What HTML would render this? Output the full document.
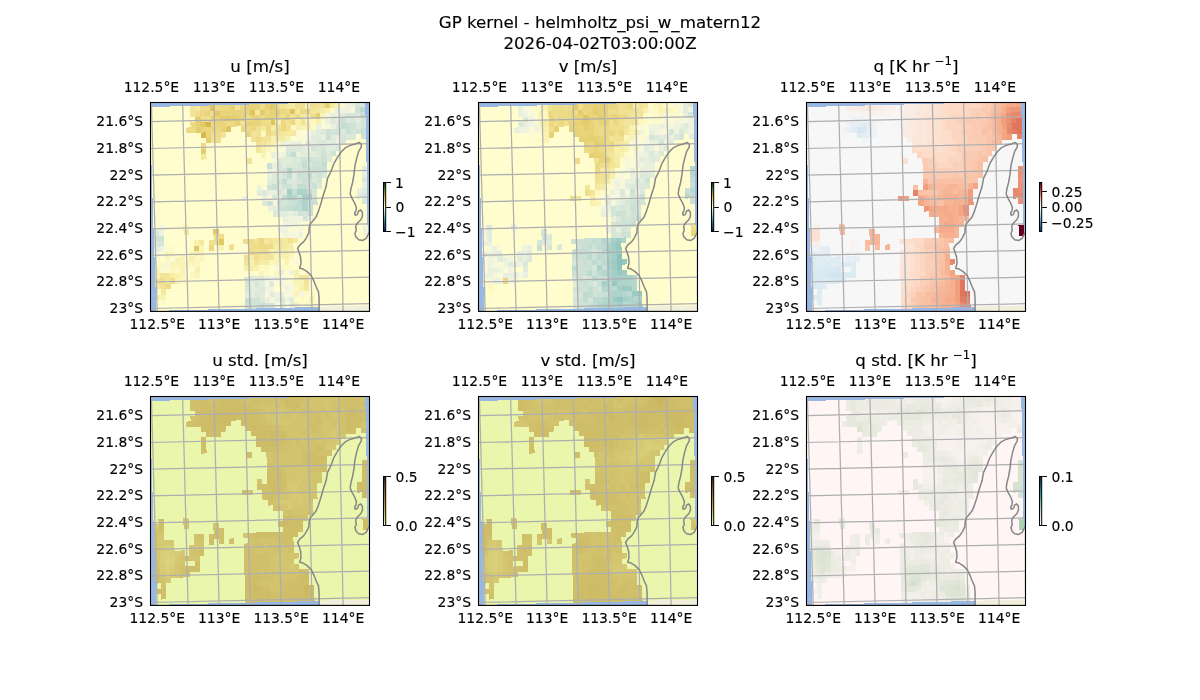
<!DOCTYPE html>
<html><head><meta charset="utf-8"><title>GP kernel</title>
<style>
html,body{margin:0;padding:0;background:#fff}
svg{display:block;will-change:transform}
text{font-family:"DejaVu Sans","Liberation Sans",sans-serif;font-size:13.89px;fill:#000;stroke:#000;stroke-width:0.14px}
</style></head><body>

<svg width="1200" height="700" viewBox="0 0 1200 700">
<rect width="1200" height="700" fill="#fff"/>
<text x="600" y="27.6" style="font-size:16.67px" text-anchor="middle">GP kernel - helmholtz_psi_w_matern12</text>
<text x="600" y="48.6" style="font-size:16.67px" text-anchor="middle">2026-04-02T03:00:00Z</text>
<g transform="translate(150.5 102.5)">
<clipPath id="c0"><rect x="0" y="0" width="219.0" height="208.9"/></clipPath>
<g clip-path="url(#c0)">
<rect x="0" y="0" width="219.0" height="208.9" fill="#98b7e2"/>
<path d="M168.6 209 L168.6 196.2 L168 189.4 L165.5 184 L163.4 178.6 L160.7 173.1 L156.6 169.1 L152.6 166.6 L149.2 165.7 L150.5 160.9 L150.1 154.8 L148.5 149.4 L147.1 146 L149.2 142.6 L153.3 139.2 L156 135.1 L158.3 130.4 L158.7 124.9 L160 120.9 L161.4 119.4 L165.5 114.6 L167.5 109.9 L170.2 101.7 L172.9 92.2 L175.6 84.1 L177 75.9 L180.4 69.1 L183.1 61.7 L186.5 55.6 L190.6 49.5 L194.6 45.4 L200.1 42.7 L205.5 41.3 L208.9 40 L210.9 42 L210.7 44.7 L208.2 48.8 L206.2 55.6 L204.4 63.7 L203.5 71.9 L202.1 80 L200.3 86.8 L199.7 91.5 L201.4 95.6 L204.1 100.4 L205.9 105.1 L205.5 108.5 L204.1 110.5 L204.8 112.8 L206.9 111.9 L208.2 108.5 L210.3 107.5 L211.9 109.9 L211.9 113.9 L210.3 117.3 L207.5 120 L205.5 122.8 L205.2 125 L205.8 127.7 L204.4 131.1 L205.5 134.5 L208.2 137.2 L212.3 137.9 L215.7 135.8 L217.7 131.8 L220 128.5 L221.0 210.9 L168.6 210.9 Z" fill="#efefdb"/>
<g transform="rotate(-1.45 109.5 104.15)" shape-rendering="crispEdges">
<polygon points="2.1,1.75 217.1,1.75 217.1,70.85 215.61,205.66 3.22,205.66 2.1,70.85" fill="rgb(255,253,205)"/>
<path fill="rgb(242,229,153)" d="M42.1 1.75h5.2v5.57h-5.2zM87.1 1.75h5.2v5.57h-5.2zM132.1 1.75h5.2v5.57h-5.2zM172.1 1.75h5.2v5.57h-5.2zM42.1 7.12h5.2v5.57h-5.2zM162.1 7.12h10.2v5.57h-10.2zM72.1 28.58h5.2v5.57h-5.2zM102.1 28.58h5.2v5.57h-5.2zM127.1 28.58h5.2v5.57h-5.2zM117.1 33.95h5.2v5.57h-5.2zM112.1 39.31h5.2v5.57h-5.2zM107.1 44.68h5.2v5.57h-5.2zM116.96 135.9h5.17v5.57h-5.17zM126.9 135.9h5.17v5.57h-5.17zM126.89 141.27h5.17v5.57h-5.17zM111.97 152h10.12v5.57h-10.12zM92.12 157.36h5.16v5.57h-5.16zM102.04 157.36h5.16v5.57h-5.16zM7.89 168.1h10.11v5.57h-10.11zM146.6 173.46h10.11v5.57h-10.11zM151.53 178.83h5.15v5.57h-5.15z"/>
<path fill="rgb(244,233,159)" d="M47.1 1.75h5.2v5.57h-5.2zM137.1 1.75h5.2v5.57h-5.2zM107.1 7.12h5.2v5.57h-5.2zM147.1 7.12h5.2v5.57h-5.2zM152.1 12.48h5.2v5.57h-5.2zM112.1 23.21h5.2v5.57h-5.2zM132.1 28.58h15.2v5.57h-15.2zM127.1 33.95h5.2v5.57h-5.2zM52.1 50.04h5.2v5.57h-5.2zM32.42 125.17h5.17v5.57h-5.17zM47.39 135.9h5.17v5.57h-5.17zM111.99 135.9h5.17v5.57h-5.17zM121.93 135.9h5.17v5.57h-5.17zM131.87 135.9h5.17v5.57h-5.17zM141.81 135.9h5.17v5.57h-5.17zM131.85 141.27h5.17v5.57h-5.17zM107 152h5.16v5.57h-5.16zM12.88 173.46h5.15v5.57h-5.15zM3.02 178.83h5.15v5.57h-5.15zM8.01 184.19h5.15v5.57h-5.15zM151.5 184.19h5.15v5.57h-5.15z"/>
<path fill="rgb(237,219,135)" d="M52.1 1.75h10.2v5.57h-10.2zM67.1 1.75h5.2v5.57h-5.2zM137.1 7.12h5.2v5.57h-5.2zM112.1 12.48h5.2v5.57h-5.2zM147.1 12.48h5.2v5.57h-5.2zM62.1 17.85h5.2v5.57h-5.2zM77.1 17.85h5.2v5.57h-5.2zM112.1 17.85h5.2v5.57h-5.2zM37.1 23.21h10.2v5.57h-10.2zM97.1 23.21h5.2v5.57h-5.2zM67.1 28.58h5.2v5.57h-5.2zM117.1 28.58h5.2v5.57h-5.2zM107.1 33.95h5.2v5.57h-5.2zM52.1 39.31h5.2v5.57h-5.2zM92.11 135.9h10.14v5.57h-10.14zM102.05 141.27h20.07v5.57h-20.07zM97.08 146.63h5.16v5.57h-5.16zM12.92 178.83h5.15v5.57h-5.15z"/>
<path fill="rgb(221,196,93)" d="M62.1 1.75h5.2v5.57h-5.2zM102.1 7.12h5.2v5.57h-5.2zM142.1 7.12h5.2v5.57h-5.2zM122.1 17.85h5.2v5.57h-5.2zM77.1 23.21h5.2v5.57h-5.2z"/>
<path fill="rgb(235,216,129)" d="M72.1 1.75h10.2v5.57h-10.2zM92.1 1.75h5.2v5.57h-5.2zM52.1 7.12h5.2v5.57h-5.2zM117.1 7.12h5.2v5.57h-5.2zM132.1 7.12h5.2v5.57h-5.2zM152.1 7.12h10.2v5.57h-10.2zM127.1 12.48h5.2v5.57h-5.2zM42.1 17.85h5.2v5.57h-5.2zM82.1 17.85h5.2v5.57h-5.2zM132.1 17.85h5.2v5.57h-5.2zM142.1 17.85h5.2v5.57h-5.2zM57.1 23.21h5.2v5.57h-5.2zM67.1 23.21h5.2v5.57h-5.2zM92.1 23.21h5.2v5.57h-5.2zM102.1 23.21h5.2v5.57h-5.2zM117.1 23.21h5.2v5.57h-5.2zM132.1 23.21h5.2v5.57h-5.2zM107.02 135.9h5.17v5.57h-5.17zM57.35 141.27h5.17v5.57h-5.17z"/>
<path fill="rgb(230,209,117)" d="M82.1 1.75h5.2v5.57h-5.2zM97.1 1.75h10.2v5.57h-10.2zM117.1 1.75h5.2v5.57h-5.2zM177.1 1.75h5.2v5.57h-5.2zM122.1 7.12h10.2v5.57h-10.2zM62.1 12.48h5.2v5.57h-5.2zM87.1 12.48h5.2v5.57h-5.2zM167.1 12.48h5.2v5.57h-5.2zM47.1 17.85h5.2v5.57h-5.2zM87.1 17.85h5.2v5.57h-5.2zM97.1 17.85h5.2v5.57h-5.2zM72.1 23.21h5.2v5.57h-5.2z"/>
<path fill="rgb(233,212,123)" d="M107.1 1.75h5.2v5.57h-5.2zM57.1 7.12h5.2v5.57h-5.2zM72.1 7.12h30.2v5.57h-30.2zM67.1 12.48h5.2v5.57h-5.2zM92.1 12.48h5.2v5.57h-5.2zM102.1 12.48h10.2v5.57h-10.2zM117.1 12.48h10.2v5.57h-10.2zM137.1 12.48h5.2v5.57h-5.2zM67.1 17.85h10.2v5.57h-10.2zM102.1 17.85h10.2v5.57h-10.2zM52.1 23.21h5.2v5.57h-5.2zM62.1 23.21h5.2v5.57h-5.2zM57.1 28.58h5.2v5.57h-5.2zM97.1 28.58h5.2v5.57h-5.2z"/>
<path fill="rgb(239,222,141)" d="M112.1 1.75h5.2v5.57h-5.2zM127.1 1.75h5.2v5.57h-5.2zM162.1 1.75h5.2v5.57h-5.2zM47.1 7.12h5.2v5.57h-5.2zM62.1 7.12h5.2v5.57h-5.2zM52.1 12.48h10.2v5.57h-10.2zM97.1 12.48h5.2v5.57h-5.2zM132.1 12.48h5.2v5.57h-5.2zM162.1 12.48h5.2v5.57h-5.2zM117.1 17.85h5.2v5.57h-5.2zM62.1 28.58h5.2v5.57h-5.2zM67.1 33.95h5.2v5.57h-5.2zM62.28 130.53h10.14v5.57h-10.14zM57.33 135.9h10.14v5.57h-10.14zM77.21 141.27h5.17v5.57h-5.17zM97.08 141.27h5.17v5.57h-5.17zM107.01 146.63h10.13v5.57h-10.13zM92.12 152h5.16v5.57h-5.16zM102.04 152h5.16v5.57h-5.16zM7.93 173.46h5.15v5.57h-5.15zM17.83 173.46h5.15v5.57h-5.15z"/>
<path fill="rgb(226,202,105)" d="M122.1 1.75h5.2v5.57h-5.2zM77.1 12.48h5.2v5.57h-5.2zM52.1 17.85h5.2v5.57h-5.2zM62.27 125.17h5.17v5.57h-5.17zM67.27 135.9h5.17v5.57h-5.17zM42.44 141.27h5.17v5.57h-5.17z"/>
<path fill="rgb(246,236,165)" d="M142.1 1.75h5.2v5.57h-5.2zM182.1 1.75h5.2v5.57h-5.2zM172.1 7.12h5.2v5.57h-5.2zM157.1 12.48h5.2v5.57h-5.2zM122.1 23.21h5.2v5.57h-5.2zM132.1 33.95h5.2v5.57h-5.2zM117.1 39.31h5.2v5.57h-5.2zM121.92 141.27h5.17v5.57h-5.17zM136.82 141.27h5.17v5.57h-5.17zM126.87 146.63h10.13v5.57h-10.13zM97.08 152h5.16v5.57h-5.16zM107 157.36h10.12v5.57h-10.12zM97.08 162.73h5.16v5.57h-5.16zM17.8 168.1h5.16v5.57h-5.16z"/>
<path fill="rgb(241,226,147)" d="M147.1 1.75h10.2v5.57h-10.2zM167.1 1.75h5.2v5.57h-5.2zM142.1 12.48h5.2v5.57h-5.2zM92.1 17.85h5.2v5.57h-5.2zM137.1 17.85h5.2v5.57h-5.2zM152.1 17.85h5.2v5.57h-5.2zM107.1 23.21h5.2v5.57h-5.2zM127.1 23.21h5.2v5.57h-5.2zM137.1 23.21h5.2v5.57h-5.2zM107.1 28.58h5.2v5.57h-5.2zM122.1 28.58h5.2v5.57h-5.2zM62.1 33.95h5.2v5.57h-5.2zM102.1 33.95h5.2v5.57h-5.2zM112.1 33.95h5.2v5.57h-5.2zM107.1 39.31h5.2v5.57h-5.2zM97.1 55.41h5.2v5.57h-5.2zM102.05 135.9h5.17v5.57h-5.17zM136.84 135.9h5.17v5.57h-5.17zM102.05 146.63h5.16v5.57h-5.16zM2.98 173.46h5.15v5.57h-5.15zM7.97 178.83h5.15v5.57h-5.15z"/>
<path fill="rgb(250,243,182)" d="M157.1 1.75h5.2v5.57h-5.2zM187.1 1.75h5.2v5.57h-5.2zM172.1 12.48h5.2v5.57h-5.2zM157.1 17.85h5.2v5.57h-5.2zM152.1 23.21h5.2v5.57h-5.2zM137.1 33.95h5.2v5.57h-5.2zM112.1 50.04h5.2v5.57h-5.2zM47.41 141.27h5.17v5.57h-5.17zM12.68 146.63h5.16v5.57h-5.16zM47.43 146.63h5.16v5.57h-5.16zM22.65 152h10.12v5.57h-10.12zM121.89 152h10.12v5.57h-10.12zM17.72 157.36h15.08v5.57h-15.08zM121.88 157.36h5.16v5.57h-5.16zM131.8 157.36h5.16v5.57h-5.16zM2.89 162.73h5.16v5.57h-5.16zM27.67 162.73h5.16v5.57h-5.16zM27.71 168.1h5.16v5.57h-5.16zM42.57 168.1h5.16v5.57h-5.16zM106.99 168.1h5.16v5.57h-5.16zM22.79 173.46h5.15v5.57h-5.15zM141.63 178.83h10.1v5.57h-10.1zM8.06 189.56h5.15v5.57h-5.15zM141.58 189.56h5.15v5.57h-5.15zM141.53 200.29h5.14v5.57h-5.14z"/>
<path fill="rgb(251,250,214)" d="M192.1 1.75h5.2v5.57h-5.2zM172.1 17.85h5.2v5.57h-5.2zM172.1 23.21h5.2v5.57h-5.2zM147.1 28.58h5.2v5.57h-5.2zM147.1 33.95h10.2v5.57h-10.2zM152.1 39.31h5.2v5.57h-5.2zM127.1 44.68h10.2v5.57h-10.2zM146.86 119.8h10.15v5.57h-10.15zM136.88 125.17h10.15v5.57h-10.15zM12.64 141.27h5.17v5.57h-5.17zM17.68 152h5.16v5.57h-5.16zM141.72 157.36h5.16v5.57h-5.16zM7.84 162.73h5.16v5.57h-5.16zM131.74 173.46h5.15v5.57h-5.15zM121.83 178.83h5.15v5.57h-5.15zM131.73 178.83h5.15v5.57h-5.15zM131.65 200.29h5.14v5.57h-5.14z"/>
<path fill="rgb(240,244,223)" d="M197.1 1.75h5.2v5.57h-5.2zM192.1 7.12h10.2v5.57h-10.2zM187.1 12.48h5.2v5.57h-5.2zM157.1 33.95h5.2v5.57h-5.2zM137.1 39.31h5.2v5.57h-5.2zM187.1 39.31h5.2v5.57h-5.2zM132.1 50.04h5.2v5.57h-5.2zM122.1 66.14h5.2v5.57h-5.2zM107.08 82.24h5.19v5.57h-5.19zM136.92 114.44h15.14v5.57h-15.14zM156.84 114.44h5.18v5.57h-5.18zM131.93 119.8h15.13v5.57h-15.13zM7.55 125.17h5.17v5.57h-5.17zM126.93 125.17h10.15v5.57h-10.15zM211.5 125.17h5.17v5.57h-5.17zM131.89 130.53h5.17v5.57h-5.17zM146.8 130.53h5.17v5.57h-5.17zM211.44 130.53h5.17v5.57h-5.17zM7.68 141.27h5.17v5.57h-5.17zM136.72 168.1h5.16v5.57h-5.16zM116.89 173.46h10.11v5.57h-10.11zM126.78 178.83h5.15v5.57h-5.15zM111.92 184.19h10.1v5.57h-10.1zM131.71 184.19h5.15v5.57h-5.15zM121.8 189.56h5.15v5.57h-5.15zM131.67 194.93h5.14v5.57h-5.14z"/>
<path fill="rgb(233,240,222)" d="M202.1 1.75h5.2v5.57h-5.2zM187.1 7.12h5.2v5.57h-5.2zM182.1 12.48h5.2v5.57h-5.2zM177.1 17.85h5.2v5.57h-5.2zM167.1 23.21h5.2v5.57h-5.2zM182.1 23.21h5.2v5.57h-5.2zM162.1 28.58h5.2v5.57h-5.2zM172.1 33.95h5.2v5.57h-5.2zM187.1 33.95h5.2v5.57h-5.2zM132.1 39.31h5.2v5.57h-5.2zM142.1 39.31h10.2v5.57h-10.2zM162.1 39.31h5.2v5.57h-5.2zM157.1 44.68h5.2v5.57h-5.2zM122.1 50.04h5.2v5.57h-5.2zM147.1 50.04h5.2v5.57h-5.2zM122.1 60.78h5.2v5.57h-5.2zM117.1 66.14h5.2v5.57h-5.2zM117.09 71.51h5.2v5.57h-5.2zM212.06 71.51h5.2v5.57h-5.2zM211.95 82.24h5.19v5.57h-5.19zM117.06 87.61h10.18v5.57h-10.18zM206.9 87.61h5.19v5.57h-5.19zM92.11 92.97h5.19v5.57h-5.19zM112.06 92.97h5.19v5.57h-5.19zM127.03 92.97h5.19v5.57h-5.19zM117.03 103.7h5.18v5.57h-5.18zM136.94 109.07h5.18v5.57h-5.18zM131.94 114.44h5.18v5.57h-5.18zM2.71 141.27h5.17v5.57h-5.17zM126.81 168.1h5.16v5.57h-5.16zM111.93 173.46h5.15v5.57h-5.15zM126.74 189.56h5.15v5.57h-5.15zM111.9 194.93h5.14v5.57h-5.14zM121.79 194.93h5.14v5.57h-5.14z"/>
<path fill="rgb(213,229,216)" d="M207.1 1.75h5.2v5.57h-5.2zM197.1 12.48h10.2v5.57h-10.2zM202.1 17.85h5.2v5.57h-5.2zM212.1 17.85h5.2v5.57h-5.2zM212.1 23.21h5.2v5.57h-5.2zM182.1 28.58h5.2v5.57h-5.2zM202.1 28.58h5.2v5.57h-5.2zM192.1 33.95h5.2v5.57h-5.2zM192.1 39.31h5.2v5.57h-5.2zM162.1 44.68h5.2v5.57h-5.2zM172.1 44.68h5.2v5.57h-5.2zM187.1 44.68h5.2v5.57h-5.2zM137.1 50.04h5.2v5.57h-5.2zM162.1 55.41h10.2v5.57h-10.2zM127.1 60.78h5.2v5.57h-5.2zM147.1 60.78h5.2v5.57h-5.2zM127.1 66.14h10.2v5.57h-10.2zM142.1 66.14h10.2v5.57h-10.2zM132.09 71.51h5.2v5.57h-5.2zM127.07 76.87h5.2v5.57h-5.2zM147.06 76.87h5.2v5.57h-5.2zM167.04 76.87h5.2v5.57h-5.2zM157.02 82.24h5.19v5.57h-5.19zM127.04 87.61h5.19v5.57h-5.19zM161.98 87.61h5.19v5.57h-5.19zM122.04 92.97h5.19v5.57h-5.19zM161.95 92.97h5.19v5.57h-5.19zM132 98.34h5.19v5.57h-5.19zM151.89 109.07h5.18v5.57h-5.18zM151.86 114.44h5.18v5.57h-5.18zM7.63 135.9h5.17v5.57h-5.17zM92.12 173.46h5.15v5.57h-5.15zM92.12 178.83h5.15v5.57h-5.15zM102.02 178.83h5.15v5.57h-5.15zM102.01 200.29h5.14v5.57h-5.14zM111.89 200.29h10.08v5.57h-10.08z"/>
<path fill="rgb(220,232,218)" d="M212.1 1.75h5.2v5.57h-5.2zM207.1 12.48h5.2v5.57h-5.2zM182.1 17.85h5.2v5.57h-5.2zM197.1 17.85h5.2v5.57h-5.2zM187.1 23.21h5.2v5.57h-5.2zM207.1 23.21h5.2v5.57h-5.2zM172.1 28.58h5.2v5.57h-5.2zM192.1 28.58h5.2v5.57h-5.2zM197.1 33.95h10.2v5.57h-10.2zM157.1 39.31h5.2v5.57h-5.2zM167.1 39.31h10.2v5.57h-10.2zM137.1 44.68h15.2v5.57h-15.2zM167.1 44.68h5.2v5.57h-5.2zM167.1 50.04h5.2v5.57h-5.2zM177.1 50.04h5.2v5.57h-5.2zM127.1 55.41h5.2v5.57h-5.2zM142.1 55.41h10.2v5.57h-10.2zM177.1 55.41h5.2v5.57h-5.2zM137.1 60.78h10.2v5.57h-10.2zM157.1 60.78h5.2v5.57h-5.2zM122.09 71.51h5.2v5.57h-5.2zM162.08 71.51h5.2v5.57h-5.2zM172.08 71.51h5.2v5.57h-5.2zM122.08 76.87h5.2v5.57h-5.2zM137.07 76.87h10.19v5.57h-10.19zM162.05 76.87h5.2v5.57h-5.2zM212.01 76.87h5.2v5.57h-5.2zM127.06 82.24h5.19v5.57h-5.19zM142.04 82.24h5.19v5.57h-5.19zM167.01 82.24h5.19v5.57h-5.19zM112.07 87.61h5.19v5.57h-5.19zM211.84 92.97h5.19v5.57h-5.19zM112.05 98.34h5.19v5.57h-5.19zM211.78 98.34h5.19v5.57h-5.19zM122 109.07h5.18v5.57h-5.18zM2.57 125.17h5.17v5.57h-5.17zM2.66 135.9h5.17v5.57h-5.17zM97.08 173.46h15.06v5.57h-15.06zM92.13 184.19h5.15v5.57h-5.15zM106.97 184.19h5.15v5.57h-5.15zM102.02 189.56h5.15v5.57h-5.15zM106.96 194.93h5.14v5.57h-5.14zM126.73 194.93h5.14v5.57h-5.14z"/>
<path fill="rgb(223,199,99)" d="M67.1 7.12h5.2v5.57h-5.2z"/>
<path fill="rgb(228,205,111)" d="M112.1 7.12h5.2v5.57h-5.2zM47.1 12.48h5.2v5.57h-5.2zM72.1 12.48h5.2v5.57h-5.2zM82.1 12.48h5.2v5.57h-5.2zM47.1 23.21h5.2v5.57h-5.2zM57.1 33.95h5.2v5.57h-5.2zM52.1 44.68h5.2v5.57h-5.2z"/>
<path fill="rgb(248,240,173)" d="M177.1 7.12h5.2v5.57h-5.2zM127.1 17.85h5.2v5.57h-5.2zM147.1 17.85h5.2v5.57h-5.2zM167.1 17.85h5.2v5.57h-5.2zM147.1 23.21h5.2v5.57h-5.2zM157.1 23.21h5.2v5.57h-5.2zM122.1 33.95h5.2v5.57h-5.2zM122.1 39.31h5.2v5.57h-5.2zM112.1 44.68h5.2v5.57h-5.2zM42.42 135.9h5.17v5.57h-5.17zM67.28 141.27h5.17v5.57h-5.17zM42.47 146.63h5.16v5.57h-5.16zM116.94 146.63h10.13v5.57h-10.13zM136.8 146.63h5.16v5.57h-5.16zM37.53 152h5.16v5.57h-5.16zM131.82 152h5.16v5.57h-5.16zM97.08 157.36h5.16v5.57h-5.16zM42.55 162.73h5.16v5.57h-5.16zM92.12 162.73h5.16v5.57h-5.16zM102.04 162.73h5.16v5.57h-5.16zM2.93 168.1h5.16v5.57h-5.16zM22.75 168.1h5.16v5.57h-5.16zM141.67 168.1h5.16v5.57h-5.16zM141.65 173.46h5.15v5.57h-5.15zM146.55 184.19h5.15v5.57h-5.15zM3.11 189.56h5.15v5.57h-5.15zM156.39 194.93h5.14v5.57h-5.14z"/>
<path fill="rgb(253,250,197)" d="M182.1 7.12h5.2v5.57h-5.2zM142.1 23.21h5.2v5.57h-5.2zM162.1 23.21h5.2v5.57h-5.2zM122.1 44.68h5.2v5.57h-5.2zM17.61 141.27h5.17v5.57h-5.17zM92.12 146.63h5.16v5.57h-5.16zM2.8 152h5.16v5.57h-5.16zM2.84 157.36h5.16v5.57h-5.16zM12.8 162.73h5.16v5.57h-5.16zM22.72 162.73h5.16v5.57h-5.16zM106.99 162.73h5.16v5.57h-5.16zM126.82 162.73h15.07v5.57h-15.07zM97.08 168.1h5.16v5.57h-5.16zM111.94 168.1h5.16v5.57h-5.16zM32.69 173.46h5.15v5.57h-5.15zM151.47 189.56h10.09v5.57h-10.09zM8.1 194.93h5.14v5.57h-5.14zM146.5 194.93h5.14v5.57h-5.14z"/>
<path fill="rgb(246,247,220)" d="M202.1 7.12h5.2v5.57h-5.2zM177.1 12.48h5.2v5.57h-5.2zM177.1 23.21h5.2v5.57h-5.2zM157.1 28.58h5.2v5.57h-5.2zM127.1 50.04h5.2v5.57h-5.2zM122.1 55.41h5.2v5.57h-5.2zM117.05 92.97h5.19v5.57h-5.19zM122.02 98.34h5.19v5.57h-5.19zM7.51 119.8h5.18v5.57h-5.18zM146.83 125.17h5.17v5.57h-5.17zM136.86 130.53h10.14v5.57h-10.14zM2.75 146.63h5.16v5.57h-5.16zM12.76 157.36h5.16v5.57h-5.16zM121.87 162.73h5.16v5.57h-5.16zM126.79 173.46h5.15v5.57h-5.15zM111.92 178.83h5.15v5.57h-5.15zM136.68 178.83h5.15v5.57h-5.15zM136.66 184.19h5.15v5.57h-5.15zM111.91 189.56h5.15v5.57h-5.15zM131.69 189.56h10.09v5.57h-10.09zM146.53 189.56h5.15v5.57h-5.15zM116.84 194.93h5.14v5.57h-5.14zM121.77 200.29h5.14v5.57h-5.14z"/>
<path fill="rgb(207,226,214)" d="M207.1 7.12h5.2v5.57h-5.2zM202.1 23.21h5.2v5.57h-5.2zM177.1 28.58h5.2v5.57h-5.2zM187.1 28.58h5.2v5.57h-5.2zM207.1 28.58h5.2v5.57h-5.2zM212.1 33.95h5.2v5.57h-5.2zM172.1 50.04h5.2v5.57h-5.2zM182.1 50.04h5.2v5.57h-5.2zM152.1 55.41h10.2v5.57h-10.2zM172.1 55.41h5.2v5.57h-5.2zM162.1 60.78h10.2v5.57h-10.2zM152.1 66.14h10.2v5.57h-10.2zM152.08 71.51h5.2v5.57h-5.2zM167.08 71.51h5.2v5.57h-5.2zM157.05 76.87h5.2v5.57h-5.2zM117.07 82.24h5.19v5.57h-5.19zM132.05 82.24h10.19v5.57h-10.19zM146.98 92.97h5.19v5.57h-5.19zM117.04 98.34h5.19v5.57h-5.19zM127.01 98.34h5.19v5.57h-5.19zM136.98 98.34h5.19v5.57h-5.19zM127 103.7h5.18v5.57h-5.18zM146.91 109.07h5.18v5.57h-5.18zM2.62 130.53h10.14v5.57h-10.14zM97.07 194.93h10.09v5.57h-10.09zM97.07 200.29h5.14v5.57h-5.14z"/>
<path fill="rgb(188,218,208)" d="M212.1 7.12h5.2v5.57h-5.2zM146.96 98.34h5.19v5.57h-5.19zM141.95 103.7h5.18v5.57h-5.18z"/>
<path fill="rgb(226,236,220)" d="M192.1 12.48h5.2v5.57h-5.2zM187.1 17.85h5.2v5.57h-5.2zM207.1 17.85h5.2v5.57h-5.2zM167.1 28.58h5.2v5.57h-5.2zM162.1 33.95h10.2v5.57h-10.2zM182.1 33.95h5.2v5.57h-5.2zM177.1 39.31h10.2v5.57h-10.2zM152.1 44.68h5.2v5.57h-5.2zM177.1 44.68h10.2v5.57h-10.2zM152.1 50.04h15.2v5.57h-15.2zM132.1 55.41h10.2v5.57h-10.2zM132.1 60.78h5.2v5.57h-5.2zM212.1 66.14h5.2v5.57h-5.2zM127.09 71.51h5.2v5.57h-5.2zM142.09 71.51h5.2v5.57h-5.2zM117.08 76.87h5.2v5.57h-5.2zM107.08 87.61h5.19v5.57h-5.19zM132.03 87.61h5.19v5.57h-5.19zM211.89 87.61h5.19v5.57h-5.19zM206.85 92.97h5.19v5.57h-5.19zM122.01 103.7h5.18v5.57h-5.18zM126.98 109.07h10.16v5.57h-10.16zM141.92 109.07h5.18v5.57h-5.18zM97.07 178.83h5.15v5.57h-5.15zM106.97 178.83h5.15v5.57h-5.15zM116.87 178.83h5.15v5.57h-5.15zM97.07 184.19h10.1v5.57h-10.1zM92.13 189.56h10.09v5.57h-10.09zM106.96 189.56h5.15v5.57h-5.15zM116.85 189.56h5.15v5.57h-5.15zM136.61 194.93h5.14v5.57h-5.14zM126.71 200.29h5.14v5.57h-5.14zM136.59 200.29h5.14v5.57h-5.14z"/>
<path fill="rgb(202,223,213)" d="M212.1 12.48h5.2v5.57h-5.2zM192.1 17.85h5.2v5.57h-5.2zM197.1 23.21h5.2v5.57h-5.2zM197.1 28.58h5.2v5.57h-5.2zM212.1 28.58h5.2v5.57h-5.2zM177.1 33.95h5.2v5.57h-5.2zM117.1 60.78h5.2v5.57h-5.2zM162.1 66.14h15.2v5.57h-15.2zM147.08 71.51h5.2v5.57h-5.2zM152.05 76.87h5.2v5.57h-5.2zM122.06 82.24h5.19v5.57h-5.19zM162.01 82.24h5.19v5.57h-5.19zM142.02 87.61h5.19v5.57h-5.19zM141.97 98.34h5.19v5.57h-5.19zM161.92 98.34h5.19v5.57h-5.19zM131.98 103.7h10.17v5.57h-10.17zM156.9 103.7h5.18v5.57h-5.18zM156.87 109.07h5.18v5.57h-5.18zM92.13 200.29h5.14v5.57h-5.14zM106.95 200.29h5.14v5.57h-5.14z"/>
<path fill="rgb(213,186,75)" d="M57.1 17.85h5.2v5.57h-5.2zM52.1 28.58h5.2v5.57h-5.2z"/>
<path fill="rgb(252,247,190)" d="M162.1 17.85h5.2v5.57h-5.2zM112.1 28.58h5.2v5.57h-5.2zM127.1 39.31h5.2v5.57h-5.2zM117.1 44.68h5.2v5.57h-5.2zM32.39 119.8h5.18v5.57h-5.18zM17.65 146.63h5.16v5.57h-5.16zM37.51 146.63h5.16v5.57h-5.16zM12.72 152h5.16v5.57h-5.16zM42.5 152h10.12v5.57h-10.12zM136.78 152h5.16v5.57h-5.16zM7.8 157.36h5.16v5.57h-5.16zM32.6 157.36h15.08v5.57h-15.08zM116.92 157.36h5.16v5.57h-5.16zM17.76 162.73h5.16v5.57h-5.16zM111.95 162.73h5.16v5.57h-5.16zM37.62 168.1h5.16v5.57h-5.16zM121.85 168.1h5.16v5.57h-5.16zM27.74 173.46h5.15v5.57h-5.15zM141.6 184.19h5.15v5.57h-5.15zM151.41 200.29h10.08v5.57h-10.08z"/>
<path fill="rgb(196,221,211)" d="M192.1 23.21h5.2v5.57h-5.2zM142.1 50.04h5.2v5.57h-5.2zM152.1 60.78h5.2v5.57h-5.2zM172.1 60.78h5.2v5.57h-5.2zM137.09 71.51h5.2v5.57h-5.2zM157.08 71.51h5.2v5.57h-5.2zM132.07 76.87h5.2v5.57h-5.2zM147.03 82.24h10.19v5.57h-10.19zM156.99 87.61h5.19v5.57h-5.19zM132.02 92.97h5.19v5.57h-5.19zM156.93 98.34h5.19v5.57h-5.19zM146.93 103.7h5.18v5.57h-5.18zM92.13 194.93h5.14v5.57h-5.14z"/>
<path fill="rgb(255,253,205)" d="M152.1 28.58h5.2v5.57h-5.2zM142.1 33.95h5.2v5.57h-5.2zM117.1 50.04h5.2v5.57h-5.2zM117.1 55.41h5.2v5.57h-5.2zM97.09 92.97h5.19v5.57h-5.19zM7.72 146.63h5.16v5.57h-5.16zM7.76 152h5.16v5.57h-5.16zM126.84 157.36h5.16v5.57h-5.16zM136.76 157.36h5.16v5.57h-5.16zM116.91 162.73h5.16v5.57h-5.16zM32.66 168.1h5.16v5.57h-5.16zM92.12 168.1h5.16v5.57h-5.16zM102.03 168.1h5.16v5.57h-5.16zM116.9 168.1h5.16v5.57h-5.16zM131.76 168.1h5.16v5.57h-5.16zM136.7 173.46h5.15v5.57h-5.15zM121.81 184.19h10.1v5.57h-10.1zM141.56 194.93h5.14v5.57h-5.14zM151.44 194.93h5.14v5.57h-5.14zM146.47 200.29h5.14v5.57h-5.14z"/>
<path fill="rgb(181,214,205)" d="M137.1 66.14h5.2v5.57h-5.2zM141.99 92.97h5.19v5.57h-5.19z"/>
<path fill="rgb(166,207,200)" d="M137.03 87.61h5.19v5.57h-5.19zM151.97 92.97h10.18v5.57h-10.18z"/>
<path fill="rgb(173,211,203)" d="M147.01 87.61h10.18v5.57h-10.18zM137 92.97h5.19v5.57h-5.19zM151.94 98.34h5.19v5.57h-5.19zM151.92 103.7h5.18v5.57h-5.18z"/>
</g>
<path d="M0.9 0L6.7 208.9M32.1 0L37.6 208.9M63.4 0L68.6 208.9M94.6 0L99.6 208.9M125.9 0L130.6 208.9M157.1 0L161.5 208.9M188.4 0L192.6 208.9M0 19.1L219 14.2M0 46L219 41.1M0 72.7L219 67.8M0 99.4L219 94.5M0 126.3L219 121.4M0 152.8L219 147.9M0 179.5L219 174.6M0 206L219 201.1" stroke="#aeaeb0" stroke-width="1.25" fill="none"/>
<path d="M168.6 209 L168.6 196.2 L168 189.4 L165.5 184 L163.4 178.6 L160.7 173.1 L156.6 169.1 L152.6 166.6 L149.2 165.7 L150.5 160.9 L150.1 154.8 L148.5 149.4 L147.1 146 L149.2 142.6 L153.3 139.2 L156 135.1 L158.3 130.4 L158.7 124.9 L160 120.9 L161.4 119.4 L165.5 114.6 L167.5 109.9 L170.2 101.7 L172.9 92.2 L175.6 84.1 L177 75.9 L180.4 69.1 L183.1 61.7 L186.5 55.6 L190.6 49.5 L194.6 45.4 L200.1 42.7 L205.5 41.3 L208.9 40 L210.9 42 L210.7 44.7 L208.2 48.8 L206.2 55.6 L204.4 63.7 L203.5 71.9 L202.1 80 L200.3 86.8 L199.7 91.5 L201.4 95.6 L204.1 100.4 L205.9 105.1 L205.5 108.5 L204.1 110.5 L204.8 112.8 L206.9 111.9 L208.2 108.5 L210.3 107.5 L211.9 109.9 L211.9 113.9 L210.3 117.3 L207.5 120 L205.5 122.8 L205.2 125 L205.8 127.7 L204.4 131.1 L205.5 134.5 L208.2 137.2 L212.3 137.9 L215.7 135.8 L217.7 131.8 L220 128.5" stroke="#878787" stroke-width="1.5" fill="none" stroke-linejoin="round"/>
</g>
<rect x="0" y="0" width="219.0" height="208.9" fill="none" stroke="#000" stroke-width="1.1"/>
<text x="109.5" y="-30.3" style="font-size:16.67px" text-anchor="middle">u [m/s]</text>
<text x="0.9" y="-10.9" text-anchor="middle">112.5°E</text>
<text x="6.7" y="226.8" text-anchor="middle">112.5°E</text>
<text x="63.4" y="-10.9" text-anchor="middle">113°E</text>
<text x="68.6" y="226.8" text-anchor="middle">113°E</text>
<text x="125.9" y="-10.9" text-anchor="middle">113.5°E</text>
<text x="130.6" y="226.8" text-anchor="middle">113.5°E</text>
<text x="188.4" y="-10.9" text-anchor="middle">114°E</text>
<text x="192.6" y="226.8" text-anchor="middle">114°E</text>
<text x="-7.5" y="23.5" text-anchor="end">21.6°S</text>
<text x="-7.5" y="50.4" text-anchor="end">21.8°S</text>
<text x="-7.5" y="77.1" text-anchor="end">22°S</text>
<text x="-7.5" y="103.8" text-anchor="end">22.2°S</text>
<text x="-7.5" y="130.7" text-anchor="end">22.4°S</text>
<text x="-7.5" y="157.2" text-anchor="end">22.6°S</text>
<text x="-7.5" y="183.9" text-anchor="end">22.8°S</text>
<text x="-7.5" y="210.4" text-anchor="end">23°S</text>
<linearGradient id="g0" x1="0" y1="0" x2="0" y2="1"><stop offset="0%" stop-color="rgb(23,35,19)"/><stop offset="8.3%" stop-color="rgb(35,107,47)"/><stop offset="16.7%" stop-color="rgb(92,145,41)"/><stop offset="25%" stop-color="rgb(180,170,45)"/><stop offset="33.3%" stop-color="rgb(222,197,95)"/><stop offset="41.7%" stop-color="rgb(240,225,145)"/><stop offset="50%" stop-color="rgb(255,253,205)"/><stop offset="58.3%" stop-color="rgb(205,225,214)"/><stop offset="66.7%" stop-color="rgb(144,197,192)"/><stop offset="75%" stop-color="rgb(75,155,172)"/><stop offset="83.3%" stop-color="rgb(32,104,157)"/><stop offset="91.7%" stop-color="rgb(26,65,129)"/><stop offset="100%" stop-color="rgb(17,32,64)"/></linearGradient>
<rect x="233.0" y="80.0" width="2.2" height="49" fill="url(#g0)" stroke="#000" stroke-width="1"/>
<path d="M235.7 80h4.7" stroke="#000" stroke-width="1"/>
<text x="244.5" y="85.3">1</text>
<path d="M235.7 105h4.7" stroke="#000" stroke-width="1"/>
<text x="245.1" y="109.8">0</text>
<path d="M235.7 129h4.7" stroke="#000" stroke-width="1"/>
<text x="244.5" y="134.3">−1</text>
</g>
<g transform="translate(478.5 102.5)">
<clipPath id="c1"><rect x="0" y="0" width="219.0" height="208.9"/></clipPath>
<g clip-path="url(#c1)">
<rect x="0" y="0" width="219.0" height="208.9" fill="#98b7e2"/>
<path d="M168.6 209 L168.6 196.2 L168 189.4 L165.5 184 L163.4 178.6 L160.7 173.1 L156.6 169.1 L152.6 166.6 L149.2 165.7 L150.5 160.9 L150.1 154.8 L148.5 149.4 L147.1 146 L149.2 142.6 L153.3 139.2 L156 135.1 L158.3 130.4 L158.7 124.9 L160 120.9 L161.4 119.4 L165.5 114.6 L167.5 109.9 L170.2 101.7 L172.9 92.2 L175.6 84.1 L177 75.9 L180.4 69.1 L183.1 61.7 L186.5 55.6 L190.6 49.5 L194.6 45.4 L200.1 42.7 L205.5 41.3 L208.9 40 L210.9 42 L210.7 44.7 L208.2 48.8 L206.2 55.6 L204.4 63.7 L203.5 71.9 L202.1 80 L200.3 86.8 L199.7 91.5 L201.4 95.6 L204.1 100.4 L205.9 105.1 L205.5 108.5 L204.1 110.5 L204.8 112.8 L206.9 111.9 L208.2 108.5 L210.3 107.5 L211.9 109.9 L211.9 113.9 L210.3 117.3 L207.5 120 L205.5 122.8 L205.2 125 L205.8 127.7 L204.4 131.1 L205.5 134.5 L208.2 137.2 L212.3 137.9 L215.7 135.8 L217.7 131.8 L220 128.5 L221.0 210.9 L168.6 210.9 Z" fill="#efefdb"/>
<g transform="rotate(-1.45 109.5 104.15)" shape-rendering="crispEdges">
<polygon points="2.1,1.75 217.1,1.75 217.1,70.85 215.61,205.66 3.22,205.66 2.1,70.85" fill="rgb(255,253,205)"/>
<path fill="rgb(233,240,222)" d="M42.1 1.75h5.2v5.57h-5.2zM42.1 7.12h5.2v5.57h-5.2zM207.1 12.48h5.2v5.57h-5.2zM47.1 17.85h5.2v5.57h-5.2zM37.1 23.21h5.2v5.57h-5.2zM182.1 23.21h5.2v5.57h-5.2zM202.1 23.21h5.2v5.57h-5.2zM172.1 28.58h5.2v5.57h-5.2zM207.1 28.58h5.2v5.57h-5.2zM192.1 33.95h5.2v5.57h-5.2zM172.1 39.31h10.2v5.57h-10.2zM172.1 44.68h5.2v5.57h-5.2zM182.1 44.68h5.2v5.57h-5.2zM167.1 50.04h5.2v5.57h-5.2zM177.1 50.04h5.2v5.57h-5.2zM167.1 55.41h5.2v5.57h-5.2zM167.1 60.78h10.2v5.57h-10.2zM152.1 66.14h5.2v5.57h-5.2zM162.1 66.14h15.2v5.57h-15.2zM152.08 71.51h5.2v5.57h-5.2zM147.06 76.87h10.19v5.57h-10.19zM132.03 87.61h5.19v5.57h-5.19zM156.99 87.61h5.19v5.57h-5.19zM127.03 92.97h5.19v5.57h-5.19zM146.98 92.97h5.19v5.57h-5.19zM136.98 98.34h5.19v5.57h-5.19zM127 103.7h5.18v5.57h-5.18zM122 109.07h5.18v5.57h-5.18zM131.94 114.44h5.18v5.57h-5.18zM32.39 119.8h5.18v5.57h-5.18zM126.93 125.17h5.17v5.57h-5.17zM136.88 125.17h5.17v5.57h-5.17zM2.66 135.9h10.14v5.57h-10.14zM12.64 141.27h5.17v5.57h-5.17zM47.41 141.27h5.17v5.57h-5.17zM2.75 146.63h15.09v5.57h-15.09zM37.51 146.63h10.13v5.57h-10.13zM22.65 152h5.16v5.57h-5.16zM42.5 152h5.16v5.57h-5.16zM7.84 162.73h10.11v5.57h-10.11zM7.89 168.1h5.16v5.57h-5.16zM22.75 168.1h15.07v5.57h-15.07zM42.57 168.1h5.16v5.57h-5.16zM12.88 173.46h5.15v5.57h-5.15z"/>
<path fill="rgb(246,247,220)" d="M47.1 1.75h5.2v5.57h-5.2zM197.1 1.75h5.2v5.57h-5.2zM202.1 7.12h5.2v5.57h-5.2zM187.1 12.48h5.2v5.57h-5.2zM57.1 17.85h5.2v5.57h-5.2zM187.1 17.85h5.2v5.57h-5.2zM197.1 17.85h15.2v5.57h-15.2zM192.1 23.21h5.2v5.57h-5.2zM182.1 28.58h5.2v5.57h-5.2zM157.1 33.95h5.2v5.57h-5.2zM167.1 33.95h5.2v5.57h-5.2zM157.1 39.31h5.2v5.57h-5.2zM167.1 39.31h5.2v5.57h-5.2zM152.1 44.68h5.2v5.57h-5.2zM162.1 44.68h5.2v5.57h-5.2zM177.1 44.68h5.2v5.57h-5.2zM147.1 55.41h10.2v5.57h-10.2zM147.1 60.78h5.2v5.57h-5.2zM147.1 66.14h5.2v5.57h-5.2zM142.09 71.51h5.2v5.57h-5.2zM132.07 76.87h5.2v5.57h-5.2zM142.06 76.87h5.2v5.57h-5.2zM142.04 82.24h5.19v5.57h-5.19zM137.03 87.61h5.19v5.57h-5.19zM147.01 87.61h5.19v5.57h-5.19zM132.02 92.97h10.18v5.57h-10.18zM132 98.34h5.19v5.57h-5.19zM2.62 130.53h5.17v5.57h-5.17zM7.68 141.27h5.17v5.57h-5.17zM2.8 152h5.16v5.57h-5.16zM12.72 152h5.16v5.57h-5.16zM2.84 157.36h5.16v5.57h-5.16zM12.76 157.36h5.16v5.57h-5.16zM2.89 162.73h5.16v5.57h-5.16zM12.84 168.1h5.16v5.57h-5.16zM37.62 168.1h5.16v5.57h-5.16zM7.93 173.46h5.15v5.57h-5.15z"/>
<path fill="rgb(251,250,214)" d="M52.1 1.75h5.2v5.57h-5.2zM202.1 1.75h5.2v5.57h-5.2zM52.1 7.12h10.2v5.57h-10.2zM172.1 7.12h5.2v5.57h-5.2zM57.1 12.48h5.2v5.57h-5.2zM192.1 12.48h10.2v5.57h-10.2zM172.1 17.85h5.2v5.57h-5.2zM182.1 17.85h5.2v5.57h-5.2zM192.1 17.85h5.2v5.57h-5.2zM52.1 23.21h5.2v5.57h-5.2zM162.1 23.21h10.2v5.57h-10.2zM52.1 28.58h5.2v5.57h-5.2zM187.1 28.58h5.2v5.57h-5.2zM152.1 39.31h5.2v5.57h-5.2zM162.1 39.31h5.2v5.57h-5.2zM157.1 55.41h5.2v5.57h-5.2zM152.1 60.78h5.2v5.57h-5.2zM142.1 66.14h5.2v5.57h-5.2zM157.1 66.14h5.2v5.57h-5.2zM137.09 71.51h5.2v5.57h-5.2zM132.05 82.24h5.19v5.57h-5.19zM122.04 92.97h5.19v5.57h-5.19zM117.03 103.7h5.18v5.57h-5.18zM32.42 125.17h5.17v5.57h-5.17zM17.61 141.27h5.17v5.57h-5.17zM17.72 157.36h5.16v5.57h-5.16zM22.72 162.73h5.16v5.57h-5.16zM17.8 168.1h5.16v5.57h-5.16zM3.02 178.83h5.15v5.57h-5.15z"/>
<path fill="rgb(253,250,197)" d="M57.1 1.75h10.2v5.57h-10.2zM187.1 1.75h5.2v5.57h-5.2zM177.1 7.12h5.2v5.57h-5.2zM197.1 7.12h5.2v5.57h-5.2zM177.1 12.48h5.2v5.57h-5.2zM167.1 17.85h5.2v5.57h-5.2zM177.1 17.85h5.2v5.57h-5.2zM157.1 23.21h5.2v5.57h-5.2zM62.1 28.58h5.2v5.57h-5.2zM57.1 33.95h10.2v5.57h-10.2zM147.1 50.04h5.2v5.57h-5.2zM142.1 55.41h5.2v5.57h-5.2zM127.06 82.24h5.19v5.57h-5.19zM122.05 87.61h10.18v5.57h-10.18zM117.05 92.97h5.19v5.57h-5.19zM42.42 135.9h5.17v5.57h-5.17zM8.01 184.19h5.15v5.57h-5.15z"/>
<path fill="rgb(248,240,173)" d="M67.1 1.75h5.2v5.57h-5.2zM157.1 1.75h5.2v5.57h-5.2zM167.1 7.12h5.2v5.57h-5.2zM67.1 23.21h5.2v5.57h-5.2zM152.1 23.21h5.2v5.57h-5.2zM152.1 28.58h5.2v5.57h-5.2zM137.1 44.68h5.2v5.57h-5.2zM147.1 44.68h5.2v5.57h-5.2zM142.1 50.04h5.2v5.57h-5.2zM132.09 71.51h5.2v5.57h-5.2zM112.05 98.34h5.19v5.57h-5.19z"/>
<path fill="rgb(241,226,147)" d="M72.1 1.75h5.2v5.57h-5.2zM142.1 1.75h5.2v5.57h-5.2zM142.1 7.12h15.2v5.57h-15.2zM87.1 17.85h5.2v5.57h-5.2zM132.1 17.85h5.2v5.57h-5.2zM142.1 17.85h5.2v5.57h-5.2zM137.1 33.95h5.2v5.57h-5.2zM127.1 44.68h10.2v5.57h-10.2zM127.1 50.04h5.2v5.57h-5.2zM117.1 55.41h5.2v5.57h-5.2zM132.1 55.41h5.2v5.57h-5.2zM122.09 71.51h10.2v5.57h-10.2zM117.08 76.87h5.2v5.57h-5.2zM97.09 92.97h5.19v5.57h-5.19z"/>
<path fill="rgb(237,219,135)" d="M77.1 1.75h10.2v5.57h-10.2zM92.1 1.75h5.2v5.57h-5.2zM77.1 7.12h15.2v5.57h-15.2zM97.1 7.12h5.2v5.57h-5.2zM137.1 7.12h5.2v5.57h-5.2zM87.1 12.48h10.2v5.57h-10.2zM142.1 12.48h10.2v5.57h-10.2zM122.1 23.21h5.2v5.57h-5.2zM122.1 28.58h5.2v5.57h-5.2zM127.1 39.31h5.2v5.57h-5.2zM107.1 44.68h5.2v5.57h-5.2zM122.1 44.68h5.2v5.57h-5.2zM97.1 55.41h5.2v5.57h-5.2zM92.11 92.97h5.19v5.57h-5.19z"/>
<path fill="rgb(239,222,141)" d="M87.1 1.75h5.2v5.57h-5.2zM102.1 1.75h5.2v5.57h-5.2zM147.1 1.75h5.2v5.57h-5.2zM132.1 7.12h5.2v5.57h-5.2zM77.1 12.48h5.2v5.57h-5.2zM77.1 17.85h5.2v5.57h-5.2zM72.1 23.21h5.2v5.57h-5.2zM132.1 23.21h15.2v5.57h-15.2zM137.1 28.58h5.2v5.57h-5.2zM142.1 33.95h5.2v5.57h-5.2zM122.1 60.78h10.2v5.57h-10.2zM117.09 71.51h5.2v5.57h-5.2zM107.08 87.61h5.19v5.57h-5.19zM211.5 125.17h5.17v5.57h-5.17z"/>
<path fill="rgb(226,202,105)" d="M97.1 1.75h5.2v5.57h-5.2z"/>
<path fill="rgb(233,212,123)" d="M107.1 1.75h10.2v5.57h-10.2zM112.1 7.12h5.2v5.57h-5.2zM72.1 12.48h5.2v5.57h-5.2zM97.1 12.48h10.2v5.57h-10.2zM112.1 12.48h10.2v5.57h-10.2zM127.1 12.48h5.2v5.57h-5.2zM137.1 12.48h5.2v5.57h-5.2zM92.1 17.85h5.2v5.57h-5.2zM122.1 17.85h5.2v5.57h-5.2zM97.1 23.21h10.2v5.57h-10.2zM102.1 28.58h10.2v5.57h-10.2zM122.1 33.95h5.2v5.57h-5.2zM107.1 39.31h5.2v5.57h-5.2zM117.1 44.68h5.2v5.57h-5.2zM122.1 50.04h5.2v5.57h-5.2zM122.1 55.41h5.2v5.57h-5.2zM211.44 130.53h5.17v5.57h-5.17z"/>
<path fill="rgb(230,209,117)" d="M117.1 1.75h15.2v5.57h-15.2zM122.1 7.12h10.2v5.57h-10.2zM97.1 17.85h10.2v5.57h-10.2zM112.1 17.85h5.2v5.57h-5.2zM127.1 17.85h5.2v5.57h-5.2zM77.1 23.21h5.2v5.57h-5.2zM92.1 23.21h5.2v5.57h-5.2zM112.1 23.21h5.2v5.57h-5.2zM72.1 28.58h5.2v5.57h-5.2zM97.1 28.58h5.2v5.57h-5.2zM112.1 28.58h5.2v5.57h-5.2zM102.1 33.95h20.2v5.57h-20.2zM122.1 39.31h5.2v5.57h-5.2zM112.1 50.04h10.2v5.57h-10.2zM127.1 55.41h5.2v5.57h-5.2z"/>
<path fill="rgb(235,216,129)" d="M132.1 1.75h10.2v5.57h-10.2zM152.1 1.75h5.2v5.57h-5.2zM72.1 7.12h5.2v5.57h-5.2zM92.1 7.12h5.2v5.57h-5.2zM107.1 7.12h5.2v5.57h-5.2zM82.1 12.48h5.2v5.57h-5.2zM132.1 12.48h5.2v5.57h-5.2zM72.1 17.85h5.2v5.57h-5.2zM82.1 17.85h5.2v5.57h-5.2zM117.1 17.85h5.2v5.57h-5.2zM137.1 17.85h5.2v5.57h-5.2zM117.1 23.21h5.2v5.57h-5.2zM127.1 23.21h5.2v5.57h-5.2zM117.1 28.58h5.2v5.57h-5.2zM127.1 28.58h10.2v5.57h-10.2zM142.1 28.58h5.2v5.57h-5.2zM127.1 33.95h5.2v5.57h-5.2zM112.1 39.31h5.2v5.57h-5.2zM132.1 39.31h5.2v5.57h-5.2zM112.1 44.68h5.2v5.57h-5.2zM117.1 60.78h5.2v5.57h-5.2zM117.1 66.14h5.2v5.57h-5.2zM22.79 173.46h5.15v5.57h-5.15z"/>
<path fill="rgb(242,229,153)" d="M162.1 1.75h5.2v5.57h-5.2zM157.1 7.12h10.2v5.57h-10.2zM152.1 12.48h5.2v5.57h-5.2zM162.1 12.48h5.2v5.57h-5.2zM147.1 17.85h15.2v5.57h-15.2zM147.1 23.21h5.2v5.57h-5.2zM147.1 28.58h5.2v5.57h-5.2zM132.1 33.95h5.2v5.57h-5.2zM137.1 39.31h5.2v5.57h-5.2zM132.1 50.04h5.2v5.57h-5.2zM132.1 60.78h5.2v5.57h-5.2zM127.1 66.14h5.2v5.57h-5.2zM122.08 76.87h5.2v5.57h-5.2zM107.08 82.24h5.19v5.57h-5.19zM112.07 87.61h5.19v5.57h-5.19z"/>
<path fill="rgb(244,233,159)" d="M167.1 1.75h5.2v5.57h-5.2zM157.1 12.48h5.2v5.57h-5.2zM142.1 39.31h5.2v5.57h-5.2zM137.1 60.78h5.2v5.57h-5.2zM122.1 66.14h5.2v5.57h-5.2zM117.07 82.24h5.19v5.57h-5.19z"/>
<path fill="rgb(255,253,205)" d="M172.1 1.75h5.2v5.57h-5.2zM192.1 1.75h5.2v5.57h-5.2zM167.1 12.48h10.2v5.57h-10.2zM202.1 12.48h5.2v5.57h-5.2zM57.1 28.58h5.2v5.57h-5.2zM167.1 28.58h5.2v5.57h-5.2zM162.1 33.95h5.2v5.57h-5.2zM52.1 39.31h5.2v5.57h-5.2zM52.1 44.68h5.2v5.57h-5.2zM52.1 50.04h5.2v5.57h-5.2zM152.1 50.04h5.2v5.57h-5.2zM142.1 60.78h5.2v5.57h-5.2zM137.1 66.14h5.2v5.57h-5.2zM147.08 71.51h5.2v5.57h-5.2zM122.02 98.34h5.19v5.57h-5.19zM47.39 135.9h5.17v5.57h-5.17zM2.71 141.27h5.17v5.57h-5.17zM2.98 173.46h5.15v5.57h-5.15zM12.92 178.83h5.15v5.57h-5.15zM3.11 189.56h10.09v5.57h-10.09zM8.1 194.93h5.14v5.57h-5.14z"/>
<path fill="rgb(252,247,190)" d="M177.1 1.75h5.2v5.57h-5.2zM67.1 7.12h5.2v5.57h-5.2zM192.1 7.12h5.2v5.57h-5.2zM62.1 12.48h10.2v5.57h-10.2zM182.1 12.48h5.2v5.57h-5.2zM162.1 17.85h5.2v5.57h-5.2zM62.1 23.21h5.2v5.57h-5.2zM147.1 33.95h5.2v5.57h-5.2zM117.06 87.61h5.19v5.57h-5.19zM7.97 178.83h5.15v5.57h-5.15z"/>
<path fill="rgb(250,243,182)" d="M182.1 1.75h5.2v5.57h-5.2zM62.1 7.12h5.2v5.57h-5.2zM182.1 7.12h10.2v5.57h-10.2zM62.1 17.85h5.2v5.57h-5.2zM67.1 28.58h5.2v5.57h-5.2zM67.1 33.95h5.2v5.57h-5.2zM152.1 33.95h5.2v5.57h-5.2zM157.1 44.68h5.2v5.57h-5.2zM117.04 98.34h5.19v5.57h-5.19z"/>
<path fill="rgb(226,236,220)" d="M207.1 1.75h5.2v5.57h-5.2zM207.1 7.12h5.2v5.57h-5.2zM207.1 23.21h5.2v5.57h-5.2zM182.1 33.95h10.2v5.57h-10.2zM212.1 33.95h5.2v5.57h-5.2zM192.1 39.31h5.2v5.57h-5.2zM167.1 44.68h5.2v5.57h-5.2zM162.1 55.41h5.2v5.57h-5.2zM172.1 55.41h10.2v5.57h-10.2zM172.08 71.51h5.2v5.57h-5.2zM162.05 76.87h5.2v5.57h-5.2zM147.03 82.24h5.19v5.57h-5.19zM141.99 92.97h5.19v5.57h-5.19zM127.01 98.34h5.19v5.57h-5.19zM141.97 98.34h5.19v5.57h-5.19zM7.55 125.17h5.17v5.57h-5.17zM7.59 130.53h5.17v5.57h-5.17zM67.27 135.9h5.17v5.57h-5.17zM17.65 146.63h5.16v5.57h-5.16zM47.43 146.63h5.16v5.57h-5.16zM17.68 152h5.16v5.57h-5.16zM37.53 152h5.16v5.57h-5.16zM27.64 157.36h10.12v5.57h-10.12zM42.55 162.73h5.16v5.57h-5.16zM92.12 178.83h5.15v5.57h-5.15z"/>
<path fill="rgb(220,232,218)" d="M212.1 1.75h5.2v5.57h-5.2zM47.1 12.48h5.2v5.57h-5.2zM42.1 17.85h5.2v5.57h-5.2zM202.1 28.58h5.2v5.57h-5.2zM177.1 33.95h5.2v5.57h-5.2zM197.1 33.95h5.2v5.57h-5.2zM187.1 44.68h5.2v5.57h-5.2zM172.1 50.04h5.2v5.57h-5.2zM182.1 50.04h5.2v5.57h-5.2zM162.08 71.51h10.2v5.57h-10.2zM157.05 76.87h5.2v5.57h-5.2zM152.03 82.24h20.17v5.57h-20.17zM142.02 87.61h5.19v5.57h-5.19zM161.98 87.61h5.19v5.57h-5.19zM156.96 92.97h5.19v5.57h-5.19zM136.96 103.7h5.18v5.57h-5.18zM146.93 103.7h5.18v5.57h-5.18zM146.91 109.07h5.18v5.57h-5.18zM136.92 114.44h5.18v5.57h-5.18zM7.51 119.8h5.18v5.57h-5.18zM146.83 125.17h5.17v5.57h-5.17zM67.25 130.53h5.17v5.57h-5.17zM136.86 130.53h5.17v5.57h-5.17zM62.3 135.9h5.17v5.57h-5.17zM77.21 141.27h5.17v5.57h-5.17zM47.46 152h5.16v5.57h-5.16zM42.52 157.36h5.16v5.57h-5.16zM102.03 173.46h5.15v5.57h-5.15zM111.92 178.83h5.15v5.57h-5.15zM92.13 189.56h5.15v5.57h-5.15zM92.13 200.29h5.14v5.57h-5.14z"/>
<path fill="rgb(240,244,223)" d="M47.1 7.12h5.2v5.57h-5.2zM212.1 7.12h5.2v5.57h-5.2zM52.1 12.48h5.2v5.57h-5.2zM52.1 17.85h5.2v5.57h-5.2zM212.1 17.85h5.2v5.57h-5.2zM42.1 23.21h10.2v5.57h-10.2zM57.1 23.21h5.2v5.57h-5.2zM172.1 23.21h10.2v5.57h-10.2zM187.1 23.21h5.2v5.57h-5.2zM197.1 23.21h5.2v5.57h-5.2zM212.1 23.21h5.2v5.57h-5.2zM162.1 28.58h5.2v5.57h-5.2zM177.1 28.58h5.2v5.57h-5.2zM197.1 28.58h5.2v5.57h-5.2zM212.1 28.58h5.2v5.57h-5.2zM187.1 39.31h5.2v5.57h-5.2zM157.1 50.04h10.2v5.57h-10.2zM157.1 60.78h10.2v5.57h-10.2zM157.08 71.51h5.2v5.57h-5.2zM137.07 76.87h5.2v5.57h-5.2zM137.05 82.24h5.19v5.57h-5.19zM122.01 103.7h5.18v5.57h-5.18zM126.98 109.07h5.18v5.57h-5.18zM2.57 125.17h5.17v5.57h-5.17zM42.44 141.27h5.17v5.57h-5.17zM7.76 152h5.16v5.57h-5.16zM27.61 152h5.16v5.57h-5.16zM7.8 157.36h5.16v5.57h-5.16zM22.68 157.36h5.16v5.57h-5.16zM37.56 157.36h5.16v5.57h-5.16zM17.76 162.73h5.16v5.57h-5.16zM27.67 162.73h5.16v5.57h-5.16zM2.93 168.1h5.16v5.57h-5.16zM17.83 173.46h5.15v5.57h-5.15zM27.74 173.46h10.11v5.57h-10.11z"/>
<path fill="rgb(228,205,111)" d="M102.1 7.12h5.2v5.57h-5.2zM117.1 7.12h5.2v5.57h-5.2zM122.1 12.48h5.2v5.57h-5.2zM107.1 17.85h5.2v5.57h-5.2zM107.1 23.21h5.2v5.57h-5.2zM117.1 39.31h5.2v5.57h-5.2z"/>
<path fill="rgb(223,199,99)" d="M107.1 12.48h5.2v5.57h-5.2z"/>
<path fill="rgb(213,229,216)" d="M212.1 12.48h5.2v5.57h-5.2zM192.1 28.58h5.2v5.57h-5.2zM172.1 33.95h5.2v5.57h-5.2zM202.1 33.95h5.2v5.57h-5.2zM182.1 39.31h5.2v5.57h-5.2zM151.97 92.97h5.19v5.57h-5.19zM146.96 98.34h5.19v5.57h-5.19zM161.92 98.34h5.19v5.57h-5.19zM131.98 103.7h5.18v5.57h-5.18zM141.95 103.7h5.18v5.57h-5.18zM156.9 103.7h5.18v5.57h-5.18zM131.96 109.07h5.18v5.57h-5.18zM156.87 109.07h5.18v5.57h-5.18zM146.88 114.44h5.18v5.57h-5.18zM131.93 119.8h5.18v5.57h-5.18zM62.27 125.17h5.17v5.57h-5.17zM131.91 125.17h5.17v5.57h-5.17zM141.86 125.17h5.17v5.57h-5.17zM131.89 130.53h5.17v5.57h-5.17zM57.33 135.9h5.17v5.57h-5.17zM67.28 141.27h5.17v5.57h-5.17zM111.98 146.63h5.16v5.57h-5.16zM92.12 157.36h5.16v5.57h-5.16zM111.95 162.73h5.16v5.57h-5.16zM92.12 173.46h5.15v5.57h-5.15zM106.98 173.46h5.15v5.57h-5.15zM92.13 184.19h5.15v5.57h-5.15zM116.86 184.19h5.15v5.57h-5.15zM97.07 189.56h5.15v5.57h-5.15zM92.13 194.93h5.14v5.57h-5.14zM106.96 194.93h5.14v5.57h-5.14zM102.01 200.29h5.14v5.57h-5.14z"/>
<path fill="rgb(246,236,165)" d="M67.1 17.85h5.2v5.57h-5.2zM157.1 28.58h5.2v5.57h-5.2zM147.1 39.31h5.2v5.57h-5.2zM142.1 44.68h5.2v5.57h-5.2zM137.1 50.04h5.2v5.57h-5.2zM137.1 55.41h5.2v5.57h-5.2zM132.1 66.14h5.2v5.57h-5.2zM127.07 76.87h5.2v5.57h-5.2zM122.06 82.24h5.19v5.57h-5.19zM112.06 92.97h5.19v5.57h-5.19z"/>
<path fill="rgb(181,214,205)" d="M212.1 66.14h5.2v5.57h-5.2zM212.06 71.51h5.2v5.57h-5.2zM121.93 135.9h5.17v5.57h-5.17zM121.91 146.63h5.16v5.57h-5.16zM121.85 168.1h5.16v5.57h-5.16zM151.55 173.46h5.15v5.57h-5.15zM126.78 178.83h5.15v5.57h-5.15zM146.58 178.83h10.1v5.57h-10.1zM121.81 184.19h10.1v5.57h-10.1zM151.5 184.19h5.15v5.57h-5.15zM126.74 189.56h5.15v5.57h-5.15zM141.58 189.56h5.15v5.57h-5.15zM121.79 194.93h10.09v5.57h-10.09zM151.44 194.93h5.14v5.57h-5.14zM116.83 200.29h5.14v5.57h-5.14zM146.47 200.29h5.14v5.57h-5.14z"/>
<path fill="rgb(207,226,214)" d="M167.04 76.87h5.2v5.57h-5.2zM152 87.61h5.19v5.57h-5.19zM151.94 98.34h10.17v5.57h-10.17zM141.92 109.07h5.18v5.57h-5.18zM151.89 109.07h5.18v5.57h-5.18zM141.9 114.44h5.18v5.57h-5.18zM151.86 114.44h5.18v5.57h-5.18zM136.9 119.8h15.13v5.57h-15.13zM62.28 130.53h5.17v5.57h-5.17zM141.83 130.53h10.14v5.57h-10.14zM92.11 135.9h5.17v5.57h-5.17zM97.08 141.27h5.17v5.57h-5.17zM111.98 141.27h5.17v5.57h-5.17zM92.12 152h5.16v5.57h-5.16zM111.97 152h5.16v5.57h-5.16zM97.08 157.36h5.16v5.57h-5.16zM107 157.36h5.16v5.57h-5.16zM97.08 162.73h10.11v5.57h-10.11zM102.03 168.1h5.16v5.57h-5.16zM111.94 168.1h5.16v5.57h-5.16zM97.08 173.46h5.15v5.57h-5.15zM97.07 178.83h5.15v5.57h-5.15zM106.97 178.83h5.15v5.57h-5.15zM97.07 184.19h10.1v5.57h-10.1zM111.92 184.19h5.15v5.57h-5.15zM111.91 189.56h5.15v5.57h-5.15zM97.07 194.93h5.14v5.57h-5.14zM97.07 200.29h5.14v5.57h-5.14z"/>
<path fill="rgb(196,221,211)" d="M212.01 76.87h5.2v5.57h-5.2zM211.84 92.97h5.19v5.57h-5.19zM156.84 114.44h5.18v5.57h-5.18zM111.99 135.9h5.17v5.57h-5.17zM107.02 141.27h5.17v5.57h-5.17zM116.95 141.27h5.17v5.57h-5.17zM92.12 146.63h15.09v5.57h-15.09zM121.89 152h5.16v5.57h-5.16zM106.97 184.19h5.15v5.57h-5.15zM106.96 189.56h5.15v5.57h-5.15zM102.01 194.93h5.14v5.57h-5.14zM111.89 200.29h5.14v5.57h-5.14z"/>
<path fill="rgb(202,223,213)" d="M211.95 82.24h5.19v5.57h-5.19zM206.9 87.61h5.19v5.57h-5.19zM161.95 92.97h5.19v5.57h-5.19zM211.78 98.34h5.19v5.57h-5.19zM151.92 103.7h5.18v5.57h-5.18zM136.94 109.07h5.18v5.57h-5.18zM151.83 119.8h5.18v5.57h-5.18zM97.08 135.9h15.11v5.57h-15.11zM116.96 135.9h5.17v5.57h-5.17zM57.35 141.27h5.17v5.57h-5.17zM102.05 141.27h5.17v5.57h-5.17zM107.01 146.63h5.16v5.57h-5.16zM116.94 146.63h5.16v5.57h-5.16zM97.08 152h10.12v5.57h-10.12zM102.04 157.36h5.16v5.57h-5.16zM116.92 157.36h5.16v5.57h-5.16zM106.99 162.73h5.16v5.57h-5.16zM121.87 162.73h5.16v5.57h-5.16zM92.12 168.1h10.11v5.57h-10.11zM116.89 173.46h10.11v5.57h-10.11zM102.02 178.83h5.15v5.57h-5.15zM116.87 178.83h5.15v5.57h-5.15zM116.85 189.56h10.09v5.57h-10.09zM106.95 200.29h5.14v5.57h-5.14z"/>
<path fill="rgb(188,218,208)" d="M211.89 87.61h5.19v5.57h-5.19zM206.85 92.97h5.19v5.57h-5.19zM126.9 135.9h5.17v5.57h-5.17zM121.92 141.27h5.17v5.57h-5.17zM107 152h5.16v5.57h-5.16zM116.93 152h5.16v5.57h-5.16zM111.96 157.36h5.16v5.57h-5.16zM121.88 157.36h5.16v5.57h-5.16zM92.12 162.73h5.16v5.57h-5.16zM106.99 168.1h5.16v5.57h-5.16zM116.9 168.1h5.16v5.57h-5.16zM111.93 173.46h5.15v5.57h-5.15zM131.71 184.19h5.15v5.57h-5.15zM102.02 189.56h5.15v5.57h-5.15zM146.53 189.56h5.15v5.57h-5.15zM111.9 194.93h10.09v5.57h-10.09zM141.53 200.29h5.14v5.57h-5.14z"/>
<path fill="rgb(166,207,200)" d="M131.87 135.9h5.17v5.57h-5.17zM126.87 146.63h10.13v5.57h-10.13zM131.82 152h5.16v5.57h-5.16zM126.84 157.36h5.16v5.57h-5.16zM126.82 162.73h5.16v5.57h-5.16zM131.76 168.1h5.16v5.57h-5.16zM131.74 173.46h20.01v5.57h-20.01zM121.83 178.83h5.15v5.57h-5.15zM136.66 184.19h5.15v5.57h-5.15zM141.56 194.93h5.14v5.57h-5.14zM136.59 200.29h5.14v5.57h-5.14z"/>
<path fill="rgb(158,204,197)" d="M136.84 135.9h5.17v5.57h-5.17zM131.85 141.27h5.17v5.57h-5.17zM136.8 146.63h5.16v5.57h-5.16zM131.8 157.36h5.16v5.57h-5.16zM131.78 162.73h5.16v5.57h-5.16zM141.67 168.1h5.16v5.57h-5.16zM141.6 184.19h10.1v5.57h-10.1zM151.47 189.56h5.15v5.57h-5.15zM131.67 194.93h5.14v5.57h-5.14zM156.36 200.29h5.14v5.57h-5.14z"/>
<path fill="rgb(173,211,203)" d="M141.81 135.9h5.17v5.57h-5.17zM126.89 141.27h5.17v5.57h-5.17zM126.85 152h5.16v5.57h-5.16zM116.91 162.73h5.16v5.57h-5.16zM126.81 168.1h5.16v5.57h-5.16zM126.79 173.46h5.15v5.57h-5.15zM136.68 178.83h10.1v5.57h-10.1zM131.69 189.56h10.09v5.57h-10.09zM146.5 194.93h5.14v5.57h-5.14zM156.39 194.93h5.14v5.57h-5.14zM121.77 200.29h15.02v5.57h-15.02zM151.41 200.29h5.14v5.57h-5.14z"/>
<path fill="rgb(150,200,194)" d="M136.82 141.27h5.17v5.57h-5.17zM141.72 157.36h5.16v5.57h-5.16zM136.72 168.1h5.16v5.57h-5.16zM131.73 178.83h5.15v5.57h-5.15zM156.42 189.56h5.15v5.57h-5.15zM136.61 194.93h5.14v5.57h-5.14z"/>
<path fill="rgb(141,195,191)" d="M136.78 152h5.16v5.57h-5.16zM136.76 157.36h5.16v5.57h-5.16zM136.74 162.73h5.16v5.57h-5.16z"/>
</g>
<path d="M0.9 0L6.7 208.9M32.1 0L37.6 208.9M63.4 0L68.6 208.9M94.6 0L99.6 208.9M125.9 0L130.6 208.9M157.1 0L161.5 208.9M188.4 0L192.6 208.9M0 19.1L219 14.2M0 46L219 41.1M0 72.7L219 67.8M0 99.4L219 94.5M0 126.3L219 121.4M0 152.8L219 147.9M0 179.5L219 174.6M0 206L219 201.1" stroke="#aeaeb0" stroke-width="1.25" fill="none"/>
<path d="M168.6 209 L168.6 196.2 L168 189.4 L165.5 184 L163.4 178.6 L160.7 173.1 L156.6 169.1 L152.6 166.6 L149.2 165.7 L150.5 160.9 L150.1 154.8 L148.5 149.4 L147.1 146 L149.2 142.6 L153.3 139.2 L156 135.1 L158.3 130.4 L158.7 124.9 L160 120.9 L161.4 119.4 L165.5 114.6 L167.5 109.9 L170.2 101.7 L172.9 92.2 L175.6 84.1 L177 75.9 L180.4 69.1 L183.1 61.7 L186.5 55.6 L190.6 49.5 L194.6 45.4 L200.1 42.7 L205.5 41.3 L208.9 40 L210.9 42 L210.7 44.7 L208.2 48.8 L206.2 55.6 L204.4 63.7 L203.5 71.9 L202.1 80 L200.3 86.8 L199.7 91.5 L201.4 95.6 L204.1 100.4 L205.9 105.1 L205.5 108.5 L204.1 110.5 L204.8 112.8 L206.9 111.9 L208.2 108.5 L210.3 107.5 L211.9 109.9 L211.9 113.9 L210.3 117.3 L207.5 120 L205.5 122.8 L205.2 125 L205.8 127.7 L204.4 131.1 L205.5 134.5 L208.2 137.2 L212.3 137.9 L215.7 135.8 L217.7 131.8 L220 128.5" stroke="#878787" stroke-width="1.5" fill="none" stroke-linejoin="round"/>
</g>
<rect x="0" y="0" width="219.0" height="208.9" fill="none" stroke="#000" stroke-width="1.1"/>
<text x="109.5" y="-30.3" style="font-size:16.67px" text-anchor="middle">v [m/s]</text>
<text x="0.9" y="-10.9" text-anchor="middle">112.5°E</text>
<text x="6.7" y="226.8" text-anchor="middle">112.5°E</text>
<text x="63.4" y="-10.9" text-anchor="middle">113°E</text>
<text x="68.6" y="226.8" text-anchor="middle">113°E</text>
<text x="125.9" y="-10.9" text-anchor="middle">113.5°E</text>
<text x="130.6" y="226.8" text-anchor="middle">113.5°E</text>
<text x="188.4" y="-10.9" text-anchor="middle">114°E</text>
<text x="192.6" y="226.8" text-anchor="middle">114°E</text>
<text x="-7.5" y="23.5" text-anchor="end">21.6°S</text>
<text x="-7.5" y="50.4" text-anchor="end">21.8°S</text>
<text x="-7.5" y="77.1" text-anchor="end">22°S</text>
<text x="-7.5" y="103.8" text-anchor="end">22.2°S</text>
<text x="-7.5" y="130.7" text-anchor="end">22.4°S</text>
<text x="-7.5" y="157.2" text-anchor="end">22.6°S</text>
<text x="-7.5" y="183.9" text-anchor="end">22.8°S</text>
<text x="-7.5" y="210.4" text-anchor="end">23°S</text>
<linearGradient id="g1" x1="0" y1="0" x2="0" y2="1"><stop offset="0%" stop-color="rgb(23,35,19)"/><stop offset="8.3%" stop-color="rgb(35,107,47)"/><stop offset="16.7%" stop-color="rgb(92,145,41)"/><stop offset="25%" stop-color="rgb(180,170,45)"/><stop offset="33.3%" stop-color="rgb(222,197,95)"/><stop offset="41.7%" stop-color="rgb(240,225,145)"/><stop offset="50%" stop-color="rgb(255,253,205)"/><stop offset="58.3%" stop-color="rgb(205,225,214)"/><stop offset="66.7%" stop-color="rgb(144,197,192)"/><stop offset="75%" stop-color="rgb(75,155,172)"/><stop offset="83.3%" stop-color="rgb(32,104,157)"/><stop offset="91.7%" stop-color="rgb(26,65,129)"/><stop offset="100%" stop-color="rgb(17,32,64)"/></linearGradient>
<rect x="233.0" y="80.0" width="2.2" height="49" fill="url(#g1)" stroke="#000" stroke-width="1"/>
<path d="M235.7 80h4.7" stroke="#000" stroke-width="1"/>
<text x="244.5" y="85.3">1</text>
<path d="M235.7 105h4.7" stroke="#000" stroke-width="1"/>
<text x="245.1" y="109.8">0</text>
<path d="M235.7 129h4.7" stroke="#000" stroke-width="1"/>
<text x="244.5" y="134.3">−1</text>
</g>
<g transform="translate(806.5 102.5)">
<clipPath id="c2"><rect x="0" y="0" width="219.0" height="208.9"/></clipPath>
<g clip-path="url(#c2)">
<rect x="0" y="0" width="219.0" height="208.9" fill="#98b7e2"/>
<path d="M168.6 209 L168.6 196.2 L168 189.4 L165.5 184 L163.4 178.6 L160.7 173.1 L156.6 169.1 L152.6 166.6 L149.2 165.7 L150.5 160.9 L150.1 154.8 L148.5 149.4 L147.1 146 L149.2 142.6 L153.3 139.2 L156 135.1 L158.3 130.4 L158.7 124.9 L160 120.9 L161.4 119.4 L165.5 114.6 L167.5 109.9 L170.2 101.7 L172.9 92.2 L175.6 84.1 L177 75.9 L180.4 69.1 L183.1 61.7 L186.5 55.6 L190.6 49.5 L194.6 45.4 L200.1 42.7 L205.5 41.3 L208.9 40 L210.9 42 L210.7 44.7 L208.2 48.8 L206.2 55.6 L204.4 63.7 L203.5 71.9 L202.1 80 L200.3 86.8 L199.7 91.5 L201.4 95.6 L204.1 100.4 L205.9 105.1 L205.5 108.5 L204.1 110.5 L204.8 112.8 L206.9 111.9 L208.2 108.5 L210.3 107.5 L211.9 109.9 L211.9 113.9 L210.3 117.3 L207.5 120 L205.5 122.8 L205.2 125 L205.8 127.7 L204.4 131.1 L205.5 134.5 L208.2 137.2 L212.3 137.9 L215.7 135.8 L217.7 131.8 L220 128.5 L221.0 210.9 L168.6 210.9 Z" fill="#efefdb"/>
<g transform="rotate(-1.45 109.5 104.15)" shape-rendering="crispEdges">
<polygon points="2.1,1.75 217.1,1.75 217.1,70.85 215.61,205.66 3.22,205.66 2.1,70.85" fill="rgb(247,247,247)"/>
<path fill="rgb(249,239,233)" d="M42.1 1.75h5.2v5.57h-5.2zM77.1 1.75h5.2v5.57h-5.2zM97.1 1.75h5.2v5.57h-5.2zM97.1 17.85h5.2v5.57h-5.2zM7.63 135.9h5.17v5.57h-5.17z"/>
<path fill="rgb(249,236,228)" d="M47.1 1.75h10.2v5.57h-10.2zM72.1 1.75h5.2v5.57h-5.2zM102.1 1.75h10.2v5.57h-10.2zM97.1 7.12h15.2v5.57h-15.2zM97.1 12.48h15.2v5.57h-15.2zM102.1 17.85h5.2v5.57h-5.2zM97.1 23.21h5.2v5.57h-5.2zM97.1 28.58h10.2v5.57h-10.2zM102.1 33.95h5.2v5.57h-5.2zM7.51 119.8h5.18v5.57h-5.18z"/>
<path fill="rgb(250,233,223)" d="M57.1 1.75h5.2v5.57h-5.2zM67.1 1.75h5.2v5.57h-5.2zM112.1 1.75h10.2v5.57h-10.2zM117.1 7.12h5.2v5.57h-5.2zM112.1 12.48h5.2v5.57h-5.2zM107.1 17.85h5.2v5.57h-5.2zM117.1 17.85h5.2v5.57h-5.2zM102.1 23.21h10.2v5.57h-10.2zM117.1 23.21h5.2v5.57h-5.2zM107.1 28.58h5.2v5.57h-5.2z"/>
<path fill="rgb(251,230,218)" d="M62.1 1.75h5.2v5.57h-5.2zM122.1 1.75h5.2v5.57h-5.2zM112.1 7.12h5.2v5.57h-5.2zM122.1 7.12h5.2v5.57h-5.2zM117.1 12.48h5.2v5.57h-5.2zM112.1 17.85h5.2v5.57h-5.2zM112.1 23.21h5.2v5.57h-5.2zM112.1 28.58h10.2v5.57h-10.2zM107.1 33.95h15.2v5.57h-15.2zM107.1 39.31h5.2v5.57h-5.2zM117.1 39.31h5.2v5.57h-5.2zM92.12 146.63h5.16v5.57h-5.16zM92.12 152h5.16v5.57h-5.16zM92.12 157.36h5.16v5.57h-5.16z"/>
<path fill="rgb(248,241,237)" d="M82.1 1.75h10.2v5.57h-10.2zM57.1 7.12h25.2v5.57h-25.2zM2.66 135.9h5.17v5.57h-5.17zM42.42 135.9h5.17v5.57h-5.17zM42.44 141.27h5.17v5.57h-5.17z"/>
<path fill="rgb(247,247,247)" d="M92.1 1.75h5.2v5.57h-5.2zM67.1 12.48h30.2v5.57h-30.2zM77.1 17.85h15.2v5.57h-15.2zM72.1 23.21h10.2v5.57h-10.2zM92.1 23.21h5.2v5.57h-5.2zM72.1 28.58h5.2v5.57h-5.2zM67.1 33.95h5.2v5.57h-5.2zM52.1 39.31h5.2v5.57h-5.2zM52.1 44.68h5.2v5.57h-5.2z"/>
<path fill="rgb(251,227,213)" d="M127.1 1.75h5.2v5.57h-5.2zM127.1 7.12h5.2v5.57h-5.2zM122.1 12.48h10.2v5.57h-10.2zM122.1 17.85h10.2v5.57h-10.2zM122.1 23.21h10.2v5.57h-10.2zM122.1 28.58h5.2v5.57h-5.2zM122.1 33.95h10.2v5.57h-10.2zM112.1 39.31h5.2v5.57h-5.2zM92.11 135.9h5.17v5.57h-5.17zM97.08 141.27h10.13v5.57h-10.13zM97.08 146.63h5.16v5.57h-5.16zM97.08 152h5.16v5.57h-5.16zM97.08 157.36h5.16v5.57h-5.16zM92.12 162.73h10.11v5.57h-10.11zM92.12 168.1h10.11v5.57h-10.11zM92.12 173.46h10.11v5.57h-10.11z"/>
<path fill="rgb(252,225,209)" d="M132.1 1.75h5.2v5.57h-5.2zM132.1 7.12h5.2v5.57h-5.2zM132.1 12.48h5.2v5.57h-5.2zM132.1 17.85h5.2v5.57h-5.2zM132.1 23.21h5.2v5.57h-5.2zM127.1 28.58h10.2v5.57h-10.2zM122.1 39.31h15.2v5.57h-15.2zM132.1 44.68h5.2v5.57h-5.2zM97.1 55.41h5.2v5.57h-5.2zM7.55 125.17h5.17v5.57h-5.17zM2.62 130.53h10.14v5.57h-10.14zM102.05 146.63h5.16v5.57h-5.16zM102.04 152h5.16v5.57h-5.16zM102.04 157.36h5.16v5.57h-5.16zM102.04 162.73h5.16v5.57h-5.16zM92.12 178.83h5.15v5.57h-5.15z"/>
<path fill="rgb(252,222,204)" d="M137.1 1.75h5.2v5.57h-5.2zM137.1 7.12h5.2v5.57h-5.2zM137.1 12.48h5.2v5.57h-5.2zM137.1 28.58h5.2v5.57h-5.2zM132.1 33.95h15.2v5.57h-15.2zM137.1 39.31h5.2v5.57h-5.2zM112.1 44.68h20.2v5.57h-20.2zM137.1 44.68h5.2v5.57h-5.2zM2.57 125.17h5.17v5.57h-5.17zM97.08 135.9h10.14v5.57h-10.14zM102.03 168.1h5.16v5.57h-5.16zM102.03 173.46h5.15v5.57h-5.15zM97.07 178.83h5.15v5.57h-5.15zM92.13 184.19h5.15v5.57h-5.15zM92.13 189.56h5.15v5.57h-5.15z"/>
<path fill="rgb(253,219,199)" d="M142.1 1.75h20.2v5.57h-20.2zM167.1 1.75h5.2v5.57h-5.2zM142.1 7.12h20.2v5.57h-20.2zM142.1 12.48h5.2v5.57h-5.2zM137.1 17.85h5.2v5.57h-5.2zM137.1 23.21h5.2v5.57h-5.2zM142.1 28.58h5.2v5.57h-5.2zM142.1 39.31h10.2v5.57h-10.2zM107.1 44.68h5.2v5.57h-5.2zM142.1 44.68h5.2v5.57h-5.2zM117.1 50.04h35.2v5.57h-35.2zM132.1 55.41h10.2v5.57h-10.2zM107.02 135.9h10.14v5.57h-10.14zM107.02 141.27h5.17v5.57h-5.17zM107.01 146.63h5.16v5.57h-5.16zM107 152h5.16v5.57h-5.16zM107 157.36h5.16v5.57h-5.16zM106.99 162.73h5.16v5.57h-5.16zM106.99 168.1h10.11v5.57h-10.11zM106.98 173.46h5.15v5.57h-5.15zM102.02 178.83h5.15v5.57h-5.15zM97.07 184.19h5.15v5.57h-5.15zM92.13 194.93h10.09v5.57h-10.09zM92.13 200.29h5.14v5.57h-5.14z"/>
<path fill="rgb(252,214,192)" d="M162.1 1.75h5.2v5.57h-5.2zM172.1 1.75h5.2v5.57h-5.2zM162.1 7.12h5.2v5.57h-5.2zM147.1 12.48h20.2v5.57h-20.2zM142.1 17.85h10.2v5.57h-10.2zM142.1 23.21h15.2v5.57h-15.2zM147.1 28.58h10.2v5.57h-10.2zM147.1 33.95h15.2v5.57h-15.2zM152.1 39.31h10.2v5.57h-10.2zM147.1 44.68h5.2v5.57h-5.2zM112.1 50.04h5.2v5.57h-5.2zM152.1 50.04h5.2v5.57h-5.2zM127.1 55.41h5.2v5.57h-5.2zM142.1 55.41h15.2v5.57h-15.2zM132.1 60.78h15.2v5.57h-15.2zM111.98 141.27h5.17v5.57h-5.17zM111.98 146.63h5.16v5.57h-5.16zM111.97 152h5.16v5.57h-5.16zM111.96 157.36h5.16v5.57h-5.16zM111.95 162.73h5.16v5.57h-5.16zM106.97 178.83h5.15v5.57h-5.15zM102.02 184.19h5.15v5.57h-5.15zM97.07 189.56h5.15v5.57h-5.15zM97.07 200.29h5.14v5.57h-5.14z"/>
<path fill="rgb(251,208,185)" d="M177.1 1.75h5.2v5.57h-5.2zM167.1 7.12h10.2v5.57h-10.2zM167.1 12.48h5.2v5.57h-5.2zM177.1 12.48h5.2v5.57h-5.2zM152.1 17.85h10.2v5.57h-10.2zM157.1 23.21h10.2v5.57h-10.2zM162.1 28.58h5.2v5.57h-5.2zM162.1 39.31h10.2v5.57h-10.2zM152.1 44.68h25.2v5.57h-25.2zM122.1 55.41h5.2v5.57h-5.2zM122.1 60.78h10.2v5.57h-10.2zM147.1 60.78h10.2v5.57h-10.2zM127.1 66.14h30.2v5.57h-30.2zM116.96 135.9h10.14v5.57h-10.14zM116.94 146.63h10.13v5.57h-10.13zM116.93 152h5.16v5.57h-5.16zM116.92 157.36h10.12v5.57h-10.12zM116.91 162.73h10.11v5.57h-10.11zM116.9 168.1h5.16v5.57h-5.16zM111.93 173.46h10.11v5.57h-10.11zM111.92 178.83h5.15v5.57h-5.15zM106.97 184.19h5.15v5.57h-5.15zM102.02 189.56h5.15v5.57h-5.15zM102.01 200.29h5.14v5.57h-5.14z"/>
<path fill="rgb(250,203,178)" d="M182.1 1.75h5.2v5.57h-5.2zM177.1 7.12h10.2v5.57h-10.2zM172.1 12.48h5.2v5.57h-5.2zM162.1 17.85h20.2v5.57h-20.2zM167.1 23.21h10.2v5.57h-10.2zM157.1 28.58h5.2v5.57h-5.2zM167.1 28.58h10.2v5.57h-10.2zM162.1 33.95h20.2v5.57h-20.2zM172.1 39.31h10.2v5.57h-10.2zM177.1 44.68h5.2v5.57h-5.2zM157.1 50.04h15.2v5.57h-15.2zM177.1 50.04h5.2v5.57h-5.2zM117.1 55.41h5.2v5.57h-5.2zM157.1 55.41h15.2v5.57h-15.2zM117.1 60.78h5.2v5.57h-5.2zM157.1 60.78h10.2v5.57h-10.2zM117.1 66.14h10.2v5.57h-10.2zM157.1 66.14h10.2v5.57h-10.2zM117.09 71.51h30.19v5.57h-30.19zM152.08 71.51h5.2v5.57h-5.2zM126.9 135.9h5.17v5.57h-5.17zM116.95 141.27h10.13v5.57h-10.13zM121.89 152h5.16v5.57h-5.16zM121.85 168.1h5.16v5.57h-5.16zM116.87 178.83h5.15v5.57h-5.15zM111.92 184.19h5.15v5.57h-5.15zM102.01 194.93h5.14v5.57h-5.14z"/>
<path fill="rgb(249,197,171)" d="M187.1 1.75h5.2v5.57h-5.2zM182.1 12.48h5.2v5.57h-5.2zM182.1 17.85h5.2v5.57h-5.2zM177.1 23.21h5.2v5.57h-5.2zM182.1 28.58h5.2v5.57h-5.2zM182.1 33.95h5.2v5.57h-5.2zM182.1 39.31h5.2v5.57h-5.2zM182.1 44.68h10.2v5.57h-10.2zM172.1 50.04h5.2v5.57h-5.2zM182.1 50.04h5.2v5.57h-5.2zM172.1 55.41h5.2v5.57h-5.2zM167.1 60.78h5.2v5.57h-5.2zM167.1 66.14h5.2v5.57h-5.2zM147.08 71.51h5.2v5.57h-5.2zM157.08 71.51h15.2v5.57h-15.2zM122.08 76.87h5.2v5.57h-5.2zM157.05 76.87h15.19v5.57h-15.19zM117.06 87.61h15.17v5.57h-15.17zM131.87 135.9h5.17v5.57h-5.17zM126.89 141.27h10.13v5.57h-10.13zM126.87 146.63h5.16v5.57h-5.16zM126.85 152h10.12v5.57h-10.12zM126.84 157.36h5.16v5.57h-5.16zM126.82 162.73h5.16v5.57h-5.16zM126.81 168.1h5.16v5.57h-5.16zM121.84 173.46h10.11v5.57h-10.11zM121.83 178.83h5.15v5.57h-5.15zM116.86 184.19h5.15v5.57h-5.15zM106.96 189.56h10.09v5.57h-10.09zM106.96 194.93h5.14v5.57h-5.14zM106.95 200.29h5.14v5.57h-5.14z"/>
<path fill="rgb(248,187,158)" d="M192.1 1.75h5.2v5.57h-5.2zM192.1 7.12h5.2v5.57h-5.2zM187.1 12.48h5.2v5.57h-5.2zM187.1 17.85h5.2v5.57h-5.2zM187.1 23.21h5.2v5.57h-5.2zM187.1 28.58h5.2v5.57h-5.2zM187.1 39.31h10.2v5.57h-10.2zM127.06 82.24h15.18v5.57h-15.18zM152.03 82.24h5.19v5.57h-5.19zM132.03 87.61h5.19v5.57h-5.19zM147.01 87.61h5.19v5.57h-5.19zM122.04 92.97h10.18v5.57h-10.18zM122.02 98.34h10.17v5.57h-10.17zM156.84 114.44h5.18v5.57h-5.18zM32.39 119.8h5.18v5.57h-5.18zM32.42 125.17h5.17v5.57h-5.17zM126.93 125.17h5.17v5.57h-5.17zM57.33 135.9h5.17v5.57h-5.17zM141.81 135.9h5.17v5.57h-5.17zM67.28 141.27h5.17v5.57h-5.17zM136.8 146.63h5.16v5.57h-5.16zM131.76 168.1h5.16v5.57h-5.16zM136.7 173.46h5.15v5.57h-5.15zM131.73 178.83h5.15v5.57h-5.15zM126.76 184.19h5.15v5.57h-5.15zM116.85 189.56h10.09v5.57h-10.09zM121.77 200.29h5.14v5.57h-5.14z"/>
<path fill="rgb(247,181,151)" d="M197.1 1.75h5.2v5.57h-5.2zM192.1 12.48h5.2v5.57h-5.2zM192.1 33.95h5.2v5.57h-5.2zM117.08 76.87h5.2v5.57h-5.2zM122.06 82.24h5.19v5.57h-5.19zM142.04 82.24h10.19v5.57h-10.19zM162.01 82.24h5.19v5.57h-5.19zM137.03 87.61h10.18v5.57h-10.18zM152 87.61h10.18v5.57h-10.18zM117.05 92.97h5.19v5.57h-5.19zM132.02 92.97h5.19v5.57h-5.19zM151.97 92.97h5.19v5.57h-5.19zM117.04 98.34h5.19v5.57h-5.19zM136.98 98.34h10.17v5.57h-10.17zM151.86 114.44h5.18v5.57h-5.18zM151.83 119.8h5.18v5.57h-5.18zM62.27 125.17h5.17v5.57h-5.17zM146.83 125.17h5.17v5.57h-5.17zM62.28 130.53h10.14v5.57h-10.14zM131.89 130.53h5.17v5.57h-5.17zM146.8 130.53h5.17v5.57h-5.17zM62.3 135.9h10.14v5.57h-10.14zM77.21 141.27h5.17v5.57h-5.17zM136.72 168.1h5.16v5.57h-5.16zM136.68 178.83h5.15v5.57h-5.15zM131.71 184.19h10.1v5.57h-10.1zM126.74 189.56h10.09v5.57h-10.09zM121.79 194.93h15.03v5.57h-15.03zM126.71 200.29h5.14v5.57h-5.14z"/>
<path fill="rgb(245,170,137)" d="M202.1 1.75h10.2v5.57h-10.2zM197.1 12.48h5.2v5.57h-5.2zM127 103.7h15.15v5.57h-15.15zM122 109.07h5.18v5.57h-5.18zM136.94 109.07h10.16v5.57h-10.16zM141.9 114.44h5.18v5.57h-5.18zM141.88 119.8h5.18v5.57h-5.18zM131.91 125.17h15.12v5.57h-15.12zM141.65 173.46h5.15v5.57h-5.15zM136.61 194.93h10.09v5.57h-10.09z"/>
<path fill="rgb(244,165,130)" d="M212.1 1.75h5.2v5.57h-5.2zM197.1 28.58h5.2v5.57h-5.2zM197.1 33.95h5.2v5.57h-5.2zM167.01 82.24h5.19v5.57h-5.19zM112.06 92.97h5.19v5.57h-5.19zM112.05 98.34h5.19v5.57h-5.19zM122.01 103.7h5.18v5.57h-5.18zM151.92 103.7h5.18v5.57h-5.18zM151.89 109.07h5.18v5.57h-5.18zM136.9 119.8h5.18v5.57h-5.18zM141.67 168.1h5.16v5.57h-5.16zM146.6 173.46h5.15v5.57h-5.15zM146.47 200.29h5.14v5.57h-5.14z"/>
<path fill="rgb(248,244,242)" d="M42.1 7.12h15.2v5.57h-15.2zM82.1 7.12h15.2v5.57h-15.2zM52.1 50.04h5.2v5.57h-5.2z"/>
<path fill="rgb(248,192,164)" d="M187.1 7.12h5.2v5.57h-5.2zM182.1 23.21h5.2v5.57h-5.2zM177.1 28.58h5.2v5.57h-5.2zM187.1 33.95h5.2v5.57h-5.2zM177.1 55.41h5.2v5.57h-5.2zM172.1 60.78h5.2v5.57h-5.2zM172.1 66.14h5.2v5.57h-5.2zM172.08 71.51h5.2v5.57h-5.2zM127.07 76.87h30.18v5.57h-30.18zM107.08 82.24h5.19v5.57h-5.19zM157.02 82.24h5.19v5.57h-5.19zM112.07 87.61h5.19v5.57h-5.19zM132 98.34h5.19v5.57h-5.19zM136.84 135.9h5.17v5.57h-5.17zM57.35 141.27h5.17v5.57h-5.17zM136.82 141.27h5.17v5.57h-5.17zM131.83 146.63h5.16v5.57h-5.16zM131.8 157.36h5.16v5.57h-5.16zM131.78 162.73h5.16v5.57h-5.16zM131.74 173.46h5.15v5.57h-5.15zM126.78 178.83h5.15v5.57h-5.15zM121.81 184.19h5.15v5.57h-5.15zM111.9 194.93h10.09v5.57h-10.09zM111.89 200.29h10.08v5.57h-10.08z"/>
<path fill="rgb(246,176,144)" d="M197.1 7.12h5.2v5.57h-5.2zM192.1 17.85h5.2v5.57h-5.2zM192.1 23.21h5.2v5.57h-5.2zM192.1 28.58h5.2v5.57h-5.2zM137 92.97h15.17v5.57h-15.17zM156.96 92.97h5.19v5.57h-5.19zM146.96 98.34h15.16v5.57h-15.16zM141.95 103.7h10.17v5.57h-10.17zM126.98 109.07h10.16v5.57h-10.16zM146.91 109.07h5.18v5.57h-5.18zM131.94 114.44h10.16v5.57h-10.16zM146.88 114.44h5.18v5.57h-5.18zM131.93 119.8h5.18v5.57h-5.18zM146.86 119.8h5.18v5.57h-5.18zM136.86 130.53h10.14v5.57h-10.14zM136.78 152h5.16v5.57h-5.16zM136.76 157.36h5.16v5.57h-5.16zM136.74 162.73h5.16v5.57h-5.16zM141.63 178.83h5.15v5.57h-5.15zM141.6 184.19h5.15v5.57h-5.15zM136.63 189.56h10.09v5.57h-10.09zM131.65 200.29h15.02v5.57h-15.02z"/>
<path fill="rgb(241,158,125)" d="M202.1 7.12h5.2v5.57h-5.2zM197.1 17.85h5.2v5.57h-5.2zM197.1 23.21h5.2v5.57h-5.2zM202.1 33.95h5.2v5.57h-5.2zM117.07 82.24h5.19v5.57h-5.19zM161.98 87.61h5.19v5.57h-5.19zM97.09 92.97h5.19v5.57h-5.19zM161.95 92.97h5.19v5.57h-5.19zM146.58 178.83h5.15v5.57h-5.15zM146.55 184.19h5.15v5.57h-5.15zM146.53 189.56h5.15v5.57h-5.15zM146.5 194.93h5.14v5.57h-5.14z"/>
<path fill="rgb(238,151,119)" d="M207.1 7.12h10.2v5.57h-10.2zM212.01 76.87h5.2v5.57h-5.2zM92.11 92.97h5.19v5.57h-5.19zM161.92 98.34h5.19v5.57h-5.19zM117.03 103.7h5.18v5.57h-5.18z"/>
<path fill="rgb(239,243,246)" d="M47.1 12.48h15.2v5.57h-15.2zM67.1 17.85h5.2v5.57h-5.2zM37.1 23.21h5.2v5.57h-5.2zM67.1 23.21h5.2v5.57h-5.2zM67.1 28.58h5.2v5.57h-5.2zM57.1 33.95h5.2v5.57h-5.2zM7.68 141.27h5.17v5.57h-5.17zM37.51 146.63h5.16v5.57h-5.16z"/>
<path fill="rgb(243,245,246)" d="M62.1 12.48h5.2v5.57h-5.2zM72.1 17.85h5.2v5.57h-5.2zM92.1 17.85h5.2v5.57h-5.2zM62.1 33.95h5.2v5.57h-5.2zM47.39 135.9h5.17v5.57h-5.17zM47.41 141.27h5.17v5.57h-5.17zM42.47 146.63h5.16v5.57h-5.16z"/>
<path fill="rgb(235,144,114)" d="M202.1 12.48h5.2v5.57h-5.2zM202.1 17.85h5.2v5.57h-5.2zM212.1 66.14h5.2v5.57h-5.2zM212.06 71.51h5.2v5.57h-5.2zM211.95 82.24h5.19v5.57h-5.19zM211.89 87.61h5.19v5.57h-5.19zM211.78 98.34h5.19v5.57h-5.19zM156.9 103.7h5.18v5.57h-5.18zM156.87 109.07h5.18v5.57h-5.18z"/>
<path fill="rgb(232,137,109)" d="M207.1 12.48h10.2v5.57h-10.2zM202.1 23.21h5.2v5.57h-5.2zM202.1 28.58h5.2v5.57h-5.2zM206.9 87.61h5.19v5.57h-5.19zM206.85 92.97h10.18v5.57h-10.18zM141.72 157.36h5.16v5.57h-5.16zM151.41 200.29h5.14v5.57h-5.14z"/>
<path fill="rgb(236,242,245)" d="M42.1 17.85h5.2v5.57h-5.2zM2.71 141.27h5.17v5.57h-5.17zM47.43 146.63h5.16v5.57h-5.16z"/>
<path fill="rgb(228,238,244)" d="M47.1 17.85h10.2v5.57h-10.2zM62.1 23.21h5.2v5.57h-5.2zM57.1 28.58h5.2v5.57h-5.2zM12.64 141.27h10.13v5.57h-10.13zM7.72 146.63h10.13v5.57h-10.13zM17.68 152h5.16v5.57h-5.16zM37.53 152h5.16v5.57h-5.16zM47.46 152h5.16v5.57h-5.16z"/>
<path fill="rgb(224,236,243)" d="M57.1 17.85h5.2v5.57h-5.2zM47.1 23.21h5.2v5.57h-5.2zM52.1 28.58h5.2v5.57h-5.2zM2.75 146.63h5.16v5.57h-5.16zM17.65 146.63h5.16v5.57h-5.16zM7.76 152h10.12v5.57h-10.12zM22.65 152h10.12v5.57h-10.12zM7.8 157.36h10.12v5.57h-10.12zM22.68 157.36h15.08v5.57h-15.08zM42.52 157.36h5.16v5.57h-5.16zM42.55 162.73h5.16v5.57h-5.16zM12.92 178.83h5.15v5.57h-5.15zM8.01 184.19h5.15v5.57h-5.15zM3.11 189.56h10.09v5.57h-10.09zM8.1 194.93h5.14v5.57h-5.14z"/>
<path fill="rgb(232,240,244)" d="M62.1 17.85h5.2v5.57h-5.2zM42.1 23.21h5.2v5.57h-5.2zM62.1 28.58h5.2v5.57h-5.2zM42.5 152h5.16v5.57h-5.16z"/>
<path fill="rgb(229,130,104)" d="M207.1 17.85h5.2v5.57h-5.2zM212.1 33.95h5.2v5.57h-5.2zM107.08 87.61h5.19v5.57h-5.19zM151.55 173.46h5.15v5.57h-5.15zM156.36 200.29h5.14v5.57h-5.14z"/>
<path fill="rgb(223,117,93)" d="M212.1 17.85h5.2v5.57h-5.2zM207.1 23.21h10.2v5.57h-10.2zM212.1 28.58h5.2v5.57h-5.2zM151.53 178.83h5.15v5.57h-5.15zM151.5 184.19h5.15v5.57h-5.15zM151.47 189.56h5.15v5.57h-5.15z"/>
<path fill="rgb(213,231,241)" d="M52.1 23.21h5.2v5.57h-5.2zM27.67 162.73h5.16v5.57h-5.16zM17.8 168.1h5.16v5.57h-5.16z"/>
<path fill="rgb(217,233,241)" d="M57.1 23.21h5.2v5.57h-5.2zM12.8 162.73h15.07v5.57h-15.07zM2.93 168.1h15.07v5.57h-15.07zM32.66 168.1h5.16v5.57h-5.16zM2.98 173.46h5.15v5.57h-5.15zM22.79 173.46h10.11v5.57h-10.11z"/>
<path fill="rgb(226,124,98)" d="M207.1 28.58h5.2v5.57h-5.2zM151.44 194.93h10.09v5.57h-10.09z"/>
<path fill="rgb(103,0,31)" d="M211.5 125.17h5.17v5.57h-5.17zM211.44 130.53h5.17v5.57h-5.17z"/>
<path fill="rgb(220,234,242)" d="M2.8 152h5.16v5.57h-5.16zM2.84 157.36h5.16v5.57h-5.16zM17.72 157.36h5.16v5.57h-5.16zM37.56 157.36h5.16v5.57h-5.16zM2.89 162.73h10.11v5.57h-10.11zM37.62 168.1h10.11v5.57h-10.11zM7.93 173.46h15.06v5.57h-15.06zM32.69 173.46h5.15v5.57h-5.15zM3.02 178.83h10.1v5.57h-10.1z"/>
<path fill="rgb(209,229,240)" d="M22.75 168.1h10.11v5.57h-10.11z"/>
<path fill="rgb(220,110,88)" d="M156.42 189.56h5.15v5.57h-5.15z"/>
</g>
<path d="M0.9 0L6.7 208.9M32.1 0L37.6 208.9M63.4 0L68.6 208.9M94.6 0L99.6 208.9M125.9 0L130.6 208.9M157.1 0L161.5 208.9M188.4 0L192.6 208.9M0 19.1L219 14.2M0 46L219 41.1M0 72.7L219 67.8M0 99.4L219 94.5M0 126.3L219 121.4M0 152.8L219 147.9M0 179.5L219 174.6M0 206L219 201.1" stroke="#aeaeb0" stroke-width="1.25" fill="none"/>
<path d="M168.6 209 L168.6 196.2 L168 189.4 L165.5 184 L163.4 178.6 L160.7 173.1 L156.6 169.1 L152.6 166.6 L149.2 165.7 L150.5 160.9 L150.1 154.8 L148.5 149.4 L147.1 146 L149.2 142.6 L153.3 139.2 L156 135.1 L158.3 130.4 L158.7 124.9 L160 120.9 L161.4 119.4 L165.5 114.6 L167.5 109.9 L170.2 101.7 L172.9 92.2 L175.6 84.1 L177 75.9 L180.4 69.1 L183.1 61.7 L186.5 55.6 L190.6 49.5 L194.6 45.4 L200.1 42.7 L205.5 41.3 L208.9 40 L210.9 42 L210.7 44.7 L208.2 48.8 L206.2 55.6 L204.4 63.7 L203.5 71.9 L202.1 80 L200.3 86.8 L199.7 91.5 L201.4 95.6 L204.1 100.4 L205.9 105.1 L205.5 108.5 L204.1 110.5 L204.8 112.8 L206.9 111.9 L208.2 108.5 L210.3 107.5 L211.9 109.9 L211.9 113.9 L210.3 117.3 L207.5 120 L205.5 122.8 L205.2 125 L205.8 127.7 L204.4 131.1 L205.5 134.5 L208.2 137.2 L212.3 137.9 L215.7 135.8 L217.7 131.8 L220 128.5" stroke="#878787" stroke-width="1.5" fill="none" stroke-linejoin="round"/>
</g>
<rect x="0" y="0" width="219.0" height="208.9" fill="none" stroke="#000" stroke-width="1.1"/>
<text x="109.5" y="-30.3" style="font-size:16.67px" text-anchor="middle">q [K hr <tspan dy="-7.6" style="font-size:11.67px">−1</tspan><tspan dy="7.6">]</tspan></text>
<text x="0.9" y="-10.9" text-anchor="middle">112.5°E</text>
<text x="6.7" y="226.8" text-anchor="middle">112.5°E</text>
<text x="63.4" y="-10.9" text-anchor="middle">113°E</text>
<text x="68.6" y="226.8" text-anchor="middle">113°E</text>
<text x="125.9" y="-10.9" text-anchor="middle">113.5°E</text>
<text x="130.6" y="226.8" text-anchor="middle">113.5°E</text>
<text x="188.4" y="-10.9" text-anchor="middle">114°E</text>
<text x="192.6" y="226.8" text-anchor="middle">114°E</text>
<text x="-7.5" y="23.5" text-anchor="end">21.6°S</text>
<text x="-7.5" y="50.4" text-anchor="end">21.8°S</text>
<text x="-7.5" y="77.1" text-anchor="end">22°S</text>
<text x="-7.5" y="103.8" text-anchor="end">22.2°S</text>
<text x="-7.5" y="130.7" text-anchor="end">22.4°S</text>
<text x="-7.5" y="157.2" text-anchor="end">22.6°S</text>
<text x="-7.5" y="183.9" text-anchor="end">22.8°S</text>
<text x="-7.5" y="210.4" text-anchor="end">23°S</text>
<linearGradient id="g2" x1="0" y1="0" x2="0" y2="1"><stop offset="0%" stop-color="rgb(103,0,31)"/><stop offset="8.3%" stop-color="rgb(166,20,41)"/><stop offset="16.7%" stop-color="rgb(202,72,66)"/><stop offset="25%" stop-color="rgb(229,130,104)"/><stop offset="33.3%" stop-color="rgb(247,183,153)"/><stop offset="41.7%" stop-color="rgb(252,224,207)"/><stop offset="50%" stop-color="rgb(247,247,247)"/><stop offset="58.3%" stop-color="rgb(215,232,241)"/><stop offset="66.7%" stop-color="rgb(167,208,228)"/><stop offset="75%" stop-color="rgb(106,172,208)"/><stop offset="83.3%" stop-color="rgb(56,132,187)"/><stop offset="91.7%" stop-color="rgb(28,93,160)"/><stop offset="100%" stop-color="rgb(5,48,97)"/></linearGradient>
<rect x="233.0" y="80.0" width="2.2" height="49" fill="url(#g2)" stroke="#000" stroke-width="1"/>
<path d="M235.7 89h4.7" stroke="#000" stroke-width="1"/>
<text x="245.1" y="94.5">0.25</text>
<path d="M235.7 105h4.7" stroke="#000" stroke-width="1"/>
<text x="245.1" y="109.8">0.00</text>
<path d="M235.7 120h4.7" stroke="#000" stroke-width="1"/>
<text x="244.5" y="125.1">−0.25</text>
</g>
<g transform="translate(150.5 396.5)">
<clipPath id="c3"><rect x="0" y="0" width="219.0" height="208.9"/></clipPath>
<g clip-path="url(#c3)">
<rect x="0" y="0" width="219.0" height="208.9" fill="#98b7e2"/>
<path d="M168.6 209 L168.6 196.2 L168 189.4 L165.5 184 L163.4 178.6 L160.7 173.1 L156.6 169.1 L152.6 166.6 L149.2 165.7 L150.5 160.9 L150.1 154.8 L148.5 149.4 L147.1 146 L149.2 142.6 L153.3 139.2 L156 135.1 L158.3 130.4 L158.7 124.9 L160 120.9 L161.4 119.4 L165.5 114.6 L167.5 109.9 L170.2 101.7 L172.9 92.2 L175.6 84.1 L177 75.9 L180.4 69.1 L183.1 61.7 L186.5 55.6 L190.6 49.5 L194.6 45.4 L200.1 42.7 L205.5 41.3 L208.9 40 L210.9 42 L210.7 44.7 L208.2 48.8 L206.2 55.6 L204.4 63.7 L203.5 71.9 L202.1 80 L200.3 86.8 L199.7 91.5 L201.4 95.6 L204.1 100.4 L205.9 105.1 L205.5 108.5 L204.1 110.5 L204.8 112.8 L206.9 111.9 L208.2 108.5 L210.3 107.5 L211.9 109.9 L211.9 113.9 L210.3 117.3 L207.5 120 L205.5 122.8 L205.2 125 L205.8 127.7 L204.4 131.1 L205.5 134.5 L208.2 137.2 L212.3 137.9 L215.7 135.8 L217.7 131.8 L220 128.5 L221.0 210.9 L168.6 210.9 Z" fill="#efefdb"/>
<g transform="rotate(-1.45 109.5 104.15)" shape-rendering="crispEdges">
<polygon points="2.1,1.75 217.1,1.75 217.1,70.85 215.61,205.66 3.22,205.66 2.1,70.85" fill="rgb(233,246,171)"/>
<path fill="rgb(209,192,107)" d="M42.1 1.75h5.2v5.57h-5.2zM57.1 1.75h5.2v5.57h-5.2zM67.1 1.75h5.2v5.57h-5.2zM92.1 1.75h5.2v5.57h-5.2zM102.1 1.75h35.2v5.57h-35.2zM152.1 1.75h10.2v5.57h-10.2zM197.1 1.75h15.2v5.57h-15.2zM42.1 7.12h10.2v5.57h-10.2zM62.1 7.12h5.2v5.57h-5.2zM102.1 7.12h10.2v5.57h-10.2zM127.1 7.12h5.2v5.57h-5.2zM157.1 7.12h5.2v5.57h-5.2zM192.1 7.12h25.2v5.57h-25.2zM52.1 12.48h5.2v5.57h-5.2zM112.1 12.48h5.2v5.57h-5.2zM142.1 12.48h5.2v5.57h-5.2zM152.1 12.48h15.2v5.57h-15.2zM172.1 12.48h5.2v5.57h-5.2zM187.1 12.48h5.2v5.57h-5.2zM197.1 12.48h5.2v5.57h-5.2zM207.1 12.48h5.2v5.57h-5.2zM47.1 17.85h5.2v5.57h-5.2zM112.1 17.85h5.2v5.57h-5.2zM152.1 17.85h5.2v5.57h-5.2zM162.1 17.85h10.2v5.57h-10.2zM177.1 17.85h5.2v5.57h-5.2zM192.1 17.85h5.2v5.57h-5.2zM212.1 17.85h5.2v5.57h-5.2zM37.1 23.21h10.2v5.57h-10.2zM112.1 23.21h5.2v5.57h-5.2zM157.1 23.21h10.2v5.57h-10.2zM192.1 23.21h5.2v5.57h-5.2zM212.1 23.21h5.2v5.57h-5.2zM107.1 28.58h5.2v5.57h-5.2zM122.1 28.58h10.2v5.57h-10.2zM157.1 28.58h5.2v5.57h-5.2zM167.1 28.58h5.2v5.57h-5.2zM192.1 28.58h5.2v5.57h-5.2zM152.1 33.95h5.2v5.57h-5.2zM162.1 33.95h10.2v5.57h-10.2zM192.1 33.95h5.2v5.57h-5.2zM212.1 33.95h5.2v5.57h-5.2zM132.1 44.68h10.2v5.57h-10.2zM147.1 44.68h5.2v5.57h-5.2zM157.1 44.68h10.2v5.57h-10.2zM127.1 50.04h15.2v5.57h-15.2zM152.1 50.04h5.2v5.57h-5.2zM162.1 50.04h5.2v5.57h-5.2zM172.1 50.04h5.2v5.57h-5.2zM122.1 55.41h5.2v5.57h-5.2zM152.1 55.41h5.2v5.57h-5.2zM167.1 55.41h15.2v5.57h-15.2zM122.1 60.78h5.2v5.57h-5.2zM152.1 60.78h5.2v5.57h-5.2zM117.1 66.14h5.2v5.57h-5.2zM152.1 66.14h5.2v5.57h-5.2zM172.1 66.14h5.2v5.57h-5.2zM117.09 71.51h5.2v5.57h-5.2zM157.08 71.51h15.2v5.57h-15.2zM132.07 76.87h5.2v5.57h-5.2zM132.05 82.24h5.19v5.57h-5.19zM107.08 87.61h10.18v5.57h-10.18zM132.03 87.61h5.19v5.57h-5.19zM117.05 92.97h5.19v5.57h-5.19zM112.05 98.34h5.19v5.57h-5.19zM117.03 103.7h5.18v5.57h-5.18zM122 109.07h5.18v5.57h-5.18zM136.92 114.44h5.18v5.57h-5.18zM156.84 114.44h5.18v5.57h-5.18zM141.88 119.8h5.18v5.57h-5.18zM151.83 119.8h5.18v5.57h-5.18zM62.28 130.53h10.14v5.57h-10.14zM47.39 135.9h5.17v5.57h-5.17zM57.33 135.9h5.17v5.57h-5.17zM67.27 135.9h5.17v5.57h-5.17zM97.08 135.9h5.17v5.57h-5.17zM67.28 141.27h5.17v5.57h-5.17zM77.21 141.27h5.17v5.57h-5.17zM102.05 141.27h5.17v5.57h-5.17zM121.92 141.27h10.13v5.57h-10.13zM136.82 141.27h5.17v5.57h-5.17zM92.12 146.63h5.16v5.57h-5.16zM102.05 146.63h10.13v5.57h-10.13zM116.94 146.63h5.16v5.57h-5.16zM131.83 146.63h10.13v5.57h-10.13zM42.5 152h5.16v5.57h-5.16zM92.12 152h10.12v5.57h-10.12zM121.89 152h5.16v5.57h-5.16zM136.78 152h5.16v5.57h-5.16zM92.12 157.36h25v5.57h-25zM92.12 162.73h5.16v5.57h-5.16zM102.04 162.73h15.07v5.57h-15.07zM2.93 168.1h5.16v5.57h-5.16zM27.71 168.1h5.16v5.57h-5.16zM42.57 168.1h5.16v5.57h-5.16zM92.12 168.1h24.98v5.57h-24.98zM2.98 173.46h5.15v5.57h-5.15zM27.74 173.46h5.15v5.57h-5.15zM92.12 173.46h15.06v5.57h-15.06zM111.93 173.46h5.15v5.57h-5.15zM146.6 173.46h10.11v5.57h-10.11zM106.97 178.83h15.05v5.57h-15.05zM141.63 178.83h5.15v5.57h-5.15zM111.92 184.19h5.15v5.57h-5.15zM126.76 184.19h19.99v5.57h-19.99zM8.06 189.56h5.15v5.57h-5.15zM111.91 189.56h5.15v5.57h-5.15zM126.74 189.56h10.09v5.57h-10.09zM116.84 194.93h10.09v5.57h-10.09zM121.77 200.29h5.14v5.57h-5.14z"/>
<path fill="rgb(207,190,104)" d="M47.1 1.75h10.2v5.57h-10.2zM72.1 1.75h5.2v5.57h-5.2zM82.1 1.75h10.2v5.57h-10.2zM142.1 1.75h10.2v5.57h-10.2zM52.1 7.12h10.2v5.57h-10.2zM67.1 7.12h15.2v5.57h-15.2zM97.1 7.12h5.2v5.57h-5.2zM142.1 7.12h5.2v5.57h-5.2zM47.1 12.48h5.2v5.57h-5.2zM102.1 12.48h10.2v5.57h-10.2zM202.1 12.48h5.2v5.57h-5.2zM52.1 17.85h5.2v5.57h-5.2zM102.1 17.85h10.2v5.57h-10.2zM197.1 17.85h5.2v5.57h-5.2zM207.1 17.85h5.2v5.57h-5.2zM47.1 23.21h10.2v5.57h-10.2zM102.1 23.21h10.2v5.57h-10.2zM207.1 23.21h5.2v5.57h-5.2zM52.1 28.58h5.2v5.57h-5.2zM67.1 28.58h10.2v5.57h-10.2zM97.1 28.58h5.2v5.57h-5.2zM112.1 28.58h10.2v5.57h-10.2zM162.1 28.58h5.2v5.57h-5.2zM202.1 28.58h10.2v5.57h-10.2zM57.1 33.95h15.2v5.57h-15.2zM117.1 33.95h5.2v5.57h-5.2zM127.1 33.95h10.2v5.57h-10.2zM197.1 33.95h10.2v5.57h-10.2zM52.1 39.31h5.2v5.57h-5.2zM52.1 44.68h5.2v5.57h-5.2zM52.1 50.04h5.2v5.57h-5.2zM112.1 50.04h15.2v5.57h-15.2zM167.1 50.04h5.2v5.57h-5.2zM157.1 55.41h10.2v5.57h-10.2zM157.1 60.78h10.2v5.57h-10.2zM172.1 60.78h5.2v5.57h-5.2zM157.1 66.14h15.2v5.57h-15.2zM212.1 66.14h5.2v5.57h-5.2zM122.09 71.51h10.2v5.57h-10.2zM172.08 71.51h5.2v5.57h-5.2zM122.08 76.87h5.2v5.57h-5.2zM212.01 76.87h5.2v5.57h-5.2zM127.06 82.24h5.19v5.57h-5.19zM211.95 82.24h5.19v5.57h-5.19zM117.06 87.61h5.19v5.57h-5.19zM206.9 87.61h10.18v5.57h-10.18zM92.11 92.97h5.19v5.57h-5.19zM112.06 92.97h5.19v5.57h-5.19zM122.04 92.97h10.18v5.57h-10.18zM117.04 98.34h10.17v5.57h-10.17zM7.51 119.8h5.18v5.57h-5.18zM131.93 119.8h10.15v5.57h-10.15zM146.86 119.8h5.18v5.57h-5.18zM7.55 125.17h5.17v5.57h-5.17zM141.86 125.17h10.15v5.57h-10.15zM131.89 130.53h20.09v5.57h-20.09zM62.3 135.9h5.17v5.57h-5.17zM102.05 135.9h44.93v5.57h-44.93zM57.35 141.27h5.17v5.57h-5.17zM131.85 141.27h5.17v5.57h-5.17zM47.46 152h5.16v5.57h-5.16zM32.6 157.36h5.16v5.57h-5.16zM42.55 162.73h5.16v5.57h-5.16zM97.08 162.73h5.16v5.57h-5.16zM32.66 168.1h10.11v5.57h-10.11zM3.02 178.83h5.15v5.57h-5.15zM102.02 178.83h5.15v5.57h-5.15zM146.58 178.83h5.15v5.57h-5.15zM102.02 184.19h5.15v5.57h-5.15zM151.5 184.19h5.15v5.57h-5.15zM3.11 189.56h5.15v5.57h-5.15zM106.96 189.56h5.15v5.57h-5.15zM136.63 189.56h10.09v5.57h-10.09zM8.1 194.93h5.14v5.57h-5.14zM92.13 194.93h5.14v5.57h-5.14zM102.01 194.93h10.09v5.57h-10.09zM126.73 194.93h15.03v5.57h-15.03zM146.5 194.93h5.14v5.57h-5.14zM92.13 200.29h15.02v5.57h-15.02zM116.83 200.29h5.14v5.57h-5.14zM126.71 200.29h10.08v5.57h-10.08z"/>
<path fill="rgb(210,195,109)" d="M62.1 1.75h5.2v5.57h-5.2zM97.1 1.75h5.2v5.57h-5.2zM162.1 1.75h5.2v5.57h-5.2zM172.1 1.75h5.2v5.57h-5.2zM182.1 1.75h5.2v5.57h-5.2zM192.1 1.75h5.2v5.57h-5.2zM212.1 1.75h5.2v5.57h-5.2zM112.1 7.12h15.2v5.57h-15.2zM132.1 7.12h5.2v5.57h-5.2zM152.1 7.12h5.2v5.57h-5.2zM162.1 7.12h15.2v5.57h-15.2zM182.1 7.12h10.2v5.57h-10.2zM122.1 12.48h5.2v5.57h-5.2zM137.1 12.48h5.2v5.57h-5.2zM147.1 12.48h5.2v5.57h-5.2zM167.1 12.48h5.2v5.57h-5.2zM182.1 12.48h5.2v5.57h-5.2zM192.1 12.48h5.2v5.57h-5.2zM212.1 12.48h5.2v5.57h-5.2zM42.1 17.85h5.2v5.57h-5.2zM132.1 17.85h10.2v5.57h-10.2zM147.1 17.85h5.2v5.57h-5.2zM157.1 17.85h5.2v5.57h-5.2zM172.1 17.85h5.2v5.57h-5.2zM187.1 17.85h5.2v5.57h-5.2zM117.1 23.21h5.2v5.57h-5.2zM142.1 23.21h15.2v5.57h-15.2zM172.1 23.21h20.2v5.57h-20.2zM132.1 28.58h25.2v5.57h-25.2zM182.1 28.58h5.2v5.57h-5.2zM137.1 33.95h15.2v5.57h-15.2zM157.1 33.95h5.2v5.57h-5.2zM172.1 33.95h5.2v5.57h-5.2zM137.1 39.31h15.2v5.57h-15.2zM157.1 39.31h20.2v5.57h-20.2zM142.1 44.68h5.2v5.57h-5.2zM152.1 44.68h5.2v5.57h-5.2zM167.1 44.68h15.2v5.57h-15.2zM142.1 50.04h10.2v5.57h-10.2zM157.1 50.04h5.2v5.57h-5.2zM117.1 55.41h5.2v5.57h-5.2zM127.1 55.41h25.2v5.57h-25.2zM117.1 60.78h5.2v5.57h-5.2zM127.1 60.78h25.2v5.57h-25.2zM122.1 66.14h30.2v5.57h-30.2zM132.09 71.51h5.2v5.57h-5.2zM157.05 76.87h15.19v5.57h-15.19zM152.03 82.24h20.17v5.57h-20.17zM156.99 87.61h10.18v5.57h-10.18zM97.09 92.97h5.19v5.57h-5.19zM132.02 92.97h5.19v5.57h-5.19zM151.97 92.97h5.19v5.57h-5.19zM127.01 98.34h10.17v5.57h-10.17zM156.93 98.34h10.17v5.57h-10.17zM122.01 103.7h5.18v5.57h-5.18zM156.9 103.7h5.18v5.57h-5.18zM126.98 109.07h5.18v5.57h-5.18zM151.89 109.07h10.16v5.57h-10.16zM131.94 114.44h5.18v5.57h-5.18zM141.9 114.44h15.14v5.57h-15.14zM62.27 125.17h5.17v5.57h-5.17zM2.62 130.53h10.14v5.57h-10.14zM42.42 135.9h5.17v5.57h-5.17zM92.11 135.9h5.17v5.57h-5.17zM2.71 141.27h5.17v5.57h-5.17zM47.41 141.27h5.17v5.57h-5.17zM97.08 141.27h5.17v5.57h-5.17zM107.02 141.27h15.1v5.57h-15.1zM47.43 146.63h5.16v5.57h-5.16zM97.08 146.63h5.16v5.57h-5.16zM121.91 146.63h10.13v5.57h-10.13zM37.53 152h5.16v5.57h-5.16zM102.04 152h20.05v5.57h-20.05zM126.85 152h10.12v5.57h-10.12zM27.64 157.36h5.16v5.57h-5.16zM37.56 157.36h10.12v5.57h-10.12zM116.92 157.36h5.16v5.57h-5.16zM131.8 157.36h5.16v5.57h-5.16zM141.72 157.36h5.16v5.57h-5.16zM27.67 162.73h5.16v5.57h-5.16zM116.91 162.73h5.16v5.57h-5.16zM126.82 162.73h5.16v5.57h-5.16zM136.74 162.73h5.16v5.57h-5.16zM116.9 168.1h5.16v5.57h-5.16zM141.67 168.1h5.16v5.57h-5.16zM106.98 173.46h5.15v5.57h-5.15zM116.89 173.46h10.11v5.57h-10.11zM136.7 173.46h5.15v5.57h-5.15zM7.97 178.83h5.15v5.57h-5.15zM121.83 178.83h20v5.57h-20zM8.01 184.19h5.15v5.57h-5.15zM106.97 184.19h5.15v5.57h-5.15zM116.86 184.19h10.1v5.57h-10.1zM116.85 189.56h10.09v5.57h-10.09z"/>
<path fill="rgb(206,188,102)" d="M77.1 1.75h5.2v5.57h-5.2zM137.1 1.75h5.2v5.57h-5.2zM82.1 7.12h15.2v5.57h-15.2zM137.1 7.12h5.2v5.57h-5.2zM147.1 7.12h5.2v5.57h-5.2zM57.1 12.48h10.2v5.57h-10.2zM72.1 12.48h10.2v5.57h-10.2zM87.1 12.48h15.2v5.57h-15.2zM57.1 17.85h20.2v5.57h-20.2zM87.1 17.85h15.2v5.57h-15.2zM202.1 17.85h5.2v5.57h-5.2zM57.1 23.21h15.2v5.57h-15.2zM92.1 23.21h10.2v5.57h-10.2zM167.1 23.21h5.2v5.57h-5.2zM197.1 23.21h10.2v5.57h-10.2zM57.1 28.58h10.2v5.57h-10.2zM197.1 28.58h5.2v5.57h-5.2zM102.1 33.95h15.2v5.57h-15.2zM122.1 33.95h5.2v5.57h-5.2zM107.1 39.31h5.2v5.57h-5.2zM117.1 39.31h5.2v5.57h-5.2zM127.1 39.31h10.2v5.57h-10.2zM107.1 44.68h15.2v5.57h-15.2zM127.1 44.68h5.2v5.57h-5.2zM97.1 55.41h5.2v5.57h-5.2zM167.1 60.78h5.2v5.57h-5.2zM212.06 71.51h5.2v5.57h-5.2zM117.08 76.87h5.2v5.57h-5.2zM127.07 76.87h5.2v5.57h-5.2zM117.07 82.24h10.19v5.57h-10.19zM122.05 87.61h10.18v5.57h-10.18zM206.85 92.97h10.18v5.57h-10.18zM126.93 125.17h5.17v5.57h-5.17zM136.88 125.17h5.17v5.57h-5.17zM211.5 125.17h5.17v5.57h-5.17zM211.44 130.53h5.17v5.57h-5.17zM32.69 173.46h5.15v5.57h-5.15zM92.12 178.83h10.1v5.57h-10.1zM151.53 178.83h5.15v5.57h-5.15zM92.13 184.19h10.1v5.57h-10.1zM146.55 184.19h5.15v5.57h-5.15zM92.13 189.56h10.09v5.57h-10.09zM146.53 189.56h5.15v5.57h-5.15zM97.07 194.93h5.14v5.57h-5.14zM111.9 194.93h5.14v5.57h-5.14zM141.56 194.93h5.14v5.57h-5.14zM106.95 200.29h10.08v5.57h-10.08zM136.59 200.29h24.9v5.57h-24.9z"/>
<path fill="rgb(212,198,112)" d="M167.1 1.75h5.2v5.57h-5.2zM177.1 1.75h5.2v5.57h-5.2zM187.1 1.75h5.2v5.57h-5.2zM177.1 7.12h5.2v5.57h-5.2zM117.1 12.48h5.2v5.57h-5.2zM127.1 12.48h10.2v5.57h-10.2zM177.1 12.48h5.2v5.57h-5.2zM117.1 17.85h15.2v5.57h-15.2zM142.1 17.85h5.2v5.57h-5.2zM182.1 17.85h5.2v5.57h-5.2zM122.1 23.21h20.2v5.57h-20.2zM172.1 28.58h10.2v5.57h-10.2zM187.1 28.58h5.2v5.57h-5.2zM212.1 28.58h5.2v5.57h-5.2zM177.1 33.95h5.2v5.57h-5.2zM187.1 33.95h5.2v5.57h-5.2zM152.1 39.31h5.2v5.57h-5.2zM177.1 39.31h5.2v5.57h-5.2zM187.1 39.31h10.2v5.57h-10.2zM182.1 44.68h5.2v5.57h-5.2zM137.09 71.51h20.19v5.57h-20.19zM137.07 76.87h20.18v5.57h-20.18zM107.08 82.24h5.19v5.57h-5.19zM137.05 82.24h10.19v5.57h-10.19zM147.01 87.61h10.18v5.57h-10.18zM137 92.97h5.19v5.57h-5.19zM146.98 92.97h5.19v5.57h-5.19zM156.96 92.97h10.18v5.57h-10.18zM136.98 98.34h5.19v5.57h-5.19zM151.94 98.34h5.19v5.57h-5.19zM141.95 103.7h5.18v5.57h-5.18zM151.92 103.7h5.18v5.57h-5.18zM131.96 109.07h5.18v5.57h-5.18zM141.92 109.07h10.16v5.57h-10.16zM32.39 119.8h5.18v5.57h-5.18zM32.42 125.17h5.17v5.57h-5.17zM2.66 135.9h10.14v5.57h-10.14zM17.61 141.27h5.17v5.57h-5.17zM42.44 141.27h5.17v5.57h-5.17zM2.75 146.63h5.16v5.57h-5.16zM37.51 146.63h10.13v5.57h-10.13zM111.98 146.63h5.16v5.57h-5.16zM2.8 152h5.16v5.57h-5.16zM27.61 152h5.16v5.57h-5.16zM2.84 157.36h5.16v5.57h-5.16zM121.88 157.36h10.12v5.57h-10.12zM136.76 157.36h5.16v5.57h-5.16zM2.89 162.73h5.16v5.57h-5.16zM22.72 162.73h5.16v5.57h-5.16zM121.87 162.73h5.16v5.57h-5.16zM131.78 162.73h5.16v5.57h-5.16zM22.75 168.1h5.16v5.57h-5.16zM121.85 168.1h15.07v5.57h-15.07zM7.93 173.46h5.15v5.57h-5.15zM22.79 173.46h5.15v5.57h-5.15zM126.79 173.46h10.11v5.57h-10.11zM141.65 173.46h5.15v5.57h-5.15z"/>
<path fill="rgb(205,186,100)" d="M67.1 12.48h5.2v5.57h-5.2zM82.1 12.48h5.2v5.57h-5.2zM77.1 17.85h10.2v5.57h-10.2zM72.1 23.21h10.2v5.57h-10.2zM102.1 28.58h5.2v5.57h-5.2zM112.1 39.31h5.2v5.57h-5.2zM122.1 39.31h5.2v5.57h-5.2zM122.1 44.68h5.2v5.57h-5.2zM211.78 98.34h5.19v5.57h-5.19zM131.91 125.17h5.17v5.57h-5.17zM102.02 189.56h5.15v5.57h-5.15zM156.42 189.56h5.15v5.57h-5.15zM151.44 194.93h10.09v5.57h-10.09z"/>
<path fill="rgb(213,201,115)" d="M182.1 33.95h5.2v5.57h-5.2zM182.1 39.31h5.2v5.57h-5.2zM187.1 44.68h5.2v5.57h-5.2zM177.1 50.04h10.2v5.57h-10.2zM147.03 82.24h5.19v5.57h-5.19zM137.03 87.61h10.18v5.57h-10.18zM141.99 92.97h5.19v5.57h-5.19zM146.96 98.34h5.19v5.57h-5.19zM127 103.7h15.15v5.57h-15.15zM146.93 103.7h5.18v5.57h-5.18zM2.57 125.17h5.17v5.57h-5.17zM7.68 141.27h10.13v5.57h-10.13zM22.68 157.36h5.16v5.57h-5.16zM136.72 168.1h5.16v5.57h-5.16zM17.83 173.46h5.15v5.57h-5.15zM12.92 178.83h5.15v5.57h-5.15z"/>
<path fill="rgb(215,203,118)" d="M141.97 98.34h5.19v5.57h-5.19zM136.94 109.07h5.18v5.57h-5.18zM7.72 146.63h5.16v5.57h-5.16zM17.65 146.63h5.16v5.57h-5.16zM22.65 152h5.16v5.57h-5.16zM7.84 162.73h5.16v5.57h-5.16zM7.89 168.1h5.16v5.57h-5.16zM17.8 168.1h5.16v5.57h-5.16zM12.88 173.46h5.15v5.57h-5.15z"/>
<path fill="rgb(216,206,121)" d="M12.68 146.63h5.16v5.57h-5.16zM7.76 152h5.16v5.57h-5.16zM17.68 152h5.16v5.57h-5.16zM7.8 157.36h5.16v5.57h-5.16zM17.76 162.73h5.16v5.57h-5.16z"/>
<path fill="rgb(217,208,123)" d="M12.72 152h5.16v5.57h-5.16zM17.72 157.36h5.16v5.57h-5.16zM12.8 162.73h5.16v5.57h-5.16zM12.84 168.1h5.16v5.57h-5.16z"/>
<path fill="rgb(218,210,125)" d="M12.76 157.36h5.16v5.57h-5.16z"/>
<path fill="rgb(204,184,98)" d="M151.47 189.56h5.15v5.57h-5.15z"/>
</g>
<path d="M0.9 0L6.7 208.9M32.1 0L37.6 208.9M63.4 0L68.6 208.9M94.6 0L99.6 208.9M125.9 0L130.6 208.9M157.1 0L161.5 208.9M188.4 0L192.6 208.9M0 19.1L219 14.2M0 46L219 41.1M0 72.7L219 67.8M0 99.4L219 94.5M0 126.3L219 121.4M0 152.8L219 147.9M0 179.5L219 174.6M0 206L219 201.1" stroke="#aeaeb0" stroke-width="1.25" fill="none"/>
<path d="M168.6 209 L168.6 196.2 L168 189.4 L165.5 184 L163.4 178.6 L160.7 173.1 L156.6 169.1 L152.6 166.6 L149.2 165.7 L150.5 160.9 L150.1 154.8 L148.5 149.4 L147.1 146 L149.2 142.6 L153.3 139.2 L156 135.1 L158.3 130.4 L158.7 124.9 L160 120.9 L161.4 119.4 L165.5 114.6 L167.5 109.9 L170.2 101.7 L172.9 92.2 L175.6 84.1 L177 75.9 L180.4 69.1 L183.1 61.7 L186.5 55.6 L190.6 49.5 L194.6 45.4 L200.1 42.7 L205.5 41.3 L208.9 40 L210.9 42 L210.7 44.7 L208.2 48.8 L206.2 55.6 L204.4 63.7 L203.5 71.9 L202.1 80 L200.3 86.8 L199.7 91.5 L201.4 95.6 L204.1 100.4 L205.9 105.1 L205.5 108.5 L204.1 110.5 L204.8 112.8 L206.9 111.9 L208.2 108.5 L210.3 107.5 L211.9 109.9 L211.9 113.9 L210.3 117.3 L207.5 120 L205.5 122.8 L205.2 125 L205.8 127.7 L204.4 131.1 L205.5 134.5 L208.2 137.2 L212.3 137.9 L215.7 135.8 L217.7 131.8 L220 128.5" stroke="#878787" stroke-width="1.5" fill="none" stroke-linejoin="round"/>
</g>
<rect x="0" y="0" width="219.0" height="208.9" fill="none" stroke="#000" stroke-width="1.1"/>
<text x="109.5" y="-30.3" style="font-size:16.67px" text-anchor="middle">u std. [m/s]</text>
<text x="0.9" y="-10.9" text-anchor="middle">112.5°E</text>
<text x="6.7" y="226.8" text-anchor="middle">112.5°E</text>
<text x="63.4" y="-10.9" text-anchor="middle">113°E</text>
<text x="68.6" y="226.8" text-anchor="middle">113°E</text>
<text x="125.9" y="-10.9" text-anchor="middle">113.5°E</text>
<text x="130.6" y="226.8" text-anchor="middle">113.5°E</text>
<text x="188.4" y="-10.9" text-anchor="middle">114°E</text>
<text x="192.6" y="226.8" text-anchor="middle">114°E</text>
<text x="-7.5" y="23.5" text-anchor="end">21.6°S</text>
<text x="-7.5" y="50.4" text-anchor="end">21.8°S</text>
<text x="-7.5" y="77.1" text-anchor="end">22°S</text>
<text x="-7.5" y="103.8" text-anchor="end">22.2°S</text>
<text x="-7.5" y="130.7" text-anchor="end">22.4°S</text>
<text x="-7.5" y="157.2" text-anchor="end">22.6°S</text>
<text x="-7.5" y="183.9" text-anchor="end">22.8°S</text>
<text x="-7.5" y="210.4" text-anchor="end">23°S</text>
<linearGradient id="g3" x1="0" y1="0" x2="0" y2="1"><stop offset="0%" stop-color="rgb(34,31,27)"/><stop offset="8.3%" stop-color="rgb(66,51,37)"/><stop offset="16.7%" stop-color="rgb(97,72,46)"/><stop offset="25%" stop-color="rgb(122,88,51)"/><stop offset="33.3%" stop-color="rgb(143,100,53)"/><stop offset="41.7%" stop-color="rgb(162,114,56)"/><stop offset="50%" stop-color="rgb(175,131,64)"/><stop offset="58.3%" stop-color="rgb(188,148,71)"/><stop offset="66.7%" stop-color="rgb(197,169,85)"/><stop offset="75%" stop-color="rgb(207,189,103)"/><stop offset="83.3%" stop-color="rgb(219,213,130)"/><stop offset="91.7%" stop-color="rgb(227,231,151)"/><stop offset="100%" stop-color="rgb(233,246,171)"/></linearGradient>
<rect x="233.0" y="80.0" width="2.2" height="49" fill="url(#g3)" stroke="#000" stroke-width="1"/>
<path d="M235.7 80h4.7" stroke="#000" stroke-width="1"/>
<text x="245.1" y="85.3">0.5</text>
<path d="M235.7 129h4.7" stroke="#000" stroke-width="1"/>
<text x="245.1" y="134.3">0.0</text>
</g>
<g transform="translate(478.5 396.5)">
<clipPath id="c4"><rect x="0" y="0" width="219.0" height="208.9"/></clipPath>
<g clip-path="url(#c4)">
<rect x="0" y="0" width="219.0" height="208.9" fill="#98b7e2"/>
<path d="M168.6 209 L168.6 196.2 L168 189.4 L165.5 184 L163.4 178.6 L160.7 173.1 L156.6 169.1 L152.6 166.6 L149.2 165.7 L150.5 160.9 L150.1 154.8 L148.5 149.4 L147.1 146 L149.2 142.6 L153.3 139.2 L156 135.1 L158.3 130.4 L158.7 124.9 L160 120.9 L161.4 119.4 L165.5 114.6 L167.5 109.9 L170.2 101.7 L172.9 92.2 L175.6 84.1 L177 75.9 L180.4 69.1 L183.1 61.7 L186.5 55.6 L190.6 49.5 L194.6 45.4 L200.1 42.7 L205.5 41.3 L208.9 40 L210.9 42 L210.7 44.7 L208.2 48.8 L206.2 55.6 L204.4 63.7 L203.5 71.9 L202.1 80 L200.3 86.8 L199.7 91.5 L201.4 95.6 L204.1 100.4 L205.9 105.1 L205.5 108.5 L204.1 110.5 L204.8 112.8 L206.9 111.9 L208.2 108.5 L210.3 107.5 L211.9 109.9 L211.9 113.9 L210.3 117.3 L207.5 120 L205.5 122.8 L205.2 125 L205.8 127.7 L204.4 131.1 L205.5 134.5 L208.2 137.2 L212.3 137.9 L215.7 135.8 L217.7 131.8 L220 128.5 L221.0 210.9 L168.6 210.9 Z" fill="#efefdb"/>
<g transform="rotate(-1.45 109.5 104.15)" shape-rendering="crispEdges">
<polygon points="2.1,1.75 217.1,1.75 217.1,70.85 215.61,205.66 3.22,205.66 2.1,70.85" fill="rgb(233,246,171)"/>
<path fill="rgb(206,188,102)" d="M42.1 1.75h5.2v5.57h-5.2zM172.1 1.75h5.2v5.57h-5.2zM192.1 1.75h5.2v5.57h-5.2zM42.1 7.12h5.2v5.57h-5.2zM192.1 7.12h10.2v5.57h-10.2zM127.1 12.48h10.2v5.57h-10.2zM162.1 12.48h15.2v5.57h-15.2zM192.1 12.48h5.2v5.57h-5.2zM207.1 12.48h5.2v5.57h-5.2zM117.1 17.85h15.2v5.57h-15.2zM142.1 17.85h5.2v5.57h-5.2zM152.1 17.85h10.2v5.57h-10.2zM167.1 17.85h15.2v5.57h-15.2zM207.1 17.85h10.2v5.57h-10.2zM117.1 23.21h10.2v5.57h-10.2zM132.1 23.21h5.2v5.57h-5.2zM142.1 23.21h5.2v5.57h-5.2zM172.1 23.21h5.2v5.57h-5.2zM182.1 23.21h5.2v5.57h-5.2zM192.1 23.21h5.2v5.57h-5.2zM207.1 23.21h10.2v5.57h-10.2zM117.1 28.58h10.2v5.57h-10.2zM132.1 28.58h5.2v5.57h-5.2zM142.1 28.58h5.2v5.57h-5.2zM157.1 28.58h5.2v5.57h-5.2zM187.1 28.58h5.2v5.57h-5.2zM212.1 28.58h5.2v5.57h-5.2zM67.1 33.95h5.2v5.57h-5.2zM107.1 33.95h15.2v5.57h-15.2zM127.1 33.95h10.2v5.57h-10.2zM197.1 33.95h10.2v5.57h-10.2zM212.1 33.95h5.2v5.57h-5.2zM107.1 39.31h5.2v5.57h-5.2zM122.1 39.31h10.2v5.57h-10.2zM107.1 44.68h15.2v5.57h-15.2zM97.1 55.41h5.2v5.57h-5.2zM212.06 71.51h5.2v5.57h-5.2zM167.04 76.87h5.2v5.57h-5.2zM112.06 92.97h5.19v5.57h-5.19zM112.05 98.34h10.17v5.57h-10.17zM7.51 119.8h5.18v5.57h-5.18zM2.57 125.17h10.15v5.57h-10.15zM2.62 130.53h5.17v5.57h-5.17zM62.28 130.53h5.17v5.57h-5.17zM97.08 146.63h5.16v5.57h-5.16zM116.9 168.1h5.16v5.57h-5.16zM111.93 173.46h15.06v5.57h-15.06zM111.92 178.83h10.1v5.57h-10.1zM97.07 184.19h19.99v5.57h-19.99zM121.81 184.19h5.15v5.57h-5.15zM97.07 189.56h10.09v5.57h-10.09zM111.91 189.56h10.09v5.57h-10.09zM92.13 194.93h10.09v5.57h-10.09zM106.96 194.93h24.91v5.57h-24.91zM136.61 194.93h5.14v5.57h-5.14zM111.89 200.29h5.14v5.57h-5.14zM121.77 200.29h5.14v5.57h-5.14zM151.41 200.29h10.08v5.57h-10.08z"/>
<path fill="rgb(207,190,104)" d="M47.1 1.75h5.2v5.57h-5.2zM82.1 1.75h5.2v5.57h-5.2zM97.1 1.75h5.2v5.57h-5.2zM112.1 1.75h5.2v5.57h-5.2zM102.1 7.12h10.2v5.57h-10.2zM127.1 7.12h10.2v5.57h-10.2zM152.1 7.12h5.2v5.57h-5.2zM167.1 7.12h5.2v5.57h-5.2zM97.1 12.48h5.2v5.57h-5.2zM112.1 12.48h15.2v5.57h-15.2zM147.1 12.48h15.2v5.57h-15.2zM197.1 12.48h10.2v5.57h-10.2zM212.1 12.48h5.2v5.57h-5.2zM97.1 17.85h5.2v5.57h-5.2zM137.1 17.85h5.2v5.57h-5.2zM147.1 17.85h5.2v5.57h-5.2zM182.1 17.85h5.2v5.57h-5.2zM97.1 23.21h10.2v5.57h-10.2zM112.1 23.21h5.2v5.57h-5.2zM127.1 23.21h5.2v5.57h-5.2zM137.1 23.21h5.2v5.57h-5.2zM147.1 23.21h5.2v5.57h-5.2zM177.1 23.21h5.2v5.57h-5.2zM187.1 23.21h5.2v5.57h-5.2zM57.1 28.58h15.2v5.57h-15.2zM97.1 28.58h20.2v5.57h-20.2zM127.1 28.58h5.2v5.57h-5.2zM137.1 28.58h5.2v5.57h-5.2zM147.1 28.58h10.2v5.57h-10.2zM172.1 28.58h10.2v5.57h-10.2zM192.1 28.58h5.2v5.57h-5.2zM57.1 33.95h10.2v5.57h-10.2zM102.1 33.95h5.2v5.57h-5.2zM122.1 33.95h5.2v5.57h-5.2zM142.1 33.95h5.2v5.57h-5.2zM162.1 33.95h5.2v5.57h-5.2zM182.1 33.95h5.2v5.57h-5.2zM192.1 33.95h5.2v5.57h-5.2zM52.1 39.31h5.2v5.57h-5.2zM112.1 39.31h5.2v5.57h-5.2zM132.1 39.31h10.2v5.57h-10.2zM127.1 44.68h10.2v5.57h-10.2zM52.1 50.04h5.2v5.57h-5.2zM112.1 50.04h10.2v5.57h-10.2zM132.1 50.04h5.2v5.57h-5.2zM212.1 66.14h5.2v5.57h-5.2zM162.05 76.87h5.2v5.57h-5.2zM212.01 76.87h5.2v5.57h-5.2zM117.07 82.24h10.19v5.57h-10.19zM162.01 82.24h10.19v5.57h-10.19zM211.95 82.24h5.19v5.57h-5.19zM117.06 87.61h5.19v5.57h-5.19zM156.99 87.61h10.18v5.57h-10.18zM211.89 87.61h5.19v5.57h-5.19zM92.11 92.97h5.19v5.57h-5.19zM206.85 92.97h5.19v5.57h-5.19zM122.02 98.34h15.16v5.57h-15.16zM211.78 98.34h5.19v5.57h-5.19zM117.03 103.7h20.14v5.57h-20.14zM131.94 114.44h10.16v5.57h-10.16zM136.9 119.8h15.13v5.57h-15.13zM62.27 125.17h5.17v5.57h-5.17zM131.91 125.17h5.17v5.57h-5.17zM141.86 125.17h10.15v5.57h-10.15zM7.59 130.53h5.17v5.57h-5.17zM67.25 130.53h5.17v5.57h-5.17zM136.86 130.53h15.12v5.57h-15.12zM2.66 135.9h5.17v5.57h-5.17zM42.42 135.9h5.17v5.57h-5.17zM67.27 135.9h5.17v5.57h-5.17zM92.11 135.9h5.17v5.57h-5.17zM136.84 135.9h5.17v5.57h-5.17zM2.71 141.27h5.17v5.57h-5.17zM97.08 141.27h15.1v5.57h-15.1zM136.82 141.27h5.17v5.57h-5.17zM102.05 146.63h5.16v5.57h-5.16zM42.5 152h5.16v5.57h-5.16zM92.12 152h10.12v5.57h-10.12zM126.85 152h5.16v5.57h-5.16zM42.55 162.73h5.16v5.57h-5.16zM111.95 162.73h15.07v5.57h-15.07zM42.57 168.1h5.16v5.57h-5.16zM121.85 168.1h5.16v5.57h-5.16zM106.98 173.46h5.15v5.57h-5.15zM92.12 178.83h20v5.57h-20zM121.83 178.83h5.15v5.57h-5.15zM92.13 184.19h5.15v5.57h-5.15zM116.86 184.19h5.15v5.57h-5.15zM126.76 184.19h5.15v5.57h-5.15zM92.13 189.56h5.15v5.57h-5.15zM121.8 189.56h10.09v5.57h-10.09zM141.58 189.56h5.15v5.57h-5.15zM151.47 189.56h10.09v5.57h-10.09zM102.01 194.93h5.14v5.57h-5.14zM141.56 194.93h5.14v5.57h-5.14zM92.13 200.29h15.02v5.57h-15.02zM126.71 200.29h10.08v5.57h-10.08zM146.47 200.29h5.14v5.57h-5.14z"/>
<path fill="rgb(209,192,107)" d="M52.1 1.75h5.2v5.57h-5.2zM77.1 1.75h5.2v5.57h-5.2zM87.1 1.75h10.2v5.57h-10.2zM102.1 1.75h10.2v5.57h-10.2zM117.1 1.75h10.2v5.57h-10.2zM132.1 1.75h5.2v5.57h-5.2zM142.1 1.75h5.2v5.57h-5.2zM167.1 1.75h5.2v5.57h-5.2zM197.1 1.75h20.2v5.57h-20.2zM47.1 7.12h15.2v5.57h-15.2zM72.1 7.12h30.2v5.57h-30.2zM112.1 7.12h15.2v5.57h-15.2zM147.1 7.12h5.2v5.57h-5.2zM157.1 7.12h10.2v5.57h-10.2zM202.1 7.12h15.2v5.57h-15.2zM77.1 12.48h5.2v5.57h-5.2zM92.1 12.48h5.2v5.57h-5.2zM102.1 12.48h5.2v5.57h-5.2zM137.1 12.48h10.2v5.57h-10.2zM47.1 17.85h5.2v5.57h-5.2zM77.1 17.85h10.2v5.57h-10.2zM102.1 17.85h15.2v5.57h-15.2zM52.1 23.21h20.2v5.57h-20.2zM92.1 23.21h5.2v5.57h-5.2zM107.1 23.21h5.2v5.57h-5.2zM52.1 28.58h5.2v5.57h-5.2zM72.1 28.58h5.2v5.57h-5.2zM182.1 28.58h5.2v5.57h-5.2zM137.1 33.95h5.2v5.57h-5.2zM147.1 33.95h15.2v5.57h-15.2zM167.1 33.95h15.2v5.57h-15.2zM187.1 33.95h5.2v5.57h-5.2zM187.1 39.31h10.2v5.57h-10.2zM52.1 44.68h5.2v5.57h-5.2zM122.1 44.68h5.2v5.57h-5.2zM137.1 44.68h5.2v5.57h-5.2zM122.1 50.04h10.2v5.57h-10.2zM137.1 50.04h5.2v5.57h-5.2zM117.1 55.41h5.2v5.57h-5.2zM127.1 55.41h10.2v5.57h-10.2zM132.1 66.14h5.2v5.57h-5.2zM122.09 71.51h5.2v5.57h-5.2zM157.08 71.51h5.2v5.57h-5.2zM172.08 71.51h5.2v5.57h-5.2zM117.08 76.87h10.19v5.57h-10.19zM132.07 76.87h5.2v5.57h-5.2zM157.05 76.87h5.2v5.57h-5.2zM127.06 82.24h5.19v5.57h-5.19zM157.02 82.24h5.19v5.57h-5.19zM112.07 87.61h5.19v5.57h-5.19zM122.05 87.61h5.19v5.57h-5.19zM132.03 87.61h5.19v5.57h-5.19zM142.02 87.61h5.19v5.57h-5.19zM152 87.61h5.19v5.57h-5.19zM206.9 87.61h5.19v5.57h-5.19zM97.09 92.97h5.19v5.57h-5.19zM117.05 92.97h20.16v5.57h-20.16zM141.99 92.97h5.19v5.57h-5.19zM151.97 92.97h15.17v5.57h-15.17zM136.98 98.34h5.19v5.57h-5.19zM146.96 98.34h5.19v5.57h-5.19zM136.96 103.7h10.17v5.57h-10.17zM156.9 103.7h5.18v5.57h-5.18zM122 109.07h10.16v5.57h-10.16zM136.94 109.07h15.14v5.57h-15.14zM141.9 114.44h10.16v5.57h-10.16zM156.84 114.44h5.18v5.57h-5.18zM32.39 119.8h5.18v5.57h-5.18zM131.93 119.8h5.18v5.57h-5.18zM151.83 119.8h5.18v5.57h-5.18zM32.42 125.17h5.17v5.57h-5.17zM126.93 125.17h5.17v5.57h-5.17zM136.88 125.17h5.17v5.57h-5.17zM131.89 130.53h5.17v5.57h-5.17zM211.44 130.53h5.17v5.57h-5.17zM7.63 135.9h5.17v5.57h-5.17zM47.39 135.9h5.17v5.57h-5.17zM57.33 135.9h10.14v5.57h-10.14zM97.08 135.9h15.11v5.57h-15.11zM116.96 135.9h5.17v5.57h-5.17zM126.9 135.9h10.14v5.57h-10.14zM141.81 135.9h5.17v5.57h-5.17zM126.89 141.27h10.13v5.57h-10.13zM2.75 146.63h5.16v5.57h-5.16zM42.47 146.63h10.13v5.57h-10.13zM92.12 146.63h5.16v5.57h-5.16zM107.01 146.63h5.16v5.57h-5.16zM116.94 146.63h5.16v5.57h-5.16zM131.83 146.63h5.16v5.57h-5.16zM27.61 152h5.16v5.57h-5.16zM37.53 152h5.16v5.57h-5.16zM47.46 152h5.16v5.57h-5.16zM102.04 152h5.16v5.57h-5.16zM116.93 152h5.16v5.57h-5.16zM131.82 152h10.12v5.57h-10.12zM32.6 157.36h15.08v5.57h-15.08zM92.12 157.36h5.16v5.57h-5.16zM111.96 157.36h20.04v5.57h-20.04zM27.67 162.73h5.16v5.57h-5.16zM92.12 162.73h5.16v5.57h-5.16zM102.04 162.73h10.11v5.57h-10.11zM126.82 162.73h5.16v5.57h-5.16zM37.62 168.1h5.16v5.57h-5.16zM92.12 168.1h5.16v5.57h-5.16zM106.99 168.1h10.11v5.57h-10.11zM2.98 173.46h5.15v5.57h-5.15zM27.74 173.46h10.11v5.57h-10.11zM102.03 173.46h5.15v5.57h-5.15zM126.79 173.46h5.15v5.57h-5.15zM126.78 178.83h5.15v5.57h-5.15zM131.71 184.19h5.15v5.57h-5.15zM141.6 184.19h15.04v5.57h-15.04zM3.11 189.56h5.15v5.57h-5.15zM131.69 189.56h10.09v5.57h-10.09zM146.53 189.56h5.15v5.57h-5.15zM8.1 194.93h5.14v5.57h-5.14zM131.67 194.93h5.14v5.57h-5.14zM146.5 194.93h15.03v5.57h-15.03zM136.59 200.29h10.08v5.57h-10.08z"/>
<path fill="rgb(210,195,109)" d="M57.1 1.75h5.2v5.57h-5.2zM67.1 1.75h10.2v5.57h-10.2zM127.1 1.75h5.2v5.57h-5.2zM137.1 1.75h5.2v5.57h-5.2zM147.1 1.75h20.2v5.57h-20.2zM62.1 7.12h10.2v5.57h-10.2zM137.1 7.12h10.2v5.57h-10.2zM47.1 12.48h30.2v5.57h-30.2zM82.1 12.48h10.2v5.57h-10.2zM107.1 12.48h5.2v5.57h-5.2zM42.1 17.85h5.2v5.57h-5.2zM52.1 17.85h10.2v5.57h-10.2zM72.1 17.85h5.2v5.57h-5.2zM87.1 17.85h10.2v5.57h-10.2zM72.1 23.21h10.2v5.57h-10.2zM142.1 39.31h15.2v5.57h-15.2zM182.1 39.31h5.2v5.57h-5.2zM142.1 44.68h10.2v5.57h-10.2zM142.1 50.04h10.2v5.57h-10.2zM117.1 60.78h10.2v5.57h-10.2zM132.1 60.78h5.2v5.57h-5.2zM117.1 66.14h15.2v5.57h-15.2zM137.1 66.14h5.2v5.57h-5.2zM162.1 66.14h5.2v5.57h-5.2zM172.1 66.14h5.2v5.57h-5.2zM117.09 71.51h5.2v5.57h-5.2zM127.09 71.51h15.2v5.57h-15.2zM152.08 71.51h5.2v5.57h-5.2zM162.08 71.51h10.2v5.57h-10.2zM127.07 76.87h5.2v5.57h-5.2zM137.07 76.87h5.2v5.57h-5.2zM147.06 76.87h10.19v5.57h-10.19zM132.05 82.24h10.19v5.57h-10.19zM147.03 82.24h10.19v5.57h-10.19zM107.08 87.61h5.19v5.57h-5.19zM127.04 87.61h5.19v5.57h-5.19zM137.03 87.61h5.19v5.57h-5.19zM137 92.97h5.19v5.57h-5.19zM146.98 92.97h5.19v5.57h-5.19zM141.97 98.34h5.19v5.57h-5.19zM151.94 98.34h15.16v5.57h-15.16zM146.93 103.7h10.17v5.57h-10.17zM131.96 109.07h5.18v5.57h-5.18zM151.89 109.07h10.16v5.57h-10.16zM151.86 114.44h5.18v5.57h-5.18zM211.5 125.17h5.17v5.57h-5.17zM111.99 135.9h5.17v5.57h-5.17zM121.93 135.9h5.17v5.57h-5.17zM42.44 141.27h10.13v5.57h-10.13zM77.21 141.27h5.17v5.57h-5.17zM111.98 141.27h15.1v5.57h-15.1zM37.51 146.63h5.16v5.57h-5.16zM111.98 146.63h5.16v5.57h-5.16zM121.91 146.63h10.13v5.57h-10.13zM136.8 146.63h5.16v5.57h-5.16zM2.8 152h5.16v5.57h-5.16zM107 152h10.12v5.57h-10.12zM121.89 152h5.16v5.57h-5.16zM27.64 157.36h5.16v5.57h-5.16zM97.08 157.36h15.08v5.57h-15.08zM136.76 157.36h5.16v5.57h-5.16zM97.08 162.73h5.16v5.57h-5.16zM22.75 168.1h15.07v5.57h-15.07zM97.08 168.1h10.11v5.57h-10.11zM22.79 173.46h5.15v5.57h-5.15zM92.12 173.46h10.11v5.57h-10.11zM3.02 178.83h10.1v5.57h-10.1zM131.73 178.83h24.95v5.57h-24.95zM136.66 184.19h5.15v5.57h-5.15zM8.06 189.56h5.15v5.57h-5.15z"/>
<path fill="rgb(212,198,112)" d="M62.1 1.75h5.2v5.57h-5.2zM62.1 17.85h10.2v5.57h-10.2zM37.1 23.21h15.2v5.57h-15.2zM157.1 39.31h5.2v5.57h-5.2zM167.1 39.31h15.2v5.57h-15.2zM152.1 44.68h5.2v5.57h-5.2zM152.1 50.04h5.2v5.57h-5.2zM122.1 55.41h5.2v5.57h-5.2zM137.1 55.41h10.2v5.57h-10.2zM172.1 55.41h10.2v5.57h-10.2zM127.1 60.78h5.2v5.57h-5.2zM137.1 60.78h5.2v5.57h-5.2zM167.1 60.78h10.2v5.57h-10.2zM142.1 66.14h10.2v5.57h-10.2zM157.1 66.14h5.2v5.57h-5.2zM167.1 66.14h5.2v5.57h-5.2zM142.09 71.51h10.2v5.57h-10.2zM142.06 76.87h5.2v5.57h-5.2zM107.08 82.24h5.19v5.57h-5.19zM142.04 82.24h5.19v5.57h-5.19zM147.01 87.61h5.19v5.57h-5.19zM7.68 141.27h5.17v5.57h-5.17zM17.61 141.27h5.17v5.57h-5.17zM57.35 141.27h5.17v5.57h-5.17zM67.28 141.27h5.17v5.57h-5.17zM22.65 152h5.16v5.57h-5.16zM22.68 157.36h5.16v5.57h-5.16zM131.8 157.36h5.16v5.57h-5.16zM141.72 157.36h5.16v5.57h-5.16zM22.72 162.73h5.16v5.57h-5.16zM131.78 162.73h10.11v5.57h-10.11zM126.81 168.1h10.11v5.57h-10.11zM7.93 173.46h5.15v5.57h-5.15zM17.83 173.46h5.15v5.57h-5.15zM141.65 173.46h15.06v5.57h-15.06zM8.01 184.19h5.15v5.57h-5.15z"/>
<path fill="rgb(204,184,98)" d="M177.1 1.75h5.2v5.57h-5.2zM187.1 1.75h5.2v5.57h-5.2zM182.1 7.12h5.2v5.57h-5.2z"/>
<path fill="rgb(203,182,96)" d="M182.1 1.75h5.2v5.57h-5.2z"/>
<path fill="rgb(205,186,100)" d="M172.1 7.12h10.2v5.57h-10.2zM187.1 7.12h5.2v5.57h-5.2zM177.1 12.48h15.2v5.57h-15.2zM132.1 17.85h5.2v5.57h-5.2zM162.1 17.85h5.2v5.57h-5.2zM187.1 17.85h20.2v5.57h-20.2zM152.1 23.21h20.2v5.57h-20.2zM197.1 23.21h10.2v5.57h-10.2zM162.1 28.58h10.2v5.57h-10.2zM197.1 28.58h15.2v5.57h-15.2zM117.1 39.31h5.2v5.57h-5.2zM211.84 92.97h5.19v5.57h-5.19zM106.96 189.56h5.15v5.57h-5.15zM106.95 200.29h5.14v5.57h-5.14zM116.83 200.29h5.14v5.57h-5.14z"/>
<path fill="rgb(213,201,115)" d="M162.1 39.31h5.2v5.57h-5.2zM157.1 44.68h10.2v5.57h-10.2zM177.1 44.68h5.2v5.57h-5.2zM187.1 44.68h5.2v5.57h-5.2zM162.1 50.04h5.2v5.57h-5.2zM147.1 55.41h10.2v5.57h-10.2zM142.1 60.78h10.2v5.57h-10.2zM162.1 60.78h5.2v5.57h-5.2zM152.1 66.14h5.2v5.57h-5.2zM12.64 141.27h5.17v5.57h-5.17zM7.72 146.63h5.16v5.57h-5.16zM17.65 146.63h5.16v5.57h-5.16zM2.84 157.36h5.16v5.57h-5.16zM2.89 162.73h5.16v5.57h-5.16zM2.93 168.1h5.16v5.57h-5.16zM136.72 168.1h10.11v5.57h-10.11zM12.88 173.46h5.15v5.57h-5.15zM131.74 173.46h10.11v5.57h-10.11zM12.92 178.83h5.15v5.57h-5.15z"/>
<path fill="rgb(216,206,121)" d="M167.1 44.68h5.2v5.57h-5.2zM167.1 50.04h15.2v5.57h-15.2zM162.1 55.41h5.2v5.57h-5.2zM7.8 157.36h5.16v5.57h-5.16zM17.72 157.36h5.16v5.57h-5.16zM7.84 162.73h5.16v5.57h-5.16zM12.84 168.1h5.16v5.57h-5.16z"/>
<path fill="rgb(215,203,118)" d="M172.1 44.68h5.2v5.57h-5.2zM182.1 44.68h5.2v5.57h-5.2zM157.1 50.04h5.2v5.57h-5.2zM182.1 50.04h5.2v5.57h-5.2zM157.1 55.41h5.2v5.57h-5.2zM167.1 55.41h5.2v5.57h-5.2zM152.1 60.78h10.2v5.57h-10.2zM12.68 146.63h5.16v5.57h-5.16zM7.76 152h5.16v5.57h-5.16zM17.68 152h5.16v5.57h-5.16zM17.76 162.73h5.16v5.57h-5.16zM7.89 168.1h5.16v5.57h-5.16zM17.8 168.1h5.16v5.57h-5.16z"/>
<path fill="rgb(217,208,123)" d="M12.72 152h5.16v5.57h-5.16zM12.76 157.36h5.16v5.57h-5.16zM12.8 162.73h5.16v5.57h-5.16z"/>
</g>
<path d="M0.9 0L6.7 208.9M32.1 0L37.6 208.9M63.4 0L68.6 208.9M94.6 0L99.6 208.9M125.9 0L130.6 208.9M157.1 0L161.5 208.9M188.4 0L192.6 208.9M0 19.1L219 14.2M0 46L219 41.1M0 72.7L219 67.8M0 99.4L219 94.5M0 126.3L219 121.4M0 152.8L219 147.9M0 179.5L219 174.6M0 206L219 201.1" stroke="#aeaeb0" stroke-width="1.25" fill="none"/>
<path d="M168.6 209 L168.6 196.2 L168 189.4 L165.5 184 L163.4 178.6 L160.7 173.1 L156.6 169.1 L152.6 166.6 L149.2 165.7 L150.5 160.9 L150.1 154.8 L148.5 149.4 L147.1 146 L149.2 142.6 L153.3 139.2 L156 135.1 L158.3 130.4 L158.7 124.9 L160 120.9 L161.4 119.4 L165.5 114.6 L167.5 109.9 L170.2 101.7 L172.9 92.2 L175.6 84.1 L177 75.9 L180.4 69.1 L183.1 61.7 L186.5 55.6 L190.6 49.5 L194.6 45.4 L200.1 42.7 L205.5 41.3 L208.9 40 L210.9 42 L210.7 44.7 L208.2 48.8 L206.2 55.6 L204.4 63.7 L203.5 71.9 L202.1 80 L200.3 86.8 L199.7 91.5 L201.4 95.6 L204.1 100.4 L205.9 105.1 L205.5 108.5 L204.1 110.5 L204.8 112.8 L206.9 111.9 L208.2 108.5 L210.3 107.5 L211.9 109.9 L211.9 113.9 L210.3 117.3 L207.5 120 L205.5 122.8 L205.2 125 L205.8 127.7 L204.4 131.1 L205.5 134.5 L208.2 137.2 L212.3 137.9 L215.7 135.8 L217.7 131.8 L220 128.5" stroke="#878787" stroke-width="1.5" fill="none" stroke-linejoin="round"/>
</g>
<rect x="0" y="0" width="219.0" height="208.9" fill="none" stroke="#000" stroke-width="1.1"/>
<text x="109.5" y="-30.3" style="font-size:16.67px" text-anchor="middle">v std. [m/s]</text>
<text x="0.9" y="-10.9" text-anchor="middle">112.5°E</text>
<text x="6.7" y="226.8" text-anchor="middle">112.5°E</text>
<text x="63.4" y="-10.9" text-anchor="middle">113°E</text>
<text x="68.6" y="226.8" text-anchor="middle">113°E</text>
<text x="125.9" y="-10.9" text-anchor="middle">113.5°E</text>
<text x="130.6" y="226.8" text-anchor="middle">113.5°E</text>
<text x="188.4" y="-10.9" text-anchor="middle">114°E</text>
<text x="192.6" y="226.8" text-anchor="middle">114°E</text>
<text x="-7.5" y="23.5" text-anchor="end">21.6°S</text>
<text x="-7.5" y="50.4" text-anchor="end">21.8°S</text>
<text x="-7.5" y="77.1" text-anchor="end">22°S</text>
<text x="-7.5" y="103.8" text-anchor="end">22.2°S</text>
<text x="-7.5" y="130.7" text-anchor="end">22.4°S</text>
<text x="-7.5" y="157.2" text-anchor="end">22.6°S</text>
<text x="-7.5" y="183.9" text-anchor="end">22.8°S</text>
<text x="-7.5" y="210.4" text-anchor="end">23°S</text>
<linearGradient id="g4" x1="0" y1="0" x2="0" y2="1"><stop offset="0%" stop-color="rgb(34,31,27)"/><stop offset="8.3%" stop-color="rgb(66,51,37)"/><stop offset="16.7%" stop-color="rgb(97,72,46)"/><stop offset="25%" stop-color="rgb(122,88,51)"/><stop offset="33.3%" stop-color="rgb(143,100,53)"/><stop offset="41.7%" stop-color="rgb(162,114,56)"/><stop offset="50%" stop-color="rgb(175,131,64)"/><stop offset="58.3%" stop-color="rgb(188,148,71)"/><stop offset="66.7%" stop-color="rgb(197,169,85)"/><stop offset="75%" stop-color="rgb(207,189,103)"/><stop offset="83.3%" stop-color="rgb(219,213,130)"/><stop offset="91.7%" stop-color="rgb(227,231,151)"/><stop offset="100%" stop-color="rgb(233,246,171)"/></linearGradient>
<rect x="233.0" y="80.0" width="2.2" height="49" fill="url(#g4)" stroke="#000" stroke-width="1"/>
<path d="M235.7 80h4.7" stroke="#000" stroke-width="1"/>
<text x="245.1" y="85.3">0.5</text>
<path d="M235.7 129h4.7" stroke="#000" stroke-width="1"/>
<text x="245.1" y="134.3">0.0</text>
</g>
<g transform="translate(806.5 396.5)">
<clipPath id="c5"><rect x="0" y="0" width="219.0" height="208.9"/></clipPath>
<g clip-path="url(#c5)">
<rect x="0" y="0" width="219.0" height="208.9" fill="#98b7e2"/>
<path d="M168.6 209 L168.6 196.2 L168 189.4 L165.5 184 L163.4 178.6 L160.7 173.1 L156.6 169.1 L152.6 166.6 L149.2 165.7 L150.5 160.9 L150.1 154.8 L148.5 149.4 L147.1 146 L149.2 142.6 L153.3 139.2 L156 135.1 L158.3 130.4 L158.7 124.9 L160 120.9 L161.4 119.4 L165.5 114.6 L167.5 109.9 L170.2 101.7 L172.9 92.2 L175.6 84.1 L177 75.9 L180.4 69.1 L183.1 61.7 L186.5 55.6 L190.6 49.5 L194.6 45.4 L200.1 42.7 L205.5 41.3 L208.9 40 L210.9 42 L210.7 44.7 L208.2 48.8 L206.2 55.6 L204.4 63.7 L203.5 71.9 L202.1 80 L200.3 86.8 L199.7 91.5 L201.4 95.6 L204.1 100.4 L205.9 105.1 L205.5 108.5 L204.1 110.5 L204.8 112.8 L206.9 111.9 L208.2 108.5 L210.3 107.5 L211.9 109.9 L211.9 113.9 L210.3 117.3 L207.5 120 L205.5 122.8 L205.2 125 L205.8 127.7 L204.4 131.1 L205.5 134.5 L208.2 137.2 L212.3 137.9 L215.7 135.8 L217.7 131.8 L220 128.5 L221.0 210.9 L168.6 210.9 Z" fill="#efefdb"/>
<g transform="rotate(-1.45 109.5 104.15)" shape-rendering="crispEdges">
<polygon points="2.1,1.75 217.1,1.75 217.1,70.85 215.61,205.66 3.22,205.66 2.1,70.85" fill="rgb(254,245,244)"/>
<path fill="rgb(235,235,226)" d="M42.1 1.75h5.2v5.57h-5.2zM52.1 1.75h5.2v5.57h-5.2zM62.1 1.75h25.2v5.57h-25.2zM112.1 1.75h20.2v5.57h-20.2zM172.1 1.75h10.2v5.57h-10.2zM187.1 1.75h5.2v5.57h-5.2zM42.1 7.12h5.2v5.57h-5.2zM72.1 7.12h10.2v5.57h-10.2zM97.1 7.12h5.2v5.57h-5.2zM112.1 7.12h5.2v5.57h-5.2zM127.1 7.12h10.2v5.57h-10.2zM162.1 7.12h10.2v5.57h-10.2zM47.1 12.48h10.2v5.57h-10.2zM72.1 12.48h5.2v5.57h-5.2zM197.1 12.48h5.2v5.57h-5.2zM57.1 17.85h15.2v5.57h-15.2zM87.1 17.85h10.2v5.57h-10.2zM117.1 17.85h15.2v5.57h-15.2zM137.1 17.85h5.2v5.57h-5.2zM157.1 17.85h5.2v5.57h-5.2zM197.1 17.85h5.2v5.57h-5.2zM37.1 23.21h5.2v5.57h-5.2zM67.1 23.21h10.2v5.57h-10.2zM97.1 23.21h20.2v5.57h-20.2zM62.1 28.58h5.2v5.57h-5.2zM72.1 28.58h5.2v5.57h-5.2zM57.1 33.95h10.2v5.57h-10.2zM102.1 33.95h5.2v5.57h-5.2zM212.1 33.95h5.2v5.57h-5.2zM52.1 39.31h5.2v5.57h-5.2zM107.1 39.31h5.2v5.57h-5.2zM107.1 44.68h5.2v5.57h-5.2zM117.1 44.68h10.2v5.57h-10.2zM122.1 50.04h5.2v5.57h-5.2zM97.1 55.41h5.2v5.57h-5.2zM122.1 55.41h5.2v5.57h-5.2zM122.1 60.78h10.2v5.57h-10.2zM142.1 60.78h5.2v5.57h-5.2zM167.1 60.78h5.2v5.57h-5.2zM162.1 66.14h5.2v5.57h-5.2zM172.1 66.14h5.2v5.57h-5.2zM137.09 71.51h10.2v5.57h-10.2zM137.07 76.87h15.19v5.57h-15.19zM142.04 82.24h5.19v5.57h-5.19zM112.07 87.61h5.19v5.57h-5.19zM137.03 87.61h5.19v5.57h-5.19zM147.01 87.61h5.19v5.57h-5.19zM92.11 92.97h10.18v5.57h-10.18zM122.04 92.97h5.19v5.57h-5.19zM132.02 92.97h10.18v5.57h-10.18zM146.98 92.97h5.19v5.57h-5.19zM161.95 92.97h5.19v5.57h-5.19zM117.04 98.34h5.19v5.57h-5.19zM132 98.34h5.19v5.57h-5.19zM161.92 98.34h5.19v5.57h-5.19zM122.01 103.7h5.18v5.57h-5.18zM136.96 103.7h5.18v5.57h-5.18zM131.96 109.07h10.16v5.57h-10.16zM131.94 114.44h5.18v5.57h-5.18zM136.9 119.8h15.13v5.57h-15.13zM2.57 125.17h10.15v5.57h-10.15zM141.86 125.17h5.17v5.57h-5.17zM136.86 130.53h15.12v5.57h-15.12zM57.33 135.9h5.17v5.57h-5.17zM92.11 135.9h5.17v5.57h-5.17zM102.05 135.9h10.14v5.57h-10.14zM121.93 135.9h5.17v5.57h-5.17zM57.35 141.27h5.17v5.57h-5.17zM107.02 141.27h5.17v5.57h-5.17zM2.75 146.63h5.16v5.57h-5.16zM107.01 146.63h5.16v5.57h-5.16zM116.94 146.63h10.13v5.57h-10.13zM22.65 152h5.16v5.57h-5.16zM47.46 152h5.16v5.57h-5.16zM92.12 152h5.16v5.57h-5.16zM111.97 152h5.16v5.57h-5.16zM22.72 162.73h5.16v5.57h-5.16zM92.12 162.73h29.94v5.57h-29.94zM2.93 168.1h5.16v5.57h-5.16zM22.75 168.1h10.11v5.57h-10.11zM92.12 168.1h5.16v5.57h-5.16zM121.85 168.1h10.11v5.57h-10.11zM17.83 173.46h5.15v5.57h-5.15zM92.12 173.46h5.15v5.57h-5.15zM126.79 173.46h5.15v5.57h-5.15zM151.55 173.46h5.15v5.57h-5.15zM121.83 178.83h5.15v5.57h-5.15zM131.73 178.83h15.05v5.57h-15.05zM151.53 178.83h5.15v5.57h-5.15zM126.76 184.19h5.15v5.57h-5.15zM126.74 189.56h5.15v5.57h-5.15zM131.67 194.93h5.14v5.57h-5.14zM156.39 194.93h5.14v5.57h-5.14zM156.36 200.29h5.14v5.57h-5.14z"/>
<path fill="rgb(231,233,222)" d="M47.1 1.75h5.2v5.57h-5.2zM162.1 1.75h10.2v5.57h-10.2zM182.1 1.75h5.2v5.57h-5.2zM47.1 7.12h5.2v5.57h-5.2zM102.1 7.12h10.2v5.57h-10.2zM117.1 7.12h10.2v5.57h-10.2zM172.1 7.12h5.2v5.57h-5.2zM92.1 12.48h10.2v5.57h-10.2zM107.1 12.48h5.2v5.57h-5.2zM122.1 12.48h15.2v5.57h-15.2zM152.1 12.48h5.2v5.57h-5.2zM42.1 17.85h10.2v5.57h-10.2zM97.1 17.85h5.2v5.57h-5.2zM147.1 17.85h10.2v5.57h-10.2zM42.1 23.21h5.2v5.57h-5.2zM57.1 23.21h10.2v5.57h-10.2zM152.1 23.21h5.2v5.57h-5.2zM57.1 28.58h5.2v5.57h-5.2zM67.1 28.58h5.2v5.57h-5.2zM67.1 33.95h5.2v5.57h-5.2zM112.1 44.68h5.2v5.57h-5.2zM112.1 50.04h10.2v5.57h-10.2zM132.1 60.78h10.2v5.57h-10.2zM137.1 66.14h5.2v5.57h-5.2zM167.1 66.14h5.2v5.57h-5.2zM147.08 71.51h5.2v5.57h-5.2zM157.08 71.51h5.2v5.57h-5.2zM172.08 71.51h5.2v5.57h-5.2zM152.05 76.87h10.19v5.57h-10.19zM107.08 82.24h5.19v5.57h-5.19zM137.05 82.24h5.19v5.57h-5.19zM147.03 82.24h15.18v5.57h-15.18zM107.08 87.61h5.19v5.57h-5.19zM156.99 87.61h5.19v5.57h-5.19zM141.99 92.97h5.19v5.57h-5.19zM136.98 98.34h5.19v5.57h-5.19zM127 103.7h10.17v5.57h-10.17zM126.98 109.07h5.18v5.57h-5.18zM136.92 114.44h5.18v5.57h-5.18zM131.93 119.8h5.18v5.57h-5.18zM32.42 125.17h5.17v5.57h-5.17zM62.27 125.17h5.17v5.57h-5.17zM126.93 125.17h15.12v5.57h-15.12zM146.83 125.17h5.17v5.57h-5.17zM62.28 130.53h10.14v5.57h-10.14zM111.99 135.9h5.17v5.57h-5.17zM111.98 141.27h5.17v5.57h-5.17zM121.92 141.27h5.17v5.57h-5.17zM17.65 146.63h5.16v5.57h-5.16zM111.98 146.63h5.16v5.57h-5.16zM2.89 162.73h5.16v5.57h-5.16zM7.93 173.46h10.11v5.57h-10.11zM121.84 173.46h5.15v5.57h-5.15zM116.87 178.83h5.15v5.57h-5.15zM126.78 178.83h5.15v5.57h-5.15zM146.58 178.83h5.15v5.57h-5.15zM92.13 184.19h5.15v5.57h-5.15zM92.13 189.56h5.15v5.57h-5.15zM106.96 189.56h5.15v5.57h-5.15zM136.59 200.29h5.14v5.57h-5.14z"/>
<path fill="rgb(238,237,229)" d="M57.1 1.75h5.2v5.57h-5.2zM87.1 1.75h5.2v5.57h-5.2zM97.1 1.75h5.2v5.57h-5.2zM107.1 1.75h5.2v5.57h-5.2zM152.1 1.75h10.2v5.57h-10.2zM192.1 1.75h5.2v5.57h-5.2zM52.1 7.12h20.2v5.57h-20.2zM82.1 7.12h15.2v5.57h-15.2zM147.1 7.12h15.2v5.57h-15.2zM177.1 7.12h10.2v5.57h-10.2zM192.1 7.12h5.2v5.57h-5.2zM82.1 12.48h10.2v5.57h-10.2zM137.1 12.48h15.2v5.57h-15.2zM157.1 12.48h10.2v5.57h-10.2zM52.1 17.85h5.2v5.57h-5.2zM72.1 17.85h15.2v5.57h-15.2zM132.1 17.85h5.2v5.57h-5.2zM142.1 17.85h5.2v5.57h-5.2zM162.1 17.85h5.2v5.57h-5.2zM192.1 17.85h5.2v5.57h-5.2zM202.1 17.85h5.2v5.57h-5.2zM77.1 23.21h5.2v5.57h-5.2zM92.1 23.21h5.2v5.57h-5.2zM117.1 23.21h5.2v5.57h-5.2zM132.1 23.21h5.2v5.57h-5.2zM142.1 23.21h5.2v5.57h-5.2zM157.1 23.21h5.2v5.57h-5.2zM197.1 23.21h5.2v5.57h-5.2zM97.1 28.58h20.2v5.57h-20.2zM137.1 28.58h5.2v5.57h-5.2zM107.1 33.95h10.2v5.57h-10.2zM112.1 39.31h15.2v5.57h-15.2zM52.1 44.68h5.2v5.57h-5.2zM127.1 44.68h5.2v5.57h-5.2zM182.1 44.68h5.2v5.57h-5.2zM52.1 50.04h5.2v5.57h-5.2zM127.1 50.04h5.2v5.57h-5.2zM177.1 50.04h10.2v5.57h-10.2zM117.1 55.41h5.2v5.57h-5.2zM127.1 55.41h15.2v5.57h-15.2zM117.1 60.78h5.2v5.57h-5.2zM162.1 60.78h5.2v5.57h-5.2zM117.1 66.14h5.2v5.57h-5.2zM132.1 66.14h5.2v5.57h-5.2zM142.1 66.14h10.2v5.57h-10.2zM157.1 66.14h5.2v5.57h-5.2zM132.09 71.51h5.2v5.57h-5.2zM152.08 71.51h5.2v5.57h-5.2zM132.05 82.24h5.19v5.57h-5.19zM127.04 87.61h10.18v5.57h-10.18zM142.02 87.61h5.19v5.57h-5.19zM152 87.61h5.19v5.57h-5.19zM161.98 87.61h5.19v5.57h-5.19zM112.06 92.97h10.18v5.57h-10.18zM127.03 92.97h5.19v5.57h-5.19zM156.96 92.97h5.19v5.57h-5.19zM112.05 98.34h5.19v5.57h-5.19zM122.02 98.34h10.17v5.57h-10.17zM141.97 98.34h10.17v5.57h-10.17zM156.93 98.34h5.19v5.57h-5.19zM141.95 103.7h5.18v5.57h-5.18zM151.92 103.7h10.17v5.57h-10.17zM122 109.07h5.18v5.57h-5.18zM141.92 109.07h15.14v5.57h-15.14zM141.9 114.44h10.16v5.57h-10.16zM151.83 119.8h5.18v5.57h-5.18zM131.89 130.53h5.17v5.57h-5.17zM47.39 135.9h5.17v5.57h-5.17zM62.3 135.9h10.14v5.57h-10.14zM97.08 135.9h5.17v5.57h-5.17zM126.9 135.9h10.14v5.57h-10.14zM141.81 135.9h5.17v5.57h-5.17zM2.71 141.27h20.07v5.57h-20.07zM47.41 141.27h5.17v5.57h-5.17zM67.28 141.27h5.17v5.57h-5.17zM77.21 141.27h5.17v5.57h-5.17zM102.05 141.27h5.17v5.57h-5.17zM37.51 146.63h15.09v5.57h-15.09zM92.12 146.63h5.16v5.57h-5.16zM37.53 152h5.16v5.57h-5.16zM107 152h5.16v5.57h-5.16zM116.93 152h15.09v5.57h-15.09zM136.78 152h5.16v5.57h-5.16zM22.68 157.36h10.12v5.57h-10.12zM37.56 157.36h5.16v5.57h-5.16zM92.12 157.36h10.12v5.57h-10.12zM107 157.36h10.12v5.57h-10.12zM131.8 157.36h5.16v5.57h-5.16zM27.67 162.73h5.16v5.57h-5.16zM121.87 162.73h5.16v5.57h-5.16zM131.78 162.73h10.11v5.57h-10.11zM32.66 168.1h5.16v5.57h-5.16zM131.76 168.1h10.11v5.57h-10.11zM2.98 173.46h5.15v5.57h-5.15zM22.79 173.46h10.11v5.57h-10.11zM131.74 173.46h5.15v5.57h-5.15zM141.65 173.46h10.11v5.57h-10.11zM7.97 178.83h10.1v5.57h-10.1zM111.92 184.19h5.15v5.57h-5.15zM121.81 184.19h5.15v5.57h-5.15zM156.42 189.56h5.15v5.57h-5.15zM92.13 194.93h5.14v5.57h-5.14zM111.9 194.93h5.14v5.57h-5.14zM121.79 194.93h10.09v5.57h-10.09zM92.13 200.29h5.14v5.57h-5.14zM116.83 200.29h19.96v5.57h-19.96z"/>
<path fill="rgb(241,239,232)" d="M92.1 1.75h5.2v5.57h-5.2zM102.1 1.75h5.2v5.57h-5.2zM147.1 1.75h5.2v5.57h-5.2zM197.1 1.75h10.2v5.57h-10.2zM142.1 7.12h5.2v5.57h-5.2zM187.1 7.12h5.2v5.57h-5.2zM197.1 7.12h10.2v5.57h-10.2zM57.1 12.48h15.2v5.57h-15.2zM77.1 12.48h5.2v5.57h-5.2zM167.1 12.48h10.2v5.57h-10.2zM192.1 12.48h5.2v5.57h-5.2zM202.1 12.48h5.2v5.57h-5.2zM122.1 23.21h10.2v5.57h-10.2zM137.1 23.21h5.2v5.57h-5.2zM147.1 23.21h5.2v5.57h-5.2zM162.1 23.21h10.2v5.57h-10.2zM192.1 23.21h5.2v5.57h-5.2zM202.1 23.21h5.2v5.57h-5.2zM132.1 28.58h5.2v5.57h-5.2zM142.1 28.58h10.2v5.57h-10.2zM157.1 28.58h10.2v5.57h-10.2zM207.1 28.58h10.2v5.57h-10.2zM117.1 33.95h5.2v5.57h-5.2zM132.1 33.95h10.2v5.57h-10.2zM152.1 33.95h25.2v5.57h-25.2zM127.1 39.31h5.2v5.57h-5.2zM162.1 39.31h5.2v5.57h-5.2zM187.1 44.68h5.2v5.57h-5.2zM142.1 55.41h5.2v5.57h-5.2zM162.1 55.41h10.2v5.57h-10.2zM177.1 55.41h5.2v5.57h-5.2zM147.1 60.78h5.2v5.57h-5.2zM157.1 60.78h5.2v5.57h-5.2zM172.1 60.78h5.2v5.57h-5.2zM122.1 66.14h10.2v5.57h-10.2zM152.1 66.14h5.2v5.57h-5.2zM132.07 76.87h5.2v5.57h-5.2zM117.06 87.61h10.18v5.57h-10.18zM151.97 92.97h5.19v5.57h-5.19zM151.94 98.34h5.19v5.57h-5.19zM117.03 103.7h5.18v5.57h-5.18zM146.93 103.7h5.18v5.57h-5.18zM156.87 109.07h5.18v5.57h-5.18zM151.86 114.44h10.16v5.57h-10.16zM2.62 130.53h10.14v5.57h-10.14zM42.42 135.9h5.17v5.57h-5.17zM42.44 141.27h5.17v5.57h-5.17zM126.89 141.27h10.13v5.57h-10.13zM97.08 146.63h10.13v5.57h-10.13zM126.87 146.63h15.09v5.57h-15.09zM42.5 152h5.16v5.57h-5.16zM97.08 152h10.12v5.57h-10.12zM131.82 152h5.16v5.57h-5.16zM32.6 157.36h5.16v5.57h-5.16zM42.52 157.36h5.16v5.57h-5.16zM102.04 157.36h5.16v5.57h-5.16zM116.92 157.36h15.08v5.57h-15.08zM136.76 157.36h10.12v5.57h-10.12zM42.55 162.73h5.16v5.57h-5.16zM126.82 162.73h5.16v5.57h-5.16zM141.67 168.1h5.16v5.57h-5.16zM32.69 173.46h5.15v5.57h-5.15zM136.7 173.46h5.15v5.57h-5.15zM3.02 178.83h5.15v5.57h-5.15zM8.01 184.19h5.15v5.57h-5.15zM116.86 184.19h5.15v5.57h-5.15zM8.06 189.56h5.15v5.57h-5.15zM111.91 189.56h15.04v5.57h-15.04zM8.1 194.93h5.14v5.57h-5.14zM97.07 194.93h15.03v5.57h-15.03zM116.84 194.93h5.14v5.57h-5.14zM111.89 200.29h5.14v5.57h-5.14z"/>
<path fill="rgb(244,240,235)" d="M132.1 1.75h5.2v5.57h-5.2zM212.1 1.75h5.2v5.57h-5.2zM137.1 7.12h5.2v5.57h-5.2zM207.1 7.12h10.2v5.57h-10.2zM207.1 12.48h5.2v5.57h-5.2zM167.1 17.85h5.2v5.57h-5.2zM172.1 23.21h5.2v5.57h-5.2zM117.1 28.58h5.2v5.57h-5.2zM127.1 28.58h5.2v5.57h-5.2zM152.1 28.58h5.2v5.57h-5.2zM167.1 28.58h10.2v5.57h-10.2zM202.1 28.58h5.2v5.57h-5.2zM122.1 33.95h10.2v5.57h-10.2zM142.1 33.95h10.2v5.57h-10.2zM177.1 33.95h5.2v5.57h-5.2zM152.1 39.31h10.2v5.57h-10.2zM167.1 39.31h25.2v5.57h-25.2zM152.1 44.68h10.2v5.57h-10.2zM172.1 44.68h10.2v5.57h-10.2zM147.1 50.04h10.2v5.57h-10.2zM167.1 50.04h10.2v5.57h-10.2zM147.1 55.41h5.2v5.57h-5.2zM157.1 55.41h5.2v5.57h-5.2zM172.1 55.41h5.2v5.57h-5.2zM127.09 71.51h5.2v5.57h-5.2zM117.07 82.24h5.19v5.57h-5.19zM2.66 135.9h10.14v5.57h-10.14zM136.84 135.9h5.17v5.57h-5.17zM97.08 141.27h5.17v5.57h-5.17zM27.61 152h5.16v5.57h-5.16zM37.62 168.1h5.16v5.57h-5.16zM3.11 189.56h5.15v5.57h-5.15zM97.07 200.29h15.02v5.57h-15.02z"/>
<path fill="rgb(248,242,238)" d="M137.1 1.75h10.2v5.57h-10.2zM207.1 1.75h5.2v5.57h-5.2zM177.1 12.48h15.2v5.57h-15.2zM212.1 12.48h5.2v5.57h-5.2zM172.1 17.85h20.2v5.57h-20.2zM207.1 17.85h10.2v5.57h-10.2zM177.1 23.21h15.2v5.57h-15.2zM207.1 23.21h10.2v5.57h-10.2zM122.1 28.58h5.2v5.57h-5.2zM177.1 28.58h25.2v5.57h-25.2zM182.1 33.95h25.2v5.57h-25.2zM132.1 39.31h20.2v5.57h-20.2zM192.1 39.31h5.2v5.57h-5.2zM132.1 44.68h20.2v5.57h-20.2zM162.1 44.68h10.2v5.57h-10.2zM132.1 50.04h15.2v5.57h-15.2zM157.1 50.04h10.2v5.57h-10.2zM152.1 55.41h5.2v5.57h-5.2zM152.1 60.78h5.2v5.57h-5.2zM117.09 71.51h10.2v5.57h-10.2zM117.08 76.87h15.19v5.57h-15.19zM122.06 82.24h10.19v5.57h-10.19zM136.82 141.27h5.17v5.57h-5.17zM42.57 168.1h5.16v5.57h-5.16z"/>
<path fill="rgb(228,232,219)" d="M102.1 12.48h5.2v5.57h-5.2zM117.1 12.48h5.2v5.57h-5.2zM102.1 17.85h15.2v5.57h-15.2zM47.1 23.21h10.2v5.57h-10.2zM162.08 71.51h10.2v5.57h-10.2zM162.05 76.87h5.2v5.57h-5.2zM162.01 82.24h10.19v5.57h-10.19zM7.51 119.8h5.18v5.57h-5.18zM32.39 119.8h5.18v5.57h-5.18zM116.96 135.9h5.17v5.57h-5.17zM116.95 141.27h5.17v5.57h-5.17zM12.68 146.63h5.16v5.57h-5.16zM2.8 152h5.16v5.57h-5.16zM2.84 157.36h5.16v5.57h-5.16zM7.89 168.1h5.16v5.57h-5.16zM17.8 168.1h5.16v5.57h-5.16zM97.08 168.1h15.07v5.57h-15.07zM116.9 168.1h5.16v5.57h-5.16zM92.12 178.83h10.1v5.57h-10.1zM111.92 178.83h5.15v5.57h-5.15zM131.71 184.19h10.1v5.57h-10.1zM151.5 184.19h5.15v5.57h-5.15zM97.07 189.56h10.09v5.57h-10.09zM146.47 200.29h10.08v5.57h-10.08z"/>
<path fill="rgb(224,230,215)" d="M112.1 12.48h5.2v5.57h-5.2zM167.04 76.87h5.2v5.57h-5.2zM7.72 146.63h5.16v5.57h-5.16zM17.72 157.36h5.16v5.57h-5.16zM7.84 162.73h5.16v5.57h-5.16zM17.76 162.73h5.16v5.57h-5.16zM111.94 168.1h5.16v5.57h-5.16zM97.08 173.46h5.15v5.57h-5.15zM106.98 173.46h10.11v5.57h-10.11zM106.97 184.19h5.15v5.57h-5.15zM141.6 184.19h10.1v5.57h-10.1zM131.69 189.56h10.09v5.57h-10.09zM151.47 189.56h5.15v5.57h-5.15zM136.61 194.93h5.14v5.57h-5.14zM151.44 194.93h5.14v5.57h-5.14zM141.53 200.29h5.14v5.57h-5.14z"/>
<path fill="rgb(221,228,212)" d="M52.1 28.58h5.2v5.57h-5.2zM7.76 152h5.16v5.57h-5.16zM17.68 152h5.16v5.57h-5.16zM7.8 157.36h10.12v5.57h-10.12zM12.8 162.73h5.16v5.57h-5.16zM12.84 168.1h5.16v5.57h-5.16zM102.03 173.46h5.15v5.57h-5.15zM116.89 173.46h5.15v5.57h-5.15zM102.02 178.83h10.1v5.57h-10.1zM97.07 184.19h5.15v5.57h-5.15zM141.58 189.56h5.15v5.57h-5.15zM141.56 194.93h10.09v5.57h-10.09z"/>
<path fill="rgb(216,226,208)" d="M212.1 66.14h5.2v5.57h-5.2zM212.06 71.51h5.2v5.57h-5.2zM212.01 76.87h5.2v5.57h-5.2zM211.95 82.24h5.19v5.57h-5.19zM206.9 87.61h10.18v5.57h-10.18zM206.85 92.97h10.18v5.57h-10.18zM211.78 98.34h5.19v5.57h-5.19zM12.72 152h5.16v5.57h-5.16zM146.53 189.56h5.15v5.57h-5.15z"/>
<path fill="rgb(174,208,179)" d="M211.5 125.17h5.17v5.57h-5.17zM211.44 130.53h5.17v5.57h-5.17z"/>
<path fill="rgb(211,223,204)" d="M102.02 184.19h5.15v5.57h-5.15z"/>
</g>
<path d="M0.9 0L6.7 208.9M32.1 0L37.6 208.9M63.4 0L68.6 208.9M94.6 0L99.6 208.9M125.9 0L130.6 208.9M157.1 0L161.5 208.9M188.4 0L192.6 208.9M0 19.1L219 14.2M0 46L219 41.1M0 72.7L219 67.8M0 99.4L219 94.5M0 126.3L219 121.4M0 152.8L219 147.9M0 179.5L219 174.6M0 206L219 201.1" stroke="#aeaeb0" stroke-width="1.25" fill="none"/>
<path d="M168.6 209 L168.6 196.2 L168 189.4 L165.5 184 L163.4 178.6 L160.7 173.1 L156.6 169.1 L152.6 166.6 L149.2 165.7 L150.5 160.9 L150.1 154.8 L148.5 149.4 L147.1 146 L149.2 142.6 L153.3 139.2 L156 135.1 L158.3 130.4 L158.7 124.9 L160 120.9 L161.4 119.4 L165.5 114.6 L167.5 109.9 L170.2 101.7 L172.9 92.2 L175.6 84.1 L177 75.9 L180.4 69.1 L183.1 61.7 L186.5 55.6 L190.6 49.5 L194.6 45.4 L200.1 42.7 L205.5 41.3 L208.9 40 L210.9 42 L210.7 44.7 L208.2 48.8 L206.2 55.6 L204.4 63.7 L203.5 71.9 L202.1 80 L200.3 86.8 L199.7 91.5 L201.4 95.6 L204.1 100.4 L205.9 105.1 L205.5 108.5 L204.1 110.5 L204.8 112.8 L206.9 111.9 L208.2 108.5 L210.3 107.5 L211.9 109.9 L211.9 113.9 L210.3 117.3 L207.5 120 L205.5 122.8 L205.2 125 L205.8 127.7 L204.4 131.1 L205.5 134.5 L208.2 137.2 L212.3 137.9 L215.7 135.8 L217.7 131.8 L220 128.5" stroke="#878787" stroke-width="1.5" fill="none" stroke-linejoin="round"/>
</g>
<rect x="0" y="0" width="219.0" height="208.9" fill="none" stroke="#000" stroke-width="1.1"/>
<text x="109.5" y="-30.3" style="font-size:16.67px" text-anchor="middle">q std. [K hr <tspan dy="-7.6" style="font-size:11.67px">−1</tspan><tspan dy="7.6">]</tspan></text>
<text x="0.9" y="-10.9" text-anchor="middle">112.5°E</text>
<text x="6.7" y="226.8" text-anchor="middle">112.5°E</text>
<text x="63.4" y="-10.9" text-anchor="middle">113°E</text>
<text x="68.6" y="226.8" text-anchor="middle">113°E</text>
<text x="125.9" y="-10.9" text-anchor="middle">113.5°E</text>
<text x="130.6" y="226.8" text-anchor="middle">113.5°E</text>
<text x="188.4" y="-10.9" text-anchor="middle">114°E</text>
<text x="192.6" y="226.8" text-anchor="middle">114°E</text>
<text x="-7.5" y="23.5" text-anchor="end">21.6°S</text>
<text x="-7.5" y="50.4" text-anchor="end">21.8°S</text>
<text x="-7.5" y="77.1" text-anchor="end">22°S</text>
<text x="-7.5" y="103.8" text-anchor="end">22.2°S</text>
<text x="-7.5" y="130.7" text-anchor="end">22.4°S</text>
<text x="-7.5" y="157.2" text-anchor="end">22.6°S</text>
<text x="-7.5" y="183.9" text-anchor="end">22.8°S</text>
<text x="-7.5" y="210.4" text-anchor="end">23°S</text>
<linearGradient id="g5" x1="0" y1="0" x2="0" y2="1"><stop offset="0%" stop-color="rgb(20,29,67)"/><stop offset="8.3%" stop-color="rgb(22,59,89)"/><stop offset="16.7%" stop-color="rgb(24,88,111)"/><stop offset="25%" stop-color="rgb(34,115,125)"/><stop offset="33.3%" stop-color="rgb(48,140,133)"/><stop offset="41.7%" stop-color="rgb(68,164,142)"/><stop offset="50%" stop-color="rgb(110,181,155)"/><stop offset="58.3%" stop-color="rgb(152,198,168)"/><stop offset="66.7%" stop-color="rgb(184,211,185)"/><stop offset="75%" stop-color="rgb(208,222,202)"/><stop offset="83.3%" stop-color="rgb(227,231,218)"/><stop offset="91.7%" stop-color="rgb(241,238,232)"/><stop offset="100%" stop-color="rgb(254,245,244)"/></linearGradient>
<rect x="233.0" y="80.0" width="2.2" height="49" fill="url(#g5)" stroke="#000" stroke-width="1"/>
<path d="M235.7 80h4.7" stroke="#000" stroke-width="1"/>
<text x="245.1" y="85.3">0.1</text>
<path d="M235.7 129h4.7" stroke="#000" stroke-width="1"/>
<text x="245.1" y="134.3">0.0</text>
</g>
</svg>
</body></html>
